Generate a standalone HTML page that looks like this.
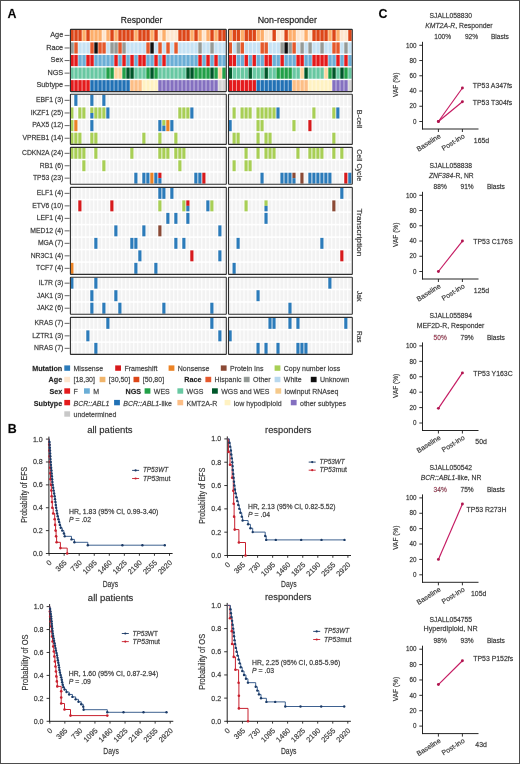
<!DOCTYPE html>
<html><head><meta charset="utf-8"><title>Figure</title>
<style>
html,body{margin:0;padding:0;background:#fff;}
body{width:520px;height:764px;overflow:hidden;}
svg{display:block;font-family:"Liberation Sans", sans-serif;will-change:transform;}
text{stroke:#3a3a3a;stroke-width:0.26px;stroke-opacity:0.65;}
</style></head>
<body>
<svg width="520" height="764" viewBox="0 0 520 764" font-family='"Liberation Sans", sans-serif'>
<rect x="0" y="0" width="520" height="764" fill="#fff"/>
<text x="7.6" y="17.6" font-size="12.4" font-weight="bold" fill="#000">A</text>
<text x="141.6" y="23.4" font-size="8.7" text-anchor="middle" textLength="41.7" lengthAdjust="spacingAndGlyphs">Responder</text>
<text x="287.3" y="23.4" font-size="8.7" text-anchor="middle" textLength="59.2" lengthAdjust="spacingAndGlyphs">Non-responder</text>
<rect x="70.3" y="29.8" width="3.45" height="11.2" fill="#dd4618" />
<rect x="74.3" y="29.8" width="3.45" height="11.2" fill="#dd4618" />
<rect x="78.3" y="29.8" width="3.45" height="11.2" fill="#dd4618" />
<rect x="82.3" y="29.8" width="3.45" height="11.2" fill="#fdae6b" />
<rect x="86.3" y="29.8" width="3.45" height="11.2" fill="#dd4618" />
<rect x="90.3" y="29.8" width="3.45" height="11.2" fill="#fdae6b" />
<rect x="94.3" y="29.8" width="3.45" height="11.2" fill="#fdae6b" />
<rect x="98.3" y="29.8" width="3.45" height="11.2" fill="#fdae6b" />
<rect x="102.3" y="29.8" width="3.45" height="11.2" fill="#fee6ce" />
<rect x="106.3" y="29.8" width="3.45" height="11.2" fill="#fdae6b" />
<rect x="110.3" y="29.8" width="3.45" height="11.2" fill="#dd4618" />
<rect x="114.3" y="29.8" width="3.45" height="11.2" fill="#fdae6b" />
<rect x="118.3" y="29.8" width="3.45" height="11.2" fill="#dd4618" />
<rect x="122.3" y="29.8" width="3.45" height="11.2" fill="#dd4618" />
<rect x="126.3" y="29.8" width="3.45" height="11.2" fill="#dd4618" />
<rect x="130.3" y="29.8" width="3.45" height="11.2" fill="#dd4618" />
<rect x="134.3" y="29.8" width="3.45" height="11.2" fill="#fdae6b" />
<rect x="138.3" y="29.8" width="3.45" height="11.2" fill="#dd4618" />
<rect x="142.3" y="29.8" width="3.45" height="11.2" fill="#dd4618" />
<rect x="146.3" y="29.8" width="3.45" height="11.2" fill="#dd4618" />
<rect x="150.3" y="29.8" width="3.45" height="11.2" fill="#fdae6b" />
<rect x="154.3" y="29.8" width="3.45" height="11.2" fill="#dd4618" />
<rect x="158.3" y="29.8" width="3.45" height="11.2" fill="#fee6ce" />
<rect x="162.3" y="29.8" width="3.45" height="11.2" fill="#fdae6b" />
<rect x="166.3" y="29.8" width="3.45" height="11.2" fill="#fee6ce" />
<rect x="170.3" y="29.8" width="3.45" height="11.2" fill="#fee6ce" />
<rect x="174.3" y="29.8" width="3.45" height="11.2" fill="#fee6ce" />
<rect x="178.3" y="29.8" width="3.45" height="11.2" fill="#dd4618" />
<rect x="182.3" y="29.8" width="3.45" height="11.2" fill="#dd4618" />
<rect x="186.3" y="29.8" width="3.45" height="11.2" fill="#dd4618" />
<rect x="190.3" y="29.8" width="3.45" height="11.2" fill="#fdae6b" />
<rect x="194.3" y="29.8" width="3.45" height="11.2" fill="#dd4618" />
<rect x="198.3" y="29.8" width="3.45" height="11.2" fill="#fdae6b" />
<rect x="202.3" y="29.8" width="3.45" height="11.2" fill="#fee6ce" />
<rect x="206.3" y="29.8" width="3.45" height="11.2" fill="#fdae6b" />
<rect x="210.3" y="29.8" width="3.45" height="11.2" fill="#dd4618" />
<rect x="214.3" y="29.8" width="3.45" height="11.2" fill="#fdae6b" />
<rect x="218.3" y="29.8" width="3.45" height="11.2" fill="#dd4618" />
<rect x="222.3" y="29.8" width="3.45" height="11.2" fill="#dd4618" />
<rect x="228.55" y="29.8" width="3.44" height="11.2" fill="#fdae6b" />
<rect x="232.54" y="29.8" width="3.44" height="11.2" fill="#dd4618" />
<rect x="236.53" y="29.8" width="3.44" height="11.2" fill="#dd4618" />
<rect x="240.52" y="29.8" width="3.44" height="11.2" fill="#fdae6b" />
<rect x="244.51" y="29.8" width="3.44" height="11.2" fill="#dd4618" />
<rect x="248.5" y="29.8" width="3.44" height="11.2" fill="#dd4618" />
<rect x="252.49" y="29.8" width="3.44" height="11.2" fill="#dd4618" />
<rect x="256.48" y="29.8" width="3.44" height="11.2" fill="#fdae6b" />
<rect x="260.47" y="29.8" width="3.44" height="11.2" fill="#fdae6b" />
<rect x="264.46" y="29.8" width="3.44" height="11.2" fill="#fee6ce" />
<rect x="268.45" y="29.8" width="3.44" height="11.2" fill="#fee6ce" />
<rect x="272.44" y="29.8" width="3.44" height="11.2" fill="#dd4618" />
<rect x="276.43" y="29.8" width="3.44" height="11.2" fill="#fee6ce" />
<rect x="280.42" y="29.8" width="3.44" height="11.2" fill="#fee6ce" />
<rect x="284.41" y="29.8" width="3.44" height="11.2" fill="#dd4618" />
<rect x="288.4" y="29.8" width="3.44" height="11.2" fill="#fdae6b" />
<rect x="292.39" y="29.8" width="3.44" height="11.2" fill="#fdae6b" />
<rect x="296.38" y="29.8" width="3.44" height="11.2" fill="#fee6ce" />
<rect x="300.37" y="29.8" width="3.44" height="11.2" fill="#fee6ce" />
<rect x="304.36" y="29.8" width="3.44" height="11.2" fill="#fdae6b" />
<rect x="308.35" y="29.8" width="3.44" height="11.2" fill="#fee6ce" />
<rect x="312.34" y="29.8" width="3.44" height="11.2" fill="#dd4618" />
<rect x="316.33" y="29.8" width="3.44" height="11.2" fill="#dd4618" />
<rect x="320.32" y="29.8" width="3.44" height="11.2" fill="#dd4618" />
<rect x="324.31" y="29.8" width="3.44" height="11.2" fill="#dd4618" />
<rect x="328.3" y="29.8" width="3.44" height="11.2" fill="#fdae6b" />
<rect x="332.29" y="29.8" width="3.44" height="11.2" fill="#dd4618" />
<rect x="336.28" y="29.8" width="3.44" height="11.2" fill="#fdae6b" />
<rect x="340.27" y="29.8" width="3.44" height="11.2" fill="#fee6ce" />
<rect x="344.26" y="29.8" width="3.44" height="11.2" fill="#fee6ce" />
<rect x="348.25" y="29.8" width="3.44" height="11.2" fill="#dd4618" />
<line x1="64.6" y1="35.4" x2="69.6" y2="35.4" stroke="#555" stroke-width="0.9" />
<text x="63.2" y="37.1" font-size="7.3" text-anchor="end" fill="#333">Age</text>
<rect x="70.3" y="42.38" width="3.45" height="11.2" fill="#949a97" />
<rect x="74.3" y="42.38" width="3.45" height="11.2" fill="#e4582c" />
<rect x="78.3" y="42.38" width="3.45" height="11.2" fill="#c6e2f4" />
<rect x="82.3" y="42.38" width="3.45" height="11.2" fill="#c6e2f4" />
<rect x="86.3" y="42.38" width="3.45" height="11.2" fill="#c6e2f4" />
<rect x="90.3" y="42.38" width="3.45" height="11.2" fill="#e4582c" />
<rect x="94.3" y="42.38" width="3.45" height="11.2" fill="#111111" />
<rect x="98.3" y="42.38" width="3.45" height="11.2" fill="#e4582c" />
<rect x="102.3" y="42.38" width="3.45" height="11.2" fill="#e4582c" />
<rect x="106.3" y="42.38" width="3.45" height="11.2" fill="#c6e2f4" />
<rect x="110.3" y="42.38" width="3.45" height="11.2" fill="#949a97" />
<rect x="114.3" y="42.38" width="3.45" height="11.2" fill="#949a97" />
<rect x="118.3" y="42.38" width="3.45" height="11.2" fill="#e4582c" />
<rect x="122.3" y="42.38" width="3.45" height="11.2" fill="#949a97" />
<rect x="126.3" y="42.38" width="3.45" height="11.2" fill="#c6e2f4" />
<rect x="130.3" y="42.38" width="3.45" height="11.2" fill="#c6e2f4" />
<rect x="134.3" y="42.38" width="3.45" height="11.2" fill="#c6e2f4" />
<rect x="138.3" y="42.38" width="3.45" height="11.2" fill="#c6e2f4" />
<rect x="142.3" y="42.38" width="3.45" height="11.2" fill="#c6e2f4" />
<rect x="146.3" y="42.38" width="3.45" height="11.2" fill="#e4582c" />
<rect x="150.3" y="42.38" width="3.45" height="11.2" fill="#111111" />
<rect x="154.3" y="42.38" width="3.45" height="11.2" fill="#c6e2f4" />
<rect x="158.3" y="42.38" width="3.45" height="11.2" fill="#e4582c" />
<rect x="162.3" y="42.38" width="3.45" height="11.2" fill="#c6e2f4" />
<rect x="166.3" y="42.38" width="3.45" height="11.2" fill="#e4582c" />
<rect x="170.3" y="42.38" width="3.45" height="11.2" fill="#c6e2f4" />
<rect x="174.3" y="42.38" width="3.45" height="11.2" fill="#e4582c" />
<rect x="178.3" y="42.38" width="3.45" height="11.2" fill="#c6e2f4" />
<rect x="182.3" y="42.38" width="3.45" height="11.2" fill="#c6e2f4" />
<rect x="186.3" y="42.38" width="3.45" height="11.2" fill="#c6e2f4" />
<rect x="190.3" y="42.38" width="3.45" height="11.2" fill="#c6e2f4" />
<rect x="194.3" y="42.38" width="3.45" height="11.2" fill="#c6e2f4" />
<rect x="198.3" y="42.38" width="3.45" height="11.2" fill="#949a97" />
<rect x="202.3" y="42.38" width="3.45" height="11.2" fill="#c6e2f4" />
<rect x="206.3" y="42.38" width="3.45" height="11.2" fill="#c6e2f4" />
<rect x="210.3" y="42.38" width="3.45" height="11.2" fill="#949a97" />
<rect x="214.3" y="42.38" width="3.45" height="11.2" fill="#c6e2f4" />
<rect x="218.3" y="42.38" width="3.45" height="11.2" fill="#c6e2f4" />
<rect x="222.3" y="42.38" width="3.45" height="11.2" fill="#c6e2f4" />
<rect x="228.55" y="42.38" width="3.44" height="11.2" fill="#e4582c" />
<rect x="232.54" y="42.38" width="3.44" height="11.2" fill="#c6e2f4" />
<rect x="236.53" y="42.38" width="3.44" height="11.2" fill="#949a97" />
<rect x="240.52" y="42.38" width="3.44" height="11.2" fill="#e4582c" />
<rect x="244.51" y="42.38" width="3.44" height="11.2" fill="#c6e2f4" />
<rect x="248.5" y="42.38" width="3.44" height="11.2" fill="#c6e2f4" />
<rect x="252.49" y="42.38" width="3.44" height="11.2" fill="#c6e2f4" />
<rect x="256.48" y="42.38" width="3.44" height="11.2" fill="#c6e2f4" />
<rect x="260.47" y="42.38" width="3.44" height="11.2" fill="#e4582c" />
<rect x="264.46" y="42.38" width="3.44" height="11.2" fill="#e4582c" />
<rect x="268.45" y="42.38" width="3.44" height="11.2" fill="#c6e2f4" />
<rect x="272.44" y="42.38" width="3.44" height="11.2" fill="#c6e2f4" />
<rect x="276.43" y="42.38" width="3.44" height="11.2" fill="#c6e2f4" />
<rect x="280.42" y="42.38" width="3.44" height="11.2" fill="#949a97" />
<rect x="284.41" y="42.38" width="3.44" height="11.2" fill="#111111" />
<rect x="288.4" y="42.38" width="3.44" height="11.2" fill="#949a97" />
<rect x="292.39" y="42.38" width="3.44" height="11.2" fill="#e4582c" />
<rect x="296.38" y="42.38" width="3.44" height="11.2" fill="#c6e2f4" />
<rect x="300.37" y="42.38" width="3.44" height="11.2" fill="#949a97" />
<rect x="304.36" y="42.38" width="3.44" height="11.2" fill="#c6e2f4" />
<rect x="308.35" y="42.38" width="3.44" height="11.2" fill="#949a97" />
<rect x="312.34" y="42.38" width="3.44" height="11.2" fill="#c6e2f4" />
<rect x="316.33" y="42.38" width="3.44" height="11.2" fill="#c6e2f4" />
<rect x="320.32" y="42.38" width="3.44" height="11.2" fill="#949a97" />
<rect x="324.31" y="42.38" width="3.44" height="11.2" fill="#c6e2f4" />
<rect x="328.3" y="42.38" width="3.44" height="11.2" fill="#c6e2f4" />
<rect x="332.29" y="42.38" width="3.44" height="11.2" fill="#e4582c" />
<rect x="336.28" y="42.38" width="3.44" height="11.2" fill="#e4582c" />
<rect x="340.27" y="42.38" width="3.44" height="11.2" fill="#c6e2f4" />
<rect x="344.26" y="42.38" width="3.44" height="11.2" fill="#949a97" />
<rect x="348.25" y="42.38" width="3.44" height="11.2" fill="#c6e2f4" />
<line x1="64.6" y1="47.98" x2="69.6" y2="47.98" stroke="#555" stroke-width="0.9" />
<text x="63.2" y="49.68" font-size="7.3" text-anchor="end" fill="#333">Race</text>
<rect x="70.3" y="54.96" width="3.45" height="11.2" fill="#e41a1c" />
<rect x="74.3" y="54.96" width="3.45" height="11.2" fill="#e41a1c" />
<rect x="78.3" y="54.96" width="3.45" height="11.2" fill="#6baed6" />
<rect x="82.3" y="54.96" width="3.45" height="11.2" fill="#6baed6" />
<rect x="86.3" y="54.96" width="3.45" height="11.2" fill="#e41a1c" />
<rect x="90.3" y="54.96" width="3.45" height="11.2" fill="#e41a1c" />
<rect x="94.3" y="54.96" width="3.45" height="11.2" fill="#6baed6" />
<rect x="98.3" y="54.96" width="3.45" height="11.2" fill="#6baed6" />
<rect x="102.3" y="54.96" width="3.45" height="11.2" fill="#6baed6" />
<rect x="106.3" y="54.96" width="3.45" height="11.2" fill="#6baed6" />
<rect x="110.3" y="54.96" width="3.45" height="11.2" fill="#6baed6" />
<rect x="114.3" y="54.96" width="3.45" height="11.2" fill="#e41a1c" />
<rect x="118.3" y="54.96" width="3.45" height="11.2" fill="#6baed6" />
<rect x="122.3" y="54.96" width="3.45" height="11.2" fill="#e41a1c" />
<rect x="126.3" y="54.96" width="3.45" height="11.2" fill="#6baed6" />
<rect x="130.3" y="54.96" width="3.45" height="11.2" fill="#e41a1c" />
<rect x="134.3" y="54.96" width="3.45" height="11.2" fill="#6baed6" />
<rect x="138.3" y="54.96" width="3.45" height="11.2" fill="#e41a1c" />
<rect x="142.3" y="54.96" width="3.45" height="11.2" fill="#e41a1c" />
<rect x="146.3" y="54.96" width="3.45" height="11.2" fill="#6baed6" />
<rect x="150.3" y="54.96" width="3.45" height="11.2" fill="#6baed6" />
<rect x="154.3" y="54.96" width="3.45" height="11.2" fill="#e41a1c" />
<rect x="158.3" y="54.96" width="3.45" height="11.2" fill="#6baed6" />
<rect x="162.3" y="54.96" width="3.45" height="11.2" fill="#e41a1c" />
<rect x="166.3" y="54.96" width="3.45" height="11.2" fill="#6baed6" />
<rect x="170.3" y="54.96" width="3.45" height="11.2" fill="#6baed6" />
<rect x="174.3" y="54.96" width="3.45" height="11.2" fill="#6baed6" />
<rect x="178.3" y="54.96" width="3.45" height="11.2" fill="#6baed6" />
<rect x="182.3" y="54.96" width="3.45" height="11.2" fill="#6baed6" />
<rect x="186.3" y="54.96" width="3.45" height="11.2" fill="#6baed6" />
<rect x="190.3" y="54.96" width="3.45" height="11.2" fill="#6baed6" />
<rect x="194.3" y="54.96" width="3.45" height="11.2" fill="#6baed6" />
<rect x="198.3" y="54.96" width="3.45" height="11.2" fill="#e41a1c" />
<rect x="202.3" y="54.96" width="3.45" height="11.2" fill="#6baed6" />
<rect x="206.3" y="54.96" width="3.45" height="11.2" fill="#e41a1c" />
<rect x="210.3" y="54.96" width="3.45" height="11.2" fill="#6baed6" />
<rect x="214.3" y="54.96" width="3.45" height="11.2" fill="#e41a1c" />
<rect x="218.3" y="54.96" width="3.45" height="11.2" fill="#6baed6" />
<rect x="222.3" y="54.96" width="3.45" height="11.2" fill="#6baed6" />
<rect x="228.55" y="54.96" width="3.44" height="11.2" fill="#e41a1c" />
<rect x="232.54" y="54.96" width="3.44" height="11.2" fill="#e41a1c" />
<rect x="236.53" y="54.96" width="3.44" height="11.2" fill="#6baed6" />
<rect x="240.52" y="54.96" width="3.44" height="11.2" fill="#6baed6" />
<rect x="244.51" y="54.96" width="3.44" height="11.2" fill="#e41a1c" />
<rect x="248.5" y="54.96" width="3.44" height="11.2" fill="#6baed6" />
<rect x="252.49" y="54.96" width="3.44" height="11.2" fill="#e41a1c" />
<rect x="256.48" y="54.96" width="3.44" height="11.2" fill="#6baed6" />
<rect x="260.47" y="54.96" width="3.44" height="11.2" fill="#6baed6" />
<rect x="264.46" y="54.96" width="3.44" height="11.2" fill="#e41a1c" />
<rect x="268.45" y="54.96" width="3.44" height="11.2" fill="#e41a1c" />
<rect x="272.44" y="54.96" width="3.44" height="11.2" fill="#6baed6" />
<rect x="276.43" y="54.96" width="3.44" height="11.2" fill="#6baed6" />
<rect x="280.42" y="54.96" width="3.44" height="11.2" fill="#e41a1c" />
<rect x="284.41" y="54.96" width="3.44" height="11.2" fill="#6baed6" />
<rect x="288.4" y="54.96" width="3.44" height="11.2" fill="#6baed6" />
<rect x="292.39" y="54.96" width="3.44" height="11.2" fill="#6baed6" />
<rect x="296.38" y="54.96" width="3.44" height="11.2" fill="#e41a1c" />
<rect x="300.37" y="54.96" width="3.44" height="11.2" fill="#e41a1c" />
<rect x="304.36" y="54.96" width="3.44" height="11.2" fill="#6baed6" />
<rect x="308.35" y="54.96" width="3.44" height="11.2" fill="#6baed6" />
<rect x="312.34" y="54.96" width="3.44" height="11.2" fill="#e41a1c" />
<rect x="316.33" y="54.96" width="3.44" height="11.2" fill="#e41a1c" />
<rect x="320.32" y="54.96" width="3.44" height="11.2" fill="#e41a1c" />
<rect x="324.31" y="54.96" width="3.44" height="11.2" fill="#e41a1c" />
<rect x="328.3" y="54.96" width="3.44" height="11.2" fill="#6baed6" />
<rect x="332.29" y="54.96" width="3.44" height="11.2" fill="#6baed6" />
<rect x="336.28" y="54.96" width="3.44" height="11.2" fill="#e41a1c" />
<rect x="340.27" y="54.96" width="3.44" height="11.2" fill="#6baed6" />
<rect x="344.26" y="54.96" width="3.44" height="11.2" fill="#e41a1c" />
<rect x="348.25" y="54.96" width="3.44" height="11.2" fill="#6baed6" />
<line x1="64.6" y1="60.56" x2="69.6" y2="60.56" stroke="#555" stroke-width="0.9" />
<text x="63.2" y="62.26" font-size="7.3" text-anchor="end" fill="#333">Sex</text>
<rect x="70.3" y="67.54" width="3.45" height="11.2" fill="#68c8a2" />
<rect x="74.3" y="67.54" width="3.45" height="11.2" fill="#68c8a2" />
<rect x="78.3" y="67.54" width="3.45" height="11.2" fill="#68c8a2" />
<rect x="82.3" y="67.54" width="3.45" height="11.2" fill="#68c8a2" />
<rect x="86.3" y="67.54" width="3.45" height="11.2" fill="#68c8a2" />
<rect x="90.3" y="67.54" width="3.45" height="11.2" fill="#68c8a2" />
<rect x="94.3" y="67.54" width="3.45" height="11.2" fill="#68c8a2" />
<rect x="98.3" y="67.54" width="3.45" height="11.2" fill="#68c8a2" />
<rect x="102.3" y="67.54" width="3.45" height="11.2" fill="#68c8a2" />
<rect x="106.3" y="67.54" width="3.45" height="11.2" fill="#22a048" />
<rect x="110.3" y="67.54" width="3.45" height="11.2" fill="#22a048" />
<rect x="114.3" y="67.54" width="3.45" height="11.2" fill="#fdd49e" />
<rect x="118.3" y="67.54" width="3.45" height="11.2" fill="#fdd49e" />
<rect x="122.3" y="67.54" width="3.45" height="11.2" fill="#22a048" />
<rect x="126.3" y="67.54" width="3.45" height="11.2" fill="#00572a" />
<rect x="130.3" y="67.54" width="3.45" height="11.2" fill="#00572a" />
<rect x="134.3" y="67.54" width="3.45" height="11.2" fill="#68c8a2" />
<rect x="138.3" y="67.54" width="3.45" height="11.2" fill="#68c8a2" />
<rect x="142.3" y="67.54" width="3.45" height="11.2" fill="#68c8a2" />
<rect x="146.3" y="67.54" width="3.45" height="11.2" fill="#22a048" />
<rect x="150.3" y="67.54" width="3.45" height="11.2" fill="#00572a" />
<rect x="154.3" y="67.54" width="3.45" height="11.2" fill="#22a048" />
<rect x="158.3" y="67.54" width="3.45" height="11.2" fill="#68c8a2" />
<rect x="162.3" y="67.54" width="3.45" height="11.2" fill="#68c8a2" />
<rect x="166.3" y="67.54" width="3.45" height="11.2" fill="#68c8a2" />
<rect x="170.3" y="67.54" width="3.45" height="11.2" fill="#68c8a2" />
<rect x="174.3" y="67.54" width="3.45" height="11.2" fill="#68c8a2" />
<rect x="178.3" y="67.54" width="3.45" height="11.2" fill="#68c8a2" />
<rect x="182.3" y="67.54" width="3.45" height="11.2" fill="#68c8a2" />
<rect x="186.3" y="67.54" width="3.45" height="11.2" fill="#00572a" />
<rect x="190.3" y="67.54" width="3.45" height="11.2" fill="#00572a" />
<rect x="194.3" y="67.54" width="3.45" height="11.2" fill="#22a048" />
<rect x="198.3" y="67.54" width="3.45" height="11.2" fill="#22a048" />
<rect x="202.3" y="67.54" width="3.45" height="11.2" fill="#22a048" />
<rect x="206.3" y="67.54" width="3.45" height="11.2" fill="#22a048" />
<rect x="210.3" y="67.54" width="3.45" height="11.2" fill="#00572a" />
<rect x="214.3" y="67.54" width="3.45" height="11.2" fill="#22a048" />
<rect x="218.3" y="67.54" width="3.45" height="11.2" fill="#fdd49e" />
<rect x="222.3" y="67.54" width="3.45" height="11.2" fill="#22a048" />
<rect x="228.55" y="67.54" width="3.44" height="11.2" fill="#00572a" />
<rect x="232.54" y="67.54" width="3.44" height="11.2" fill="#68c8a2" />
<rect x="236.53" y="67.54" width="3.44" height="11.2" fill="#68c8a2" />
<rect x="240.52" y="67.54" width="3.44" height="11.2" fill="#68c8a2" />
<rect x="244.51" y="67.54" width="3.44" height="11.2" fill="#68c8a2" />
<rect x="248.5" y="67.54" width="3.44" height="11.2" fill="#00572a" />
<rect x="252.49" y="67.54" width="3.44" height="11.2" fill="#68c8a2" />
<rect x="256.48" y="67.54" width="3.44" height="11.2" fill="#68c8a2" />
<rect x="260.47" y="67.54" width="3.44" height="11.2" fill="#68c8a2" />
<rect x="264.46" y="67.54" width="3.44" height="11.2" fill="#00572a" />
<rect x="268.45" y="67.54" width="3.44" height="11.2" fill="#68c8a2" />
<rect x="272.44" y="67.54" width="3.44" height="11.2" fill="#68c8a2" />
<rect x="276.43" y="67.54" width="3.44" height="11.2" fill="#22a048" />
<rect x="280.42" y="67.54" width="3.44" height="11.2" fill="#22a048" />
<rect x="284.41" y="67.54" width="3.44" height="11.2" fill="#22a048" />
<rect x="288.4" y="67.54" width="3.44" height="11.2" fill="#22a048" />
<rect x="292.39" y="67.54" width="3.44" height="11.2" fill="#68c8a2" />
<rect x="296.38" y="67.54" width="3.44" height="11.2" fill="#68c8a2" />
<rect x="300.37" y="67.54" width="3.44" height="11.2" fill="#fdd49e" />
<rect x="304.36" y="67.54" width="3.44" height="11.2" fill="#00572a" />
<rect x="308.35" y="67.54" width="3.44" height="11.2" fill="#68c8a2" />
<rect x="312.34" y="67.54" width="3.44" height="11.2" fill="#68c8a2" />
<rect x="316.33" y="67.54" width="3.44" height="11.2" fill="#68c8a2" />
<rect x="320.32" y="67.54" width="3.44" height="11.2" fill="#68c8a2" />
<rect x="324.31" y="67.54" width="3.44" height="11.2" fill="#fdd49e" />
<rect x="328.3" y="67.54" width="3.44" height="11.2" fill="#22a048" />
<rect x="332.29" y="67.54" width="3.44" height="11.2" fill="#00572a" />
<rect x="336.28" y="67.54" width="3.44" height="11.2" fill="#68c8a2" />
<rect x="340.27" y="67.54" width="3.44" height="11.2" fill="#00572a" />
<rect x="344.26" y="67.54" width="3.44" height="11.2" fill="#22a048" />
<rect x="348.25" y="67.54" width="3.44" height="11.2" fill="#68c8a2" />
<line x1="64.6" y1="73.14" x2="69.6" y2="73.14" stroke="#555" stroke-width="0.9" />
<text x="63.2" y="74.84" font-size="7.3" text-anchor="end" fill="#333">NGS</text>
<rect x="70.3" y="80.12" width="3.45" height="11.2" fill="#e41a1c" />
<rect x="74.3" y="80.12" width="3.45" height="11.2" fill="#e41a1c" />
<rect x="78.3" y="80.12" width="3.45" height="11.2" fill="#e41a1c" />
<rect x="82.3" y="80.12" width="3.45" height="11.2" fill="#e41a1c" />
<rect x="86.3" y="80.12" width="3.45" height="11.2" fill="#e41a1c" />
<rect x="90.3" y="80.12" width="3.45" height="11.2" fill="#2171b5" />
<rect x="94.3" y="80.12" width="3.45" height="11.2" fill="#2171b5" />
<rect x="98.3" y="80.12" width="3.45" height="11.2" fill="#2171b5" />
<rect x="102.3" y="80.12" width="3.45" height="11.2" fill="#2171b5" />
<rect x="106.3" y="80.12" width="3.45" height="11.2" fill="#2171b5" />
<rect x="110.3" y="80.12" width="3.45" height="11.2" fill="#2171b5" />
<rect x="114.3" y="80.12" width="3.45" height="11.2" fill="#2171b5" />
<rect x="118.3" y="80.12" width="3.45" height="11.2" fill="#2171b5" />
<rect x="122.3" y="80.12" width="3.45" height="11.2" fill="#2171b5" />
<rect x="126.3" y="80.12" width="3.45" height="11.2" fill="#2171b5" />
<rect x="130.3" y="80.12" width="3.45" height="11.2" fill="#fdbe85" />
<rect x="134.3" y="80.12" width="3.45" height="11.2" fill="#fdbe85" />
<rect x="138.3" y="80.12" width="3.45" height="11.2" fill="#fdbe85" />
<rect x="142.3" y="80.12" width="3.45" height="11.2" fill="#fff2c2" />
<rect x="146.3" y="80.12" width="3.45" height="11.2" fill="#fff2c2" />
<rect x="150.3" y="80.12" width="3.45" height="11.2" fill="#fff2c2" />
<rect x="154.3" y="80.12" width="3.45" height="11.2" fill="#fff2c2" />
<rect x="158.3" y="80.12" width="3.45" height="11.2" fill="#8470c0" />
<rect x="162.3" y="80.12" width="3.45" height="11.2" fill="#8470c0" />
<rect x="166.3" y="80.12" width="3.45" height="11.2" fill="#8470c0" />
<rect x="170.3" y="80.12" width="3.45" height="11.2" fill="#8470c0" />
<rect x="174.3" y="80.12" width="3.45" height="11.2" fill="#8470c0" />
<rect x="178.3" y="80.12" width="3.45" height="11.2" fill="#8470c0" />
<rect x="182.3" y="80.12" width="3.45" height="11.2" fill="#8470c0" />
<rect x="186.3" y="80.12" width="3.45" height="11.2" fill="#8470c0" />
<rect x="190.3" y="80.12" width="3.45" height="11.2" fill="#8470c0" />
<rect x="194.3" y="80.12" width="3.45" height="11.2" fill="#8470c0" />
<rect x="198.3" y="80.12" width="3.45" height="11.2" fill="#8470c0" />
<rect x="202.3" y="80.12" width="3.45" height="11.2" fill="#8470c0" />
<rect x="206.3" y="80.12" width="3.45" height="11.2" fill="#8470c0" />
<rect x="210.3" y="80.12" width="3.45" height="11.2" fill="#8470c0" />
<rect x="214.3" y="80.12" width="3.45" height="11.2" fill="#8470c0" />
<rect x="218.3" y="80.12" width="3.45" height="11.2" fill="#d4d4d4" />
<rect x="222.3" y="80.12" width="3.45" height="11.2" fill="#d4d4d4" />
<rect x="228.55" y="80.12" width="3.44" height="11.2" fill="#e41a1c" />
<rect x="232.54" y="80.12" width="3.44" height="11.2" fill="#e41a1c" />
<rect x="236.53" y="80.12" width="3.44" height="11.2" fill="#e41a1c" />
<rect x="240.52" y="80.12" width="3.44" height="11.2" fill="#e41a1c" />
<rect x="244.51" y="80.12" width="3.44" height="11.2" fill="#e41a1c" />
<rect x="248.5" y="80.12" width="3.44" height="11.2" fill="#e41a1c" />
<rect x="252.49" y="80.12" width="3.44" height="11.2" fill="#e41a1c" />
<rect x="256.48" y="80.12" width="3.44" height="11.2" fill="#2171b5" />
<rect x="260.47" y="80.12" width="3.44" height="11.2" fill="#2171b5" />
<rect x="264.46" y="80.12" width="3.44" height="11.2" fill="#2171b5" />
<rect x="268.45" y="80.12" width="3.44" height="11.2" fill="#2171b5" />
<rect x="272.44" y="80.12" width="3.44" height="11.2" fill="#2171b5" />
<rect x="276.43" y="80.12" width="3.44" height="11.2" fill="#2171b5" />
<rect x="280.42" y="80.12" width="3.44" height="11.2" fill="#2171b5" />
<rect x="284.41" y="80.12" width="3.44" height="11.2" fill="#2171b5" />
<rect x="288.4" y="80.12" width="3.44" height="11.2" fill="#2171b5" />
<rect x="292.39" y="80.12" width="3.44" height="11.2" fill="#fdbe85" />
<rect x="296.38" y="80.12" width="3.44" height="11.2" fill="#fdbe85" />
<rect x="300.37" y="80.12" width="3.44" height="11.2" fill="#fdbe85" />
<rect x="304.36" y="80.12" width="3.44" height="11.2" fill="#fdbe85" />
<rect x="308.35" y="80.12" width="3.44" height="11.2" fill="#fff2c2" />
<rect x="312.34" y="80.12" width="3.44" height="11.2" fill="#fff2c2" />
<rect x="316.33" y="80.12" width="3.44" height="11.2" fill="#fff2c2" />
<rect x="320.32" y="80.12" width="3.44" height="11.2" fill="#fff2c2" />
<rect x="324.31" y="80.12" width="3.44" height="11.2" fill="#fff2c2" />
<rect x="328.3" y="80.12" width="3.44" height="11.2" fill="#fff2c2" />
<rect x="332.29" y="80.12" width="3.44" height="11.2" fill="#8470c0" />
<rect x="336.28" y="80.12" width="3.44" height="11.2" fill="#8470c0" />
<rect x="340.27" y="80.12" width="3.44" height="11.2" fill="#8470c0" />
<rect x="344.26" y="80.12" width="3.44" height="11.2" fill="#8470c0" />
<rect x="348.25" y="80.12" width="3.44" height="11.2" fill="#d4d4d4" />
<line x1="64.6" y1="85.72" x2="69.6" y2="85.72" stroke="#555" stroke-width="0.9" />
<text x="63.2" y="87.42" font-size="7.3" text-anchor="end" fill="#333">Subtype</text>
<rect x="70.4" y="29.4" width="155.9" height="62.2" rx="0.5" fill="none" stroke="#2e2e2e" stroke-width="1.1"/>
<rect x="228.5" y="29.4" width="123.8" height="62.2" rx="0.5" fill="none" stroke="#2e2e2e" stroke-width="1.1"/>
<rect x="70.3" y="94.8" width="2.95" height="11.09" fill="#f2f2f2" />
<rect x="74.3" y="94.8" width="2.95" height="11.09" fill="#f2f2f2" />
<rect x="74.3" y="94.8" width="3.15" height="11.09" fill="#2b7bba" />
<rect x="78.3" y="94.8" width="2.95" height="11.09" fill="#f2f2f2" />
<rect x="82.3" y="94.8" width="2.95" height="11.09" fill="#f2f2f2" />
<rect x="86.3" y="94.8" width="2.95" height="11.09" fill="#f2f2f2" />
<rect x="90.3" y="94.8" width="2.95" height="11.09" fill="#f2f2f2" />
<rect x="90.3" y="94.8" width="3.15" height="11.09" fill="#2b7bba" />
<rect x="94.3" y="94.8" width="2.95" height="11.09" fill="#f2f2f2" />
<rect x="98.3" y="94.8" width="2.95" height="11.09" fill="#f2f2f2" />
<rect x="102.3" y="94.8" width="2.95" height="11.09" fill="#f2f2f2" />
<rect x="102.3" y="94.8" width="3.15" height="11.09" fill="#2b7bba" />
<rect x="106.3" y="94.8" width="2.95" height="11.09" fill="#f2f2f2" />
<rect x="110.3" y="94.8" width="2.95" height="11.09" fill="#f2f2f2" />
<rect x="114.3" y="94.8" width="2.95" height="11.09" fill="#f2f2f2" />
<rect x="118.3" y="94.8" width="2.95" height="11.09" fill="#f2f2f2" />
<rect x="122.3" y="94.8" width="2.95" height="11.09" fill="#f2f2f2" />
<rect x="126.3" y="94.8" width="2.95" height="11.09" fill="#f2f2f2" />
<rect x="130.3" y="94.8" width="2.95" height="11.09" fill="#f2f2f2" />
<rect x="134.3" y="94.8" width="2.95" height="11.09" fill="#f2f2f2" />
<rect x="138.3" y="94.8" width="2.95" height="11.09" fill="#f2f2f2" />
<rect x="142.3" y="94.8" width="2.95" height="11.09" fill="#f2f2f2" />
<rect x="146.3" y="94.8" width="2.95" height="11.09" fill="#f2f2f2" />
<rect x="150.3" y="94.8" width="2.95" height="11.09" fill="#f2f2f2" />
<rect x="154.3" y="94.8" width="2.95" height="11.09" fill="#f2f2f2" />
<rect x="158.3" y="94.8" width="2.95" height="11.09" fill="#f2f2f2" />
<rect x="162.3" y="94.8" width="2.95" height="11.09" fill="#f2f2f2" />
<rect x="166.3" y="94.8" width="2.95" height="11.09" fill="#f2f2f2" />
<rect x="170.3" y="94.8" width="2.95" height="11.09" fill="#f2f2f2" />
<rect x="174.3" y="94.8" width="2.95" height="11.09" fill="#f2f2f2" />
<rect x="178.3" y="94.8" width="2.95" height="11.09" fill="#f2f2f2" />
<rect x="182.3" y="94.8" width="2.95" height="11.09" fill="#f2f2f2" />
<rect x="186.3" y="94.8" width="2.95" height="11.09" fill="#f2f2f2" />
<rect x="190.3" y="94.8" width="2.95" height="11.09" fill="#f2f2f2" />
<rect x="194.3" y="94.8" width="2.95" height="11.09" fill="#f2f2f2" />
<rect x="198.3" y="94.8" width="2.95" height="11.09" fill="#f2f2f2" />
<rect x="202.3" y="94.8" width="2.95" height="11.09" fill="#f2f2f2" />
<rect x="206.3" y="94.8" width="2.95" height="11.09" fill="#f2f2f2" />
<rect x="210.3" y="94.8" width="2.95" height="11.09" fill="#f2f2f2" />
<rect x="214.3" y="94.8" width="2.95" height="11.09" fill="#f2f2f2" />
<rect x="218.3" y="94.8" width="2.95" height="11.09" fill="#f2f2f2" />
<rect x="222.3" y="94.8" width="2.95" height="11.09" fill="#f2f2f2" />
<rect x="228.55" y="94.8" width="2.94" height="11.09" fill="#f2f2f2" />
<rect x="232.54" y="94.8" width="2.94" height="11.09" fill="#f2f2f2" />
<rect x="236.53" y="94.8" width="2.94" height="11.09" fill="#f2f2f2" />
<rect x="240.52" y="94.8" width="2.94" height="11.09" fill="#f2f2f2" />
<rect x="244.51" y="94.8" width="2.94" height="11.09" fill="#f2f2f2" />
<rect x="248.5" y="94.8" width="2.94" height="11.09" fill="#f2f2f2" />
<rect x="252.49" y="94.8" width="2.94" height="11.09" fill="#f2f2f2" />
<rect x="256.48" y="94.8" width="2.94" height="11.09" fill="#f2f2f2" />
<rect x="260.47" y="94.8" width="2.94" height="11.09" fill="#f2f2f2" />
<rect x="264.46" y="94.8" width="2.94" height="11.09" fill="#f2f2f2" />
<rect x="268.45" y="94.8" width="2.94" height="11.09" fill="#f2f2f2" />
<rect x="272.44" y="94.8" width="2.94" height="11.09" fill="#f2f2f2" />
<rect x="276.43" y="94.8" width="2.94" height="11.09" fill="#f2f2f2" />
<rect x="280.42" y="94.8" width="2.94" height="11.09" fill="#f2f2f2" />
<rect x="284.41" y="94.8" width="2.94" height="11.09" fill="#f2f2f2" />
<rect x="288.4" y="94.8" width="2.94" height="11.09" fill="#f2f2f2" />
<rect x="292.39" y="94.8" width="2.94" height="11.09" fill="#f2f2f2" />
<rect x="296.38" y="94.8" width="2.94" height="11.09" fill="#f2f2f2" />
<rect x="300.37" y="94.8" width="2.94" height="11.09" fill="#f2f2f2" />
<rect x="304.36" y="94.8" width="2.94" height="11.09" fill="#f2f2f2" />
<rect x="308.35" y="94.8" width="2.94" height="11.09" fill="#f2f2f2" />
<rect x="312.34" y="94.8" width="2.94" height="11.09" fill="#f2f2f2" />
<rect x="316.33" y="94.8" width="2.94" height="11.09" fill="#f2f2f2" />
<rect x="320.32" y="94.8" width="2.94" height="11.09" fill="#f2f2f2" />
<rect x="324.31" y="94.8" width="2.94" height="11.09" fill="#f2f2f2" />
<rect x="328.3" y="94.8" width="2.94" height="11.09" fill="#f2f2f2" />
<rect x="332.29" y="94.8" width="2.94" height="11.09" fill="#f2f2f2" />
<rect x="336.28" y="94.8" width="2.94" height="11.09" fill="#f2f2f2" />
<rect x="340.27" y="94.8" width="2.94" height="11.09" fill="#f2f2f2" />
<rect x="344.26" y="94.8" width="2.94" height="11.09" fill="#f2f2f2" />
<rect x="348.25" y="94.8" width="2.94" height="11.09" fill="#f2f2f2" />
<line x1="64.6" y1="100.34" x2="69.6" y2="100.34" stroke="#555" stroke-width="0.9" />
<text x="63.2" y="102.14" font-size="6.8" text-anchor="end" fill="#333">EBF1 (3)</text>
<rect x="70.3" y="107.44" width="2.95" height="11.09" fill="#f2f2f2" />
<rect x="70.3" y="107.44" width="3.15" height="11.09" fill="#a8cf55" />
<rect x="74.3" y="107.44" width="2.95" height="11.09" fill="#f2f2f2" />
<rect x="78.3" y="107.44" width="2.95" height="11.09" fill="#f2f2f2" />
<rect x="78.3" y="107.44" width="3.15" height="11.09" fill="#a8cf55" />
<rect x="82.3" y="107.44" width="2.95" height="11.09" fill="#f2f2f2" />
<rect x="82.3" y="107.44" width="3.15" height="11.09" fill="#a8cf55" />
<rect x="86.3" y="107.44" width="2.95" height="11.09" fill="#f2f2f2" />
<rect x="90.3" y="107.44" width="2.95" height="11.09" fill="#f2f2f2" />
<rect x="90.3" y="107.44" width="3.15" height="5.54" fill="#a8cf55" />
<rect x="90.3" y="112.98" width="3.15" height="5.54" fill="#2b7bba" />
<rect x="94.3" y="107.44" width="2.95" height="11.09" fill="#f2f2f2" />
<rect x="94.3" y="107.44" width="3.15" height="11.09" fill="#a8cf55" />
<rect x="98.3" y="107.44" width="2.95" height="11.09" fill="#f2f2f2" />
<rect x="98.3" y="107.44" width="3.15" height="11.09" fill="#a8cf55" />
<rect x="102.3" y="107.44" width="2.95" height="11.09" fill="#f2f2f2" />
<rect x="102.3" y="107.44" width="3.15" height="11.09" fill="#a8cf55" />
<rect x="106.3" y="107.44" width="2.95" height="11.09" fill="#f2f2f2" />
<rect x="106.3" y="107.44" width="3.15" height="11.09" fill="#2b7bba" />
<rect x="110.3" y="107.44" width="2.95" height="11.09" fill="#f2f2f2" />
<rect x="114.3" y="107.44" width="2.95" height="11.09" fill="#f2f2f2" />
<rect x="118.3" y="107.44" width="2.95" height="11.09" fill="#f2f2f2" />
<rect x="122.3" y="107.44" width="2.95" height="11.09" fill="#f2f2f2" />
<rect x="126.3" y="107.44" width="2.95" height="11.09" fill="#f2f2f2" />
<rect x="130.3" y="107.44" width="2.95" height="11.09" fill="#f2f2f2" />
<rect x="134.3" y="107.44" width="2.95" height="11.09" fill="#f2f2f2" />
<rect x="138.3" y="107.44" width="2.95" height="11.09" fill="#f2f2f2" />
<rect x="142.3" y="107.44" width="2.95" height="11.09" fill="#f2f2f2" />
<rect x="146.3" y="107.44" width="2.95" height="11.09" fill="#f2f2f2" />
<rect x="150.3" y="107.44" width="2.95" height="11.09" fill="#f2f2f2" />
<rect x="154.3" y="107.44" width="2.95" height="11.09" fill="#f2f2f2" />
<rect x="158.3" y="107.44" width="2.95" height="11.09" fill="#f2f2f2" />
<rect x="162.3" y="107.44" width="2.95" height="11.09" fill="#f2f2f2" />
<rect x="166.3" y="107.44" width="2.95" height="11.09" fill="#f2f2f2" />
<rect x="170.3" y="107.44" width="2.95" height="11.09" fill="#f2f2f2" />
<rect x="174.3" y="107.44" width="2.95" height="11.09" fill="#f2f2f2" />
<rect x="178.3" y="107.44" width="2.95" height="11.09" fill="#f2f2f2" />
<rect x="178.3" y="107.44" width="3.15" height="11.09" fill="#a8cf55" />
<rect x="182.3" y="107.44" width="2.95" height="11.09" fill="#f2f2f2" />
<rect x="182.3" y="107.44" width="3.15" height="11.09" fill="#a8cf55" />
<rect x="186.3" y="107.44" width="2.95" height="11.09" fill="#f2f2f2" />
<rect x="186.3" y="107.44" width="3.15" height="11.09" fill="#a8cf55" />
<rect x="190.3" y="107.44" width="2.95" height="11.09" fill="#f2f2f2" />
<rect x="190.3" y="107.44" width="3.15" height="11.09" fill="#2b7bba" />
<rect x="194.3" y="107.44" width="2.95" height="11.09" fill="#f2f2f2" />
<rect x="198.3" y="107.44" width="2.95" height="11.09" fill="#f2f2f2" />
<rect x="202.3" y="107.44" width="2.95" height="11.09" fill="#f2f2f2" />
<rect x="206.3" y="107.44" width="2.95" height="11.09" fill="#f2f2f2" />
<rect x="210.3" y="107.44" width="2.95" height="11.09" fill="#f2f2f2" />
<rect x="214.3" y="107.44" width="2.95" height="11.09" fill="#f2f2f2" />
<rect x="218.3" y="107.44" width="2.95" height="11.09" fill="#f2f2f2" />
<rect x="222.3" y="107.44" width="2.95" height="11.09" fill="#f2f2f2" />
<rect x="228.55" y="107.44" width="2.94" height="11.09" fill="#f2f2f2" />
<rect x="232.54" y="107.44" width="2.94" height="11.09" fill="#f2f2f2" />
<rect x="232.54" y="107.44" width="3.14" height="11.09" fill="#a8cf55" />
<rect x="236.53" y="107.44" width="2.94" height="11.09" fill="#f2f2f2" />
<rect x="240.52" y="107.44" width="2.94" height="11.09" fill="#f2f2f2" />
<rect x="240.52" y="107.44" width="3.14" height="11.09" fill="#a8cf55" />
<rect x="244.51" y="107.44" width="2.94" height="11.09" fill="#f2f2f2" />
<rect x="244.51" y="107.44" width="3.14" height="11.09" fill="#a8cf55" />
<rect x="248.5" y="107.44" width="2.94" height="11.09" fill="#f2f2f2" />
<rect x="248.5" y="107.44" width="3.14" height="11.09" fill="#a8cf55" />
<rect x="252.49" y="107.44" width="2.94" height="11.09" fill="#f2f2f2" />
<rect x="256.48" y="107.44" width="2.94" height="11.09" fill="#f2f2f2" />
<rect x="256.48" y="107.44" width="3.14" height="11.09" fill="#a8cf55" />
<rect x="260.47" y="107.44" width="2.94" height="11.09" fill="#f2f2f2" />
<rect x="260.47" y="107.44" width="3.14" height="11.09" fill="#a8cf55" />
<rect x="264.46" y="107.44" width="2.94" height="11.09" fill="#f2f2f2" />
<rect x="264.46" y="107.44" width="3.14" height="11.09" fill="#a8cf55" />
<rect x="268.45" y="107.44" width="2.94" height="11.09" fill="#f2f2f2" />
<rect x="268.45" y="107.44" width="3.14" height="11.09" fill="#a8cf55" />
<rect x="272.44" y="107.44" width="2.94" height="11.09" fill="#f2f2f2" />
<rect x="272.44" y="107.44" width="3.14" height="11.09" fill="#a8cf55" />
<rect x="276.43" y="107.44" width="2.94" height="11.09" fill="#f2f2f2" />
<rect x="276.43" y="107.44" width="3.14" height="11.09" fill="#2b7bba" />
<rect x="280.42" y="107.44" width="2.94" height="11.09" fill="#f2f2f2" />
<rect x="284.41" y="107.44" width="2.94" height="11.09" fill="#f2f2f2" />
<rect x="288.4" y="107.44" width="2.94" height="11.09" fill="#f2f2f2" />
<rect x="292.39" y="107.44" width="2.94" height="11.09" fill="#f2f2f2" />
<rect x="296.38" y="107.44" width="2.94" height="11.09" fill="#f2f2f2" />
<rect x="300.37" y="107.44" width="2.94" height="11.09" fill="#f2f2f2" />
<rect x="304.36" y="107.44" width="2.94" height="11.09" fill="#f2f2f2" />
<rect x="308.35" y="107.44" width="2.94" height="11.09" fill="#f2f2f2" />
<rect x="312.34" y="107.44" width="2.94" height="11.09" fill="#f2f2f2" />
<rect x="312.34" y="107.44" width="3.14" height="11.09" fill="#a8cf55" />
<rect x="316.33" y="107.44" width="2.94" height="11.09" fill="#f2f2f2" />
<rect x="320.32" y="107.44" width="2.94" height="11.09" fill="#f2f2f2" />
<rect x="324.31" y="107.44" width="2.94" height="11.09" fill="#f2f2f2" />
<rect x="328.3" y="107.44" width="2.94" height="11.09" fill="#f2f2f2" />
<rect x="332.29" y="107.44" width="2.94" height="11.09" fill="#f2f2f2" />
<rect x="332.29" y="107.44" width="3.14" height="11.09" fill="#a8cf55" />
<rect x="336.28" y="107.44" width="2.94" height="11.09" fill="#f2f2f2" />
<rect x="336.28" y="107.44" width="3.14" height="11.09" fill="#2b7bba" />
<rect x="340.27" y="107.44" width="2.94" height="11.09" fill="#f2f2f2" />
<rect x="344.26" y="107.44" width="2.94" height="11.09" fill="#f2f2f2" />
<rect x="348.25" y="107.44" width="2.94" height="11.09" fill="#f2f2f2" />
<line x1="64.6" y1="112.98" x2="69.6" y2="112.98" stroke="#555" stroke-width="0.9" />
<text x="63.2" y="114.78" font-size="6.8" text-anchor="end" fill="#333">IKZF1 (25)</text>
<rect x="70.3" y="120.08" width="2.95" height="11.09" fill="#f2f2f2" />
<rect x="70.3" y="120.08" width="3.15" height="11.09" fill="#a8cf55" />
<rect x="74.3" y="120.08" width="2.95" height="11.09" fill="#f2f2f2" />
<rect x="74.3" y="120.08" width="3.15" height="11.09" fill="#ec8325" />
<rect x="78.3" y="120.08" width="2.95" height="11.09" fill="#f2f2f2" />
<rect x="82.3" y="120.08" width="2.95" height="11.09" fill="#f2f2f2" />
<rect x="86.3" y="120.08" width="2.95" height="11.09" fill="#f2f2f2" />
<rect x="90.3" y="120.08" width="2.95" height="11.09" fill="#f2f2f2" />
<rect x="90.3" y="120.08" width="3.15" height="11.09" fill="#2b7bba" />
<rect x="94.3" y="120.08" width="2.95" height="11.09" fill="#f2f2f2" />
<rect x="98.3" y="120.08" width="2.95" height="11.09" fill="#f2f2f2" />
<rect x="102.3" y="120.08" width="2.95" height="11.09" fill="#f2f2f2" />
<rect x="106.3" y="120.08" width="2.95" height="11.09" fill="#f2f2f2" />
<rect x="110.3" y="120.08" width="2.95" height="11.09" fill="#f2f2f2" />
<rect x="114.3" y="120.08" width="2.95" height="11.09" fill="#f2f2f2" />
<rect x="118.3" y="120.08" width="2.95" height="11.09" fill="#f2f2f2" />
<rect x="122.3" y="120.08" width="2.95" height="11.09" fill="#f2f2f2" />
<rect x="126.3" y="120.08" width="2.95" height="11.09" fill="#f2f2f2" />
<rect x="130.3" y="120.08" width="2.95" height="11.09" fill="#f2f2f2" />
<rect x="134.3" y="120.08" width="2.95" height="11.09" fill="#f2f2f2" />
<rect x="138.3" y="120.08" width="2.95" height="11.09" fill="#f2f2f2" />
<rect x="142.3" y="120.08" width="2.95" height="11.09" fill="#f2f2f2" />
<rect x="146.3" y="120.08" width="2.95" height="11.09" fill="#f2f2f2" />
<rect x="150.3" y="120.08" width="2.95" height="11.09" fill="#f2f2f2" />
<rect x="154.3" y="120.08" width="2.95" height="11.09" fill="#f2f2f2" />
<rect x="158.3" y="120.08" width="2.95" height="11.09" fill="#f2f2f2" />
<rect x="158.3" y="120.08" width="3.15" height="11.09" fill="#2b7bba" />
<rect x="162.3" y="120.08" width="2.95" height="11.09" fill="#f2f2f2" />
<rect x="162.3" y="120.08" width="3.15" height="5.54" fill="#a8cf55" />
<rect x="162.3" y="125.62" width="3.15" height="5.54" fill="#2b7bba" />
<rect x="166.3" y="120.08" width="2.95" height="11.09" fill="#f2f2f2" />
<rect x="166.3" y="120.08" width="3.15" height="11.09" fill="#ec8325" />
<rect x="170.3" y="120.08" width="2.95" height="11.09" fill="#f2f2f2" />
<rect x="170.3" y="120.08" width="3.15" height="11.09" fill="#2b7bba" />
<rect x="174.3" y="120.08" width="2.95" height="11.09" fill="#f2f2f2" />
<rect x="178.3" y="120.08" width="2.95" height="11.09" fill="#f2f2f2" />
<rect x="182.3" y="120.08" width="2.95" height="11.09" fill="#f2f2f2" />
<rect x="186.3" y="120.08" width="2.95" height="11.09" fill="#f2f2f2" />
<rect x="190.3" y="120.08" width="2.95" height="11.09" fill="#f2f2f2" />
<rect x="194.3" y="120.08" width="2.95" height="11.09" fill="#f2f2f2" />
<rect x="198.3" y="120.08" width="2.95" height="11.09" fill="#f2f2f2" />
<rect x="202.3" y="120.08" width="2.95" height="11.09" fill="#f2f2f2" />
<rect x="206.3" y="120.08" width="2.95" height="11.09" fill="#f2f2f2" />
<rect x="210.3" y="120.08" width="2.95" height="11.09" fill="#f2f2f2" />
<rect x="214.3" y="120.08" width="2.95" height="11.09" fill="#f2f2f2" />
<rect x="218.3" y="120.08" width="2.95" height="11.09" fill="#f2f2f2" />
<rect x="222.3" y="120.08" width="2.95" height="11.09" fill="#f2f2f2" />
<rect x="228.55" y="120.08" width="2.94" height="11.09" fill="#f2f2f2" />
<rect x="228.55" y="120.08" width="3.14" height="11.09" fill="#2b7bba" />
<rect x="232.54" y="120.08" width="2.94" height="11.09" fill="#f2f2f2" />
<rect x="236.53" y="120.08" width="2.94" height="11.09" fill="#f2f2f2" />
<rect x="240.52" y="120.08" width="2.94" height="11.09" fill="#f2f2f2" />
<rect x="244.51" y="120.08" width="2.94" height="11.09" fill="#f2f2f2" />
<rect x="248.5" y="120.08" width="2.94" height="11.09" fill="#f2f2f2" />
<rect x="252.49" y="120.08" width="2.94" height="11.09" fill="#f2f2f2" />
<rect x="256.48" y="120.08" width="2.94" height="11.09" fill="#f2f2f2" />
<rect x="256.48" y="120.08" width="3.14" height="11.09" fill="#a8cf55" />
<rect x="260.47" y="120.08" width="2.94" height="11.09" fill="#f2f2f2" />
<rect x="260.47" y="120.08" width="3.14" height="11.09" fill="#a8cf55" />
<rect x="264.46" y="120.08" width="2.94" height="11.09" fill="#f2f2f2" />
<rect x="268.45" y="120.08" width="2.94" height="11.09" fill="#f2f2f2" />
<rect x="272.44" y="120.08" width="2.94" height="11.09" fill="#f2f2f2" />
<rect x="276.43" y="120.08" width="2.94" height="11.09" fill="#f2f2f2" />
<rect x="280.42" y="120.08" width="2.94" height="11.09" fill="#f2f2f2" />
<rect x="284.41" y="120.08" width="2.94" height="11.09" fill="#f2f2f2" />
<rect x="288.4" y="120.08" width="2.94" height="11.09" fill="#f2f2f2" />
<rect x="292.39" y="120.08" width="2.94" height="11.09" fill="#f2f2f2" />
<rect x="292.39" y="120.08" width="3.14" height="11.09" fill="#a8cf55" />
<rect x="296.38" y="120.08" width="2.94" height="11.09" fill="#f2f2f2" />
<rect x="300.37" y="120.08" width="2.94" height="11.09" fill="#f2f2f2" />
<rect x="304.36" y="120.08" width="2.94" height="11.09" fill="#f2f2f2" />
<rect x="308.35" y="120.08" width="2.94" height="11.09" fill="#f2f2f2" />
<rect x="308.35" y="120.08" width="3.14" height="11.09" fill="#d7191c" />
<rect x="312.34" y="120.08" width="2.94" height="11.09" fill="#f2f2f2" />
<rect x="316.33" y="120.08" width="2.94" height="11.09" fill="#f2f2f2" />
<rect x="320.32" y="120.08" width="2.94" height="11.09" fill="#f2f2f2" />
<rect x="324.31" y="120.08" width="2.94" height="11.09" fill="#f2f2f2" />
<rect x="328.3" y="120.08" width="2.94" height="11.09" fill="#f2f2f2" />
<rect x="332.29" y="120.08" width="2.94" height="11.09" fill="#f2f2f2" />
<rect x="336.28" y="120.08" width="2.94" height="11.09" fill="#f2f2f2" />
<rect x="340.27" y="120.08" width="2.94" height="11.09" fill="#f2f2f2" />
<rect x="344.26" y="120.08" width="2.94" height="11.09" fill="#f2f2f2" />
<rect x="348.25" y="120.08" width="2.94" height="11.09" fill="#f2f2f2" />
<line x1="64.6" y1="125.62" x2="69.6" y2="125.62" stroke="#555" stroke-width="0.9" />
<text x="63.2" y="127.42" font-size="6.8" text-anchor="end" fill="#333">PAX5 (12)</text>
<rect x="70.3" y="132.71" width="2.95" height="11.09" fill="#f2f2f2" />
<rect x="70.3" y="132.71" width="3.15" height="11.09" fill="#a8cf55" />
<rect x="74.3" y="132.71" width="2.95" height="11.09" fill="#f2f2f2" />
<rect x="74.3" y="132.71" width="3.15" height="11.09" fill="#a8cf55" />
<rect x="78.3" y="132.71" width="2.95" height="11.09" fill="#f2f2f2" />
<rect x="78.3" y="132.71" width="3.15" height="11.09" fill="#a8cf55" />
<rect x="82.3" y="132.71" width="2.95" height="11.09" fill="#f2f2f2" />
<rect x="86.3" y="132.71" width="2.95" height="11.09" fill="#f2f2f2" />
<rect x="90.3" y="132.71" width="2.95" height="11.09" fill="#f2f2f2" />
<rect x="90.3" y="132.71" width="3.15" height="11.09" fill="#a8cf55" />
<rect x="94.3" y="132.71" width="2.95" height="11.09" fill="#f2f2f2" />
<rect x="94.3" y="132.71" width="3.15" height="11.09" fill="#a8cf55" />
<rect x="98.3" y="132.71" width="2.95" height="11.09" fill="#f2f2f2" />
<rect x="102.3" y="132.71" width="2.95" height="11.09" fill="#f2f2f2" />
<rect x="106.3" y="132.71" width="2.95" height="11.09" fill="#f2f2f2" />
<rect x="110.3" y="132.71" width="2.95" height="11.09" fill="#f2f2f2" />
<rect x="114.3" y="132.71" width="2.95" height="11.09" fill="#f2f2f2" />
<rect x="118.3" y="132.71" width="2.95" height="11.09" fill="#f2f2f2" />
<rect x="122.3" y="132.71" width="2.95" height="11.09" fill="#f2f2f2" />
<rect x="126.3" y="132.71" width="2.95" height="11.09" fill="#f2f2f2" />
<rect x="130.3" y="132.71" width="2.95" height="11.09" fill="#f2f2f2" />
<rect x="134.3" y="132.71" width="2.95" height="11.09" fill="#f2f2f2" />
<rect x="138.3" y="132.71" width="2.95" height="11.09" fill="#f2f2f2" />
<rect x="142.3" y="132.71" width="2.95" height="11.09" fill="#f2f2f2" />
<rect x="142.3" y="132.71" width="3.15" height="11.09" fill="#a8cf55" />
<rect x="146.3" y="132.71" width="2.95" height="11.09" fill="#f2f2f2" />
<rect x="150.3" y="132.71" width="2.95" height="11.09" fill="#f2f2f2" />
<rect x="154.3" y="132.71" width="2.95" height="11.09" fill="#f2f2f2" />
<rect x="158.3" y="132.71" width="2.95" height="11.09" fill="#f2f2f2" />
<rect x="158.3" y="132.71" width="3.15" height="11.09" fill="#a8cf55" />
<rect x="162.3" y="132.71" width="2.95" height="11.09" fill="#f2f2f2" />
<rect x="166.3" y="132.71" width="2.95" height="11.09" fill="#f2f2f2" />
<rect x="170.3" y="132.71" width="2.95" height="11.09" fill="#f2f2f2" />
<rect x="174.3" y="132.71" width="2.95" height="11.09" fill="#f2f2f2" />
<rect x="174.3" y="132.71" width="3.15" height="11.09" fill="#a8cf55" />
<rect x="178.3" y="132.71" width="2.95" height="11.09" fill="#f2f2f2" />
<rect x="182.3" y="132.71" width="2.95" height="11.09" fill="#f2f2f2" />
<rect x="186.3" y="132.71" width="2.95" height="11.09" fill="#f2f2f2" />
<rect x="190.3" y="132.71" width="2.95" height="11.09" fill="#f2f2f2" />
<rect x="194.3" y="132.71" width="2.95" height="11.09" fill="#f2f2f2" />
<rect x="198.3" y="132.71" width="2.95" height="11.09" fill="#f2f2f2" />
<rect x="202.3" y="132.71" width="2.95" height="11.09" fill="#f2f2f2" />
<rect x="206.3" y="132.71" width="2.95" height="11.09" fill="#f2f2f2" />
<rect x="210.3" y="132.71" width="2.95" height="11.09" fill="#f2f2f2" />
<rect x="214.3" y="132.71" width="2.95" height="11.09" fill="#f2f2f2" />
<rect x="218.3" y="132.71" width="2.95" height="11.09" fill="#f2f2f2" />
<rect x="222.3" y="132.71" width="2.95" height="11.09" fill="#f2f2f2" />
<rect x="228.55" y="132.71" width="2.94" height="11.09" fill="#f2f2f2" />
<rect x="232.54" y="132.71" width="2.94" height="11.09" fill="#f2f2f2" />
<rect x="232.54" y="132.71" width="3.14" height="11.09" fill="#a8cf55" />
<rect x="236.53" y="132.71" width="2.94" height="11.09" fill="#f2f2f2" />
<rect x="236.53" y="132.71" width="3.14" height="11.09" fill="#a8cf55" />
<rect x="240.52" y="132.71" width="2.94" height="11.09" fill="#f2f2f2" />
<rect x="244.51" y="132.71" width="2.94" height="11.09" fill="#f2f2f2" />
<rect x="248.5" y="132.71" width="2.94" height="11.09" fill="#f2f2f2" />
<rect x="252.49" y="132.71" width="2.94" height="11.09" fill="#f2f2f2" />
<rect x="256.48" y="132.71" width="2.94" height="11.09" fill="#f2f2f2" />
<rect x="256.48" y="132.71" width="3.14" height="11.09" fill="#a8cf55" />
<rect x="260.47" y="132.71" width="2.94" height="11.09" fill="#f2f2f2" />
<rect x="264.46" y="132.71" width="2.94" height="11.09" fill="#f2f2f2" />
<rect x="264.46" y="132.71" width="3.14" height="11.09" fill="#a8cf55" />
<rect x="268.45" y="132.71" width="2.94" height="11.09" fill="#f2f2f2" />
<rect x="268.45" y="132.71" width="3.14" height="11.09" fill="#a8cf55" />
<rect x="272.44" y="132.71" width="2.94" height="11.09" fill="#f2f2f2" />
<rect x="276.43" y="132.71" width="2.94" height="11.09" fill="#f2f2f2" />
<rect x="280.42" y="132.71" width="2.94" height="11.09" fill="#f2f2f2" />
<rect x="284.41" y="132.71" width="2.94" height="11.09" fill="#f2f2f2" />
<rect x="288.4" y="132.71" width="2.94" height="11.09" fill="#f2f2f2" />
<rect x="292.39" y="132.71" width="2.94" height="11.09" fill="#f2f2f2" />
<rect x="296.38" y="132.71" width="2.94" height="11.09" fill="#f2f2f2" />
<rect x="300.37" y="132.71" width="2.94" height="11.09" fill="#f2f2f2" />
<rect x="304.36" y="132.71" width="2.94" height="11.09" fill="#f2f2f2" />
<rect x="308.35" y="132.71" width="2.94" height="11.09" fill="#f2f2f2" />
<rect x="312.34" y="132.71" width="2.94" height="11.09" fill="#f2f2f2" />
<rect x="316.33" y="132.71" width="2.94" height="11.09" fill="#f2f2f2" />
<rect x="320.32" y="132.71" width="2.94" height="11.09" fill="#f2f2f2" />
<rect x="324.31" y="132.71" width="2.94" height="11.09" fill="#f2f2f2" />
<rect x="328.3" y="132.71" width="2.94" height="11.09" fill="#f2f2f2" />
<rect x="332.29" y="132.71" width="2.94" height="11.09" fill="#f2f2f2" />
<rect x="332.29" y="132.71" width="3.14" height="11.09" fill="#a8cf55" />
<rect x="336.28" y="132.71" width="2.94" height="11.09" fill="#f2f2f2" />
<rect x="340.27" y="132.71" width="2.94" height="11.09" fill="#f2f2f2" />
<rect x="344.26" y="132.71" width="2.94" height="11.09" fill="#f2f2f2" />
<rect x="348.25" y="132.71" width="2.94" height="11.09" fill="#f2f2f2" />
<line x1="64.6" y1="138.26" x2="69.6" y2="138.26" stroke="#555" stroke-width="0.9" />
<text x="63.2" y="140.06" font-size="6.8" text-anchor="end" fill="#333">VPREB1 (14)</text>
<rect x="70.4" y="94.3" width="155.9" height="50.1" rx="0.5" fill="none" stroke="#2e2e2e" stroke-width="1.1"/>
<rect x="228.5" y="94.3" width="123.8" height="50.1" rx="0.5" fill="none" stroke="#2e2e2e" stroke-width="1.1"/>
<text x="0" y="0" font-size="7.4" text-anchor="middle" fill="#333" textLength="18.4" lengthAdjust="spacingAndGlyphs" transform="translate(357.3 119) rotate(90)">B-cell</text>
<rect x="70.3" y="147.9" width="2.95" height="10.87" fill="#f2f2f2" />
<rect x="70.3" y="147.9" width="3.15" height="10.87" fill="#a8cf55" />
<rect x="74.3" y="147.9" width="2.95" height="10.87" fill="#f2f2f2" />
<rect x="74.3" y="147.9" width="3.15" height="10.87" fill="#a8cf55" />
<rect x="78.3" y="147.9" width="2.95" height="10.87" fill="#f2f2f2" />
<rect x="78.3" y="147.9" width="3.15" height="10.87" fill="#a8cf55" />
<rect x="82.3" y="147.9" width="2.95" height="10.87" fill="#f2f2f2" />
<rect x="82.3" y="147.9" width="3.15" height="10.87" fill="#a8cf55" />
<rect x="86.3" y="147.9" width="2.95" height="10.87" fill="#f2f2f2" />
<rect x="90.3" y="147.9" width="2.95" height="10.87" fill="#f2f2f2" />
<rect x="94.3" y="147.9" width="2.95" height="10.87" fill="#f2f2f2" />
<rect x="94.3" y="147.9" width="3.15" height="10.87" fill="#a8cf55" />
<rect x="98.3" y="147.9" width="2.95" height="10.87" fill="#f2f2f2" />
<rect x="102.3" y="147.9" width="2.95" height="10.87" fill="#f2f2f2" />
<rect x="106.3" y="147.9" width="2.95" height="10.87" fill="#f2f2f2" />
<rect x="110.3" y="147.9" width="2.95" height="10.87" fill="#f2f2f2" />
<rect x="114.3" y="147.9" width="2.95" height="10.87" fill="#f2f2f2" />
<rect x="118.3" y="147.9" width="2.95" height="10.87" fill="#f2f2f2" />
<rect x="122.3" y="147.9" width="2.95" height="10.87" fill="#f2f2f2" />
<rect x="126.3" y="147.9" width="2.95" height="10.87" fill="#f2f2f2" />
<rect x="130.3" y="147.9" width="2.95" height="10.87" fill="#f2f2f2" />
<rect x="130.3" y="147.9" width="3.15" height="10.87" fill="#a8cf55" />
<rect x="134.3" y="147.9" width="2.95" height="10.87" fill="#f2f2f2" />
<rect x="138.3" y="147.9" width="2.95" height="10.87" fill="#f2f2f2" />
<rect x="142.3" y="147.9" width="2.95" height="10.87" fill="#f2f2f2" />
<rect x="146.3" y="147.9" width="2.95" height="10.87" fill="#f2f2f2" />
<rect x="150.3" y="147.9" width="2.95" height="10.87" fill="#f2f2f2" />
<rect x="154.3" y="147.9" width="2.95" height="10.87" fill="#f2f2f2" />
<rect x="158.3" y="147.9" width="2.95" height="10.87" fill="#f2f2f2" />
<rect x="158.3" y="147.9" width="3.15" height="10.87" fill="#a8cf55" />
<rect x="162.3" y="147.9" width="2.95" height="10.87" fill="#f2f2f2" />
<rect x="162.3" y="147.9" width="3.15" height="10.87" fill="#a8cf55" />
<rect x="166.3" y="147.9" width="2.95" height="10.87" fill="#f2f2f2" />
<rect x="166.3" y="147.9" width="3.15" height="10.87" fill="#a8cf55" />
<rect x="170.3" y="147.9" width="2.95" height="10.87" fill="#f2f2f2" />
<rect x="174.3" y="147.9" width="2.95" height="10.87" fill="#f2f2f2" />
<rect x="174.3" y="147.9" width="3.15" height="10.87" fill="#a8cf55" />
<rect x="178.3" y="147.9" width="2.95" height="10.87" fill="#f2f2f2" />
<rect x="178.3" y="147.9" width="3.15" height="10.87" fill="#a8cf55" />
<rect x="182.3" y="147.9" width="2.95" height="10.87" fill="#f2f2f2" />
<rect x="182.3" y="147.9" width="3.15" height="10.87" fill="#a8cf55" />
<rect x="186.3" y="147.9" width="2.95" height="10.87" fill="#f2f2f2" />
<rect x="190.3" y="147.9" width="2.95" height="10.87" fill="#f2f2f2" />
<rect x="194.3" y="147.9" width="2.95" height="10.87" fill="#f2f2f2" />
<rect x="198.3" y="147.9" width="2.95" height="10.87" fill="#f2f2f2" />
<rect x="202.3" y="147.9" width="2.95" height="10.87" fill="#f2f2f2" />
<rect x="206.3" y="147.9" width="2.95" height="10.87" fill="#f2f2f2" />
<rect x="210.3" y="147.9" width="2.95" height="10.87" fill="#f2f2f2" />
<rect x="214.3" y="147.9" width="2.95" height="10.87" fill="#f2f2f2" />
<rect x="218.3" y="147.9" width="2.95" height="10.87" fill="#f2f2f2" />
<rect x="222.3" y="147.9" width="2.95" height="10.87" fill="#f2f2f2" />
<rect x="228.55" y="147.9" width="2.94" height="10.87" fill="#f2f2f2" />
<rect x="232.54" y="147.9" width="2.94" height="10.87" fill="#f2f2f2" />
<rect x="236.53" y="147.9" width="2.94" height="10.87" fill="#f2f2f2" />
<rect x="240.52" y="147.9" width="2.94" height="10.87" fill="#f2f2f2" />
<rect x="244.51" y="147.9" width="2.94" height="10.87" fill="#f2f2f2" />
<rect x="244.51" y="147.9" width="3.14" height="10.87" fill="#a8cf55" />
<rect x="248.5" y="147.9" width="2.94" height="10.87" fill="#f2f2f2" />
<rect x="252.49" y="147.9" width="2.94" height="10.87" fill="#f2f2f2" />
<rect x="256.48" y="147.9" width="2.94" height="10.87" fill="#f2f2f2" />
<rect x="256.48" y="147.9" width="3.14" height="10.87" fill="#a8cf55" />
<rect x="260.47" y="147.9" width="2.94" height="10.87" fill="#f2f2f2" />
<rect x="264.46" y="147.9" width="2.94" height="10.87" fill="#f2f2f2" />
<rect x="264.46" y="147.9" width="3.14" height="10.87" fill="#a8cf55" />
<rect x="268.45" y="147.9" width="2.94" height="10.87" fill="#f2f2f2" />
<rect x="268.45" y="147.9" width="3.14" height="10.87" fill="#a8cf55" />
<rect x="272.44" y="147.9" width="2.94" height="10.87" fill="#f2f2f2" />
<rect x="272.44" y="147.9" width="3.14" height="10.87" fill="#a8cf55" />
<rect x="276.43" y="147.9" width="2.94" height="10.87" fill="#f2f2f2" />
<rect x="280.42" y="147.9" width="2.94" height="10.87" fill="#f2f2f2" />
<rect x="284.41" y="147.9" width="2.94" height="10.87" fill="#f2f2f2" />
<rect x="288.4" y="147.9" width="2.94" height="10.87" fill="#f2f2f2" />
<rect x="292.39" y="147.9" width="2.94" height="10.87" fill="#f2f2f2" />
<rect x="296.38" y="147.9" width="2.94" height="10.87" fill="#f2f2f2" />
<rect x="296.38" y="147.9" width="3.14" height="10.87" fill="#a8cf55" />
<rect x="300.37" y="147.9" width="2.94" height="10.87" fill="#f2f2f2" />
<rect x="304.36" y="147.9" width="2.94" height="10.87" fill="#f2f2f2" />
<rect x="308.35" y="147.9" width="2.94" height="10.87" fill="#f2f2f2" />
<rect x="308.35" y="147.9" width="3.14" height="10.87" fill="#a8cf55" />
<rect x="312.34" y="147.9" width="2.94" height="10.87" fill="#f2f2f2" />
<rect x="312.34" y="147.9" width="3.14" height="10.87" fill="#a8cf55" />
<rect x="316.33" y="147.9" width="2.94" height="10.87" fill="#f2f2f2" />
<rect x="316.33" y="147.9" width="3.14" height="10.87" fill="#a8cf55" />
<rect x="320.32" y="147.9" width="2.94" height="10.87" fill="#f2f2f2" />
<rect x="320.32" y="147.9" width="3.14" height="10.87" fill="#a8cf55" />
<rect x="324.31" y="147.9" width="2.94" height="10.87" fill="#f2f2f2" />
<rect x="328.3" y="147.9" width="2.94" height="10.87" fill="#f2f2f2" />
<rect x="332.29" y="147.9" width="2.94" height="10.87" fill="#f2f2f2" />
<rect x="332.29" y="147.9" width="3.14" height="10.87" fill="#a8cf55" />
<rect x="336.28" y="147.9" width="2.94" height="10.87" fill="#f2f2f2" />
<rect x="340.27" y="147.9" width="2.94" height="10.87" fill="#f2f2f2" />
<rect x="340.27" y="147.9" width="3.14" height="10.87" fill="#a8cf55" />
<rect x="344.26" y="147.9" width="2.94" height="10.87" fill="#f2f2f2" />
<rect x="348.25" y="147.9" width="2.94" height="10.87" fill="#f2f2f2" />
<line x1="64.6" y1="153.33" x2="69.6" y2="153.33" stroke="#555" stroke-width="0.9" />
<text x="63.2" y="155.13" font-size="6.8" text-anchor="end" fill="#333">CDKN2A (24)</text>
<rect x="70.3" y="160.32" width="2.95" height="10.87" fill="#f2f2f2" />
<rect x="74.3" y="160.32" width="2.95" height="10.87" fill="#f2f2f2" />
<rect x="78.3" y="160.32" width="2.95" height="10.87" fill="#f2f2f2" />
<rect x="82.3" y="160.32" width="2.95" height="10.87" fill="#f2f2f2" />
<rect x="82.3" y="160.32" width="3.15" height="10.87" fill="#a8cf55" />
<rect x="86.3" y="160.32" width="2.95" height="10.87" fill="#f2f2f2" />
<rect x="90.3" y="160.32" width="2.95" height="10.87" fill="#f2f2f2" />
<rect x="94.3" y="160.32" width="2.95" height="10.87" fill="#f2f2f2" />
<rect x="98.3" y="160.32" width="2.95" height="10.87" fill="#f2f2f2" />
<rect x="102.3" y="160.32" width="2.95" height="10.87" fill="#f2f2f2" />
<rect x="102.3" y="160.32" width="3.15" height="10.87" fill="#a8cf55" />
<rect x="106.3" y="160.32" width="2.95" height="10.87" fill="#f2f2f2" />
<rect x="110.3" y="160.32" width="2.95" height="10.87" fill="#f2f2f2" />
<rect x="114.3" y="160.32" width="2.95" height="10.87" fill="#f2f2f2" />
<rect x="118.3" y="160.32" width="2.95" height="10.87" fill="#f2f2f2" />
<rect x="122.3" y="160.32" width="2.95" height="10.87" fill="#f2f2f2" />
<rect x="126.3" y="160.32" width="2.95" height="10.87" fill="#f2f2f2" />
<rect x="130.3" y="160.32" width="2.95" height="10.87" fill="#f2f2f2" />
<rect x="134.3" y="160.32" width="2.95" height="10.87" fill="#f2f2f2" />
<rect x="138.3" y="160.32" width="2.95" height="10.87" fill="#f2f2f2" />
<rect x="142.3" y="160.32" width="2.95" height="10.87" fill="#f2f2f2" />
<rect x="146.3" y="160.32" width="2.95" height="10.87" fill="#f2f2f2" />
<rect x="150.3" y="160.32" width="2.95" height="10.87" fill="#f2f2f2" />
<rect x="154.3" y="160.32" width="2.95" height="10.87" fill="#f2f2f2" />
<rect x="158.3" y="160.32" width="2.95" height="10.87" fill="#f2f2f2" />
<rect x="162.3" y="160.32" width="2.95" height="10.87" fill="#f2f2f2" />
<rect x="166.3" y="160.32" width="2.95" height="10.87" fill="#f2f2f2" />
<rect x="170.3" y="160.32" width="2.95" height="10.87" fill="#f2f2f2" />
<rect x="174.3" y="160.32" width="2.95" height="10.87" fill="#f2f2f2" />
<rect x="178.3" y="160.32" width="2.95" height="10.87" fill="#f2f2f2" />
<rect x="178.3" y="160.32" width="3.15" height="10.87" fill="#a8cf55" />
<rect x="182.3" y="160.32" width="2.95" height="10.87" fill="#f2f2f2" />
<rect x="186.3" y="160.32" width="2.95" height="10.87" fill="#f2f2f2" />
<rect x="190.3" y="160.32" width="2.95" height="10.87" fill="#f2f2f2" />
<rect x="194.3" y="160.32" width="2.95" height="10.87" fill="#f2f2f2" />
<rect x="198.3" y="160.32" width="2.95" height="10.87" fill="#f2f2f2" />
<rect x="202.3" y="160.32" width="2.95" height="10.87" fill="#f2f2f2" />
<rect x="206.3" y="160.32" width="2.95" height="10.87" fill="#f2f2f2" />
<rect x="210.3" y="160.32" width="2.95" height="10.87" fill="#f2f2f2" />
<rect x="214.3" y="160.32" width="2.95" height="10.87" fill="#f2f2f2" />
<rect x="218.3" y="160.32" width="2.95" height="10.87" fill="#f2f2f2" />
<rect x="222.3" y="160.32" width="2.95" height="10.87" fill="#f2f2f2" />
<rect x="228.55" y="160.32" width="2.94" height="10.87" fill="#f2f2f2" />
<rect x="232.54" y="160.32" width="2.94" height="10.87" fill="#f2f2f2" />
<rect x="232.54" y="160.32" width="3.14" height="10.87" fill="#a8cf55" />
<rect x="236.53" y="160.32" width="2.94" height="10.87" fill="#f2f2f2" />
<rect x="240.52" y="160.32" width="2.94" height="10.87" fill="#f2f2f2" />
<rect x="244.51" y="160.32" width="2.94" height="10.87" fill="#f2f2f2" />
<rect x="244.51" y="160.32" width="3.14" height="10.87" fill="#a8cf55" />
<rect x="248.5" y="160.32" width="2.94" height="10.87" fill="#f2f2f2" />
<rect x="248.5" y="160.32" width="3.14" height="10.87" fill="#a8cf55" />
<rect x="252.49" y="160.32" width="2.94" height="10.87" fill="#f2f2f2" />
<rect x="256.48" y="160.32" width="2.94" height="10.87" fill="#f2f2f2" />
<rect x="260.47" y="160.32" width="2.94" height="10.87" fill="#f2f2f2" />
<rect x="264.46" y="160.32" width="2.94" height="10.87" fill="#f2f2f2" />
<rect x="268.45" y="160.32" width="2.94" height="10.87" fill="#f2f2f2" />
<rect x="272.44" y="160.32" width="2.94" height="10.87" fill="#f2f2f2" />
<rect x="276.43" y="160.32" width="2.94" height="10.87" fill="#f2f2f2" />
<rect x="280.42" y="160.32" width="2.94" height="10.87" fill="#f2f2f2" />
<rect x="284.41" y="160.32" width="2.94" height="10.87" fill="#f2f2f2" />
<rect x="288.4" y="160.32" width="2.94" height="10.87" fill="#f2f2f2" />
<rect x="292.39" y="160.32" width="2.94" height="10.87" fill="#f2f2f2" />
<rect x="296.38" y="160.32" width="2.94" height="10.87" fill="#f2f2f2" />
<rect x="300.37" y="160.32" width="2.94" height="10.87" fill="#f2f2f2" />
<rect x="304.36" y="160.32" width="2.94" height="10.87" fill="#f2f2f2" />
<rect x="308.35" y="160.32" width="2.94" height="10.87" fill="#f2f2f2" />
<rect x="312.34" y="160.32" width="2.94" height="10.87" fill="#f2f2f2" />
<rect x="316.33" y="160.32" width="2.94" height="10.87" fill="#f2f2f2" />
<rect x="320.32" y="160.32" width="2.94" height="10.87" fill="#f2f2f2" />
<rect x="324.31" y="160.32" width="2.94" height="10.87" fill="#f2f2f2" />
<rect x="328.3" y="160.32" width="2.94" height="10.87" fill="#f2f2f2" />
<rect x="332.29" y="160.32" width="2.94" height="10.87" fill="#f2f2f2" />
<rect x="336.28" y="160.32" width="2.94" height="10.87" fill="#f2f2f2" />
<rect x="340.27" y="160.32" width="2.94" height="10.87" fill="#f2f2f2" />
<rect x="344.26" y="160.32" width="2.94" height="10.87" fill="#f2f2f2" />
<rect x="348.25" y="160.32" width="2.94" height="10.87" fill="#f2f2f2" />
<line x1="64.6" y1="165.75" x2="69.6" y2="165.75" stroke="#555" stroke-width="0.9" />
<text x="63.2" y="167.55" font-size="6.8" text-anchor="end" fill="#333">RB1 (6)</text>
<rect x="70.3" y="172.73" width="2.95" height="10.87" fill="#f2f2f2" />
<rect x="74.3" y="172.73" width="2.95" height="10.87" fill="#f2f2f2" />
<rect x="78.3" y="172.73" width="2.95" height="10.87" fill="#f2f2f2" />
<rect x="82.3" y="172.73" width="2.95" height="10.87" fill="#f2f2f2" />
<rect x="86.3" y="172.73" width="2.95" height="10.87" fill="#f2f2f2" />
<rect x="90.3" y="172.73" width="2.95" height="10.87" fill="#f2f2f2" />
<rect x="94.3" y="172.73" width="2.95" height="10.87" fill="#f2f2f2" />
<rect x="98.3" y="172.73" width="2.95" height="10.87" fill="#f2f2f2" />
<rect x="102.3" y="172.73" width="2.95" height="10.87" fill="#f2f2f2" />
<rect x="106.3" y="172.73" width="2.95" height="10.87" fill="#f2f2f2" />
<rect x="110.3" y="172.73" width="2.95" height="10.87" fill="#f2f2f2" />
<rect x="114.3" y="172.73" width="2.95" height="10.87" fill="#f2f2f2" />
<rect x="118.3" y="172.73" width="2.95" height="10.87" fill="#f2f2f2" />
<rect x="122.3" y="172.73" width="2.95" height="10.87" fill="#f2f2f2" />
<rect x="126.3" y="172.73" width="2.95" height="10.87" fill="#f2f2f2" />
<rect x="130.3" y="172.73" width="2.95" height="10.87" fill="#f2f2f2" />
<rect x="134.3" y="172.73" width="2.95" height="10.87" fill="#f2f2f2" />
<rect x="134.3" y="172.73" width="3.15" height="10.87" fill="#2b7bba" />
<rect x="138.3" y="172.73" width="2.95" height="10.87" fill="#f2f2f2" />
<rect x="142.3" y="172.73" width="2.95" height="10.87" fill="#f2f2f2" />
<rect x="142.3" y="172.73" width="3.15" height="10.87" fill="#2b7bba" />
<rect x="146.3" y="172.73" width="2.95" height="10.87" fill="#f2f2f2" />
<rect x="146.3" y="172.73" width="3.15" height="10.87" fill="#2b7bba" />
<rect x="150.3" y="172.73" width="2.95" height="10.87" fill="#f2f2f2" />
<rect x="150.3" y="172.73" width="3.15" height="10.87" fill="#ec8325" />
<rect x="154.3" y="172.73" width="2.95" height="10.87" fill="#f2f2f2" />
<rect x="154.3" y="172.73" width="3.15" height="10.87" fill="#2b7bba" />
<rect x="158.3" y="172.73" width="2.95" height="10.87" fill="#f2f2f2" />
<rect x="158.3" y="172.73" width="3.15" height="5.43" fill="#d7191c" />
<rect x="158.3" y="178.17" width="3.15" height="5.43" fill="#2b7bba" />
<rect x="162.3" y="172.73" width="2.95" height="10.87" fill="#f2f2f2" />
<rect x="166.3" y="172.73" width="2.95" height="10.87" fill="#f2f2f2" />
<rect x="170.3" y="172.73" width="2.95" height="10.87" fill="#f2f2f2" />
<rect x="174.3" y="172.73" width="2.95" height="10.87" fill="#f2f2f2" />
<rect x="178.3" y="172.73" width="2.95" height="10.87" fill="#f2f2f2" />
<rect x="182.3" y="172.73" width="2.95" height="10.87" fill="#f2f2f2" />
<rect x="186.3" y="172.73" width="2.95" height="10.87" fill="#f2f2f2" />
<rect x="190.3" y="172.73" width="2.95" height="10.87" fill="#f2f2f2" />
<rect x="194.3" y="172.73" width="2.95" height="10.87" fill="#f2f2f2" />
<rect x="194.3" y="172.73" width="3.15" height="10.87" fill="#2b7bba" />
<rect x="198.3" y="172.73" width="2.95" height="10.87" fill="#f2f2f2" />
<rect x="198.3" y="172.73" width="3.15" height="10.87" fill="#2b7bba" />
<rect x="202.3" y="172.73" width="2.95" height="10.87" fill="#f2f2f2" />
<rect x="202.3" y="172.73" width="3.15" height="10.87" fill="#d7191c" />
<rect x="206.3" y="172.73" width="2.95" height="10.87" fill="#f2f2f2" />
<rect x="210.3" y="172.73" width="2.95" height="10.87" fill="#f2f2f2" />
<rect x="214.3" y="172.73" width="2.95" height="10.87" fill="#f2f2f2" />
<rect x="218.3" y="172.73" width="2.95" height="10.87" fill="#f2f2f2" />
<rect x="222.3" y="172.73" width="2.95" height="10.87" fill="#f2f2f2" />
<rect x="228.55" y="172.73" width="2.94" height="10.87" fill="#f2f2f2" />
<rect x="232.54" y="172.73" width="2.94" height="10.87" fill="#f2f2f2" />
<rect x="236.53" y="172.73" width="2.94" height="10.87" fill="#f2f2f2" />
<rect x="240.52" y="172.73" width="2.94" height="10.87" fill="#f2f2f2" />
<rect x="244.51" y="172.73" width="2.94" height="10.87" fill="#f2f2f2" />
<rect x="248.5" y="172.73" width="2.94" height="10.87" fill="#f2f2f2" />
<rect x="252.49" y="172.73" width="2.94" height="10.87" fill="#f2f2f2" />
<rect x="256.48" y="172.73" width="2.94" height="10.87" fill="#f2f2f2" />
<rect x="260.47" y="172.73" width="2.94" height="10.87" fill="#f2f2f2" />
<rect x="260.47" y="172.73" width="3.14" height="10.87" fill="#2b7bba" />
<rect x="264.46" y="172.73" width="2.94" height="10.87" fill="#f2f2f2" />
<rect x="268.45" y="172.73" width="2.94" height="10.87" fill="#f2f2f2" />
<rect x="272.44" y="172.73" width="2.94" height="10.87" fill="#f2f2f2" />
<rect x="276.43" y="172.73" width="2.94" height="10.87" fill="#f2f2f2" />
<rect x="280.42" y="172.73" width="2.94" height="10.87" fill="#f2f2f2" />
<rect x="280.42" y="172.73" width="3.14" height="10.87" fill="#2b7bba" />
<rect x="284.41" y="172.73" width="2.94" height="10.87" fill="#f2f2f2" />
<rect x="284.41" y="172.73" width="3.14" height="10.87" fill="#2b7bba" />
<rect x="288.4" y="172.73" width="2.94" height="10.87" fill="#f2f2f2" />
<rect x="288.4" y="172.73" width="3.14" height="10.87" fill="#2b7bba" />
<rect x="292.39" y="172.73" width="2.94" height="10.87" fill="#f2f2f2" />
<rect x="292.39" y="172.73" width="3.14" height="5.43" fill="#8b4a36" />
<rect x="292.39" y="178.17" width="3.14" height="5.43" fill="#2b7bba" />
<rect x="296.38" y="172.73" width="2.94" height="10.87" fill="#f2f2f2" />
<rect x="300.37" y="172.73" width="2.94" height="10.87" fill="#f2f2f2" />
<rect x="300.37" y="172.73" width="3.14" height="10.87" fill="#8b4a36" />
<rect x="304.36" y="172.73" width="2.94" height="10.87" fill="#f2f2f2" />
<rect x="308.35" y="172.73" width="2.94" height="10.87" fill="#f2f2f2" />
<rect x="308.35" y="172.73" width="3.14" height="10.87" fill="#2b7bba" />
<rect x="312.34" y="172.73" width="2.94" height="10.87" fill="#f2f2f2" />
<rect x="312.34" y="172.73" width="3.14" height="10.87" fill="#2b7bba" />
<rect x="316.33" y="172.73" width="2.94" height="10.87" fill="#f2f2f2" />
<rect x="316.33" y="172.73" width="3.14" height="10.87" fill="#2b7bba" />
<rect x="320.32" y="172.73" width="2.94" height="10.87" fill="#f2f2f2" />
<rect x="320.32" y="172.73" width="3.14" height="10.87" fill="#2b7bba" />
<rect x="324.31" y="172.73" width="2.94" height="10.87" fill="#f2f2f2" />
<rect x="324.31" y="172.73" width="3.14" height="10.87" fill="#2b7bba" />
<rect x="328.3" y="172.73" width="2.94" height="10.87" fill="#f2f2f2" />
<rect x="328.3" y="172.73" width="3.14" height="10.87" fill="#2b7bba" />
<rect x="332.29" y="172.73" width="2.94" height="10.87" fill="#f2f2f2" />
<rect x="336.28" y="172.73" width="2.94" height="10.87" fill="#f2f2f2" />
<rect x="340.27" y="172.73" width="2.94" height="10.87" fill="#f2f2f2" />
<rect x="344.26" y="172.73" width="2.94" height="10.87" fill="#f2f2f2" />
<rect x="344.26" y="172.73" width="3.14" height="10.87" fill="#d7191c" />
<rect x="348.25" y="172.73" width="2.94" height="10.87" fill="#f2f2f2" />
<rect x="348.25" y="172.73" width="3.14" height="10.87" fill="#2b7bba" />
<line x1="64.6" y1="178.17" x2="69.6" y2="178.17" stroke="#555" stroke-width="0.9" />
<text x="63.2" y="179.97" font-size="6.8" text-anchor="end" fill="#333">TP53 (23)</text>
<rect x="70.4" y="147.4" width="155.9" height="36.8" rx="0.5" fill="none" stroke="#2e2e2e" stroke-width="1.1"/>
<rect x="228.5" y="147.4" width="123.8" height="36.8" rx="0.5" fill="none" stroke="#2e2e2e" stroke-width="1.1"/>
<text x="0" y="0" font-size="7.4" text-anchor="middle" fill="#333" textLength="32.0" lengthAdjust="spacingAndGlyphs" transform="translate(357.3 165.2) rotate(90)">Cell Cycle</text>
<rect x="70.3" y="187.9" width="2.95" height="10.94" fill="#f2f2f2" />
<rect x="74.3" y="187.9" width="2.95" height="10.94" fill="#f2f2f2" />
<rect x="78.3" y="187.9" width="2.95" height="10.94" fill="#f2f2f2" />
<rect x="82.3" y="187.9" width="2.95" height="10.94" fill="#f2f2f2" />
<rect x="86.3" y="187.9" width="2.95" height="10.94" fill="#f2f2f2" />
<rect x="90.3" y="187.9" width="2.95" height="10.94" fill="#f2f2f2" />
<rect x="94.3" y="187.9" width="2.95" height="10.94" fill="#f2f2f2" />
<rect x="98.3" y="187.9" width="2.95" height="10.94" fill="#f2f2f2" />
<rect x="102.3" y="187.9" width="2.95" height="10.94" fill="#f2f2f2" />
<rect x="106.3" y="187.9" width="2.95" height="10.94" fill="#f2f2f2" />
<rect x="110.3" y="187.9" width="2.95" height="10.94" fill="#f2f2f2" />
<rect x="114.3" y="187.9" width="2.95" height="10.94" fill="#f2f2f2" />
<rect x="118.3" y="187.9" width="2.95" height="10.94" fill="#f2f2f2" />
<rect x="122.3" y="187.9" width="2.95" height="10.94" fill="#f2f2f2" />
<rect x="126.3" y="187.9" width="2.95" height="10.94" fill="#f2f2f2" />
<rect x="130.3" y="187.9" width="2.95" height="10.94" fill="#f2f2f2" />
<rect x="134.3" y="187.9" width="2.95" height="10.94" fill="#f2f2f2" />
<rect x="138.3" y="187.9" width="2.95" height="10.94" fill="#f2f2f2" />
<rect x="142.3" y="187.9" width="2.95" height="10.94" fill="#f2f2f2" />
<rect x="146.3" y="187.9" width="2.95" height="10.94" fill="#f2f2f2" />
<rect x="150.3" y="187.9" width="2.95" height="10.94" fill="#f2f2f2" />
<rect x="154.3" y="187.9" width="2.95" height="10.94" fill="#f2f2f2" />
<rect x="158.3" y="187.9" width="2.95" height="10.94" fill="#f2f2f2" />
<rect x="158.3" y="187.9" width="3.15" height="10.94" fill="#2b7bba" />
<rect x="162.3" y="187.9" width="2.95" height="10.94" fill="#f2f2f2" />
<rect x="162.3" y="187.9" width="3.15" height="10.94" fill="#2b7bba" />
<rect x="166.3" y="187.9" width="2.95" height="10.94" fill="#f2f2f2" />
<rect x="170.3" y="187.9" width="2.95" height="10.94" fill="#f2f2f2" />
<rect x="170.3" y="187.9" width="3.15" height="10.94" fill="#2b7bba" />
<rect x="174.3" y="187.9" width="2.95" height="10.94" fill="#f2f2f2" />
<rect x="178.3" y="187.9" width="2.95" height="10.94" fill="#f2f2f2" />
<rect x="182.3" y="187.9" width="2.95" height="10.94" fill="#f2f2f2" />
<rect x="186.3" y="187.9" width="2.95" height="10.94" fill="#f2f2f2" />
<rect x="190.3" y="187.9" width="2.95" height="10.94" fill="#f2f2f2" />
<rect x="194.3" y="187.9" width="2.95" height="10.94" fill="#f2f2f2" />
<rect x="198.3" y="187.9" width="2.95" height="10.94" fill="#f2f2f2" />
<rect x="202.3" y="187.9" width="2.95" height="10.94" fill="#f2f2f2" />
<rect x="206.3" y="187.9" width="2.95" height="10.94" fill="#f2f2f2" />
<rect x="210.3" y="187.9" width="2.95" height="10.94" fill="#f2f2f2" />
<rect x="214.3" y="187.9" width="2.95" height="10.94" fill="#f2f2f2" />
<rect x="218.3" y="187.9" width="2.95" height="10.94" fill="#f2f2f2" />
<rect x="222.3" y="187.9" width="2.95" height="10.94" fill="#f2f2f2" />
<rect x="228.55" y="187.9" width="2.94" height="10.94" fill="#f2f2f2" />
<rect x="232.54" y="187.9" width="2.94" height="10.94" fill="#f2f2f2" />
<rect x="236.53" y="187.9" width="2.94" height="10.94" fill="#f2f2f2" />
<rect x="240.52" y="187.9" width="2.94" height="10.94" fill="#f2f2f2" />
<rect x="244.51" y="187.9" width="2.94" height="10.94" fill="#f2f2f2" />
<rect x="248.5" y="187.9" width="2.94" height="10.94" fill="#f2f2f2" />
<rect x="252.49" y="187.9" width="2.94" height="10.94" fill="#f2f2f2" />
<rect x="256.48" y="187.9" width="2.94" height="10.94" fill="#f2f2f2" />
<rect x="260.47" y="187.9" width="2.94" height="10.94" fill="#f2f2f2" />
<rect x="264.46" y="187.9" width="2.94" height="10.94" fill="#f2f2f2" />
<rect x="268.45" y="187.9" width="2.94" height="10.94" fill="#f2f2f2" />
<rect x="272.44" y="187.9" width="2.94" height="10.94" fill="#f2f2f2" />
<rect x="276.43" y="187.9" width="2.94" height="10.94" fill="#f2f2f2" />
<rect x="280.42" y="187.9" width="2.94" height="10.94" fill="#f2f2f2" />
<rect x="284.41" y="187.9" width="2.94" height="10.94" fill="#f2f2f2" />
<rect x="288.4" y="187.9" width="2.94" height="10.94" fill="#f2f2f2" />
<rect x="292.39" y="187.9" width="2.94" height="10.94" fill="#f2f2f2" />
<rect x="296.38" y="187.9" width="2.94" height="10.94" fill="#f2f2f2" />
<rect x="300.37" y="187.9" width="2.94" height="10.94" fill="#f2f2f2" />
<rect x="304.36" y="187.9" width="2.94" height="10.94" fill="#f2f2f2" />
<rect x="308.35" y="187.9" width="2.94" height="10.94" fill="#f2f2f2" />
<rect x="312.34" y="187.9" width="2.94" height="10.94" fill="#f2f2f2" />
<rect x="316.33" y="187.9" width="2.94" height="10.94" fill="#f2f2f2" />
<rect x="320.32" y="187.9" width="2.94" height="10.94" fill="#f2f2f2" />
<rect x="324.31" y="187.9" width="2.94" height="10.94" fill="#f2f2f2" />
<rect x="328.3" y="187.9" width="2.94" height="10.94" fill="#f2f2f2" />
<rect x="332.29" y="187.9" width="2.94" height="10.94" fill="#f2f2f2" />
<rect x="336.28" y="187.9" width="2.94" height="10.94" fill="#f2f2f2" />
<rect x="340.27" y="187.9" width="2.94" height="10.94" fill="#f2f2f2" />
<rect x="340.27" y="187.9" width="3.14" height="10.94" fill="#2b7bba" />
<rect x="344.26" y="187.9" width="2.94" height="10.94" fill="#f2f2f2" />
<rect x="348.25" y="187.9" width="2.94" height="10.94" fill="#f2f2f2" />
<line x1="64.6" y1="193.37" x2="69.6" y2="193.37" stroke="#555" stroke-width="0.9" />
<text x="63.2" y="195.17" font-size="6.8" text-anchor="end" fill="#333">ELF1 (4)</text>
<rect x="70.3" y="200.39" width="2.95" height="10.94" fill="#f2f2f2" />
<rect x="74.3" y="200.39" width="2.95" height="10.94" fill="#f2f2f2" />
<rect x="78.3" y="200.39" width="2.95" height="10.94" fill="#f2f2f2" />
<rect x="78.3" y="200.39" width="3.15" height="10.94" fill="#d7191c" />
<rect x="82.3" y="200.39" width="2.95" height="10.94" fill="#f2f2f2" />
<rect x="86.3" y="200.39" width="2.95" height="10.94" fill="#f2f2f2" />
<rect x="90.3" y="200.39" width="2.95" height="10.94" fill="#f2f2f2" />
<rect x="94.3" y="200.39" width="2.95" height="10.94" fill="#f2f2f2" />
<rect x="98.3" y="200.39" width="2.95" height="10.94" fill="#f2f2f2" />
<rect x="102.3" y="200.39" width="2.95" height="10.94" fill="#f2f2f2" />
<rect x="106.3" y="200.39" width="2.95" height="10.94" fill="#f2f2f2" />
<rect x="110.3" y="200.39" width="2.95" height="10.94" fill="#f2f2f2" />
<rect x="110.3" y="200.39" width="3.15" height="10.94" fill="#d7191c" />
<rect x="114.3" y="200.39" width="2.95" height="10.94" fill="#f2f2f2" />
<rect x="118.3" y="200.39" width="2.95" height="10.94" fill="#f2f2f2" />
<rect x="122.3" y="200.39" width="2.95" height="10.94" fill="#f2f2f2" />
<rect x="126.3" y="200.39" width="2.95" height="10.94" fill="#f2f2f2" />
<rect x="130.3" y="200.39" width="2.95" height="10.94" fill="#f2f2f2" />
<rect x="134.3" y="200.39" width="2.95" height="10.94" fill="#f2f2f2" />
<rect x="138.3" y="200.39" width="2.95" height="10.94" fill="#f2f2f2" />
<rect x="142.3" y="200.39" width="2.95" height="10.94" fill="#f2f2f2" />
<rect x="146.3" y="200.39" width="2.95" height="10.94" fill="#f2f2f2" />
<rect x="150.3" y="200.39" width="2.95" height="10.94" fill="#f2f2f2" />
<rect x="154.3" y="200.39" width="2.95" height="10.94" fill="#f2f2f2" />
<rect x="158.3" y="200.39" width="2.95" height="10.94" fill="#f2f2f2" />
<rect x="158.3" y="200.39" width="3.15" height="10.94" fill="#a8cf55" />
<rect x="162.3" y="200.39" width="2.95" height="10.94" fill="#f2f2f2" />
<rect x="166.3" y="200.39" width="2.95" height="10.94" fill="#f2f2f2" />
<rect x="170.3" y="200.39" width="2.95" height="10.94" fill="#f2f2f2" />
<rect x="174.3" y="200.39" width="2.95" height="10.94" fill="#f2f2f2" />
<rect x="178.3" y="200.39" width="2.95" height="10.94" fill="#f2f2f2" />
<rect x="182.3" y="200.39" width="2.95" height="10.94" fill="#f2f2f2" />
<rect x="182.3" y="200.39" width="3.15" height="10.94" fill="#a8cf55" />
<rect x="186.3" y="200.39" width="2.95" height="10.94" fill="#f2f2f2" />
<rect x="186.3" y="200.39" width="3.15" height="5.47" fill="#d7191c" />
<rect x="186.3" y="205.86" width="3.15" height="5.47" fill="#2b7bba" />
<rect x="190.3" y="200.39" width="2.95" height="10.94" fill="#f2f2f2" />
<rect x="194.3" y="200.39" width="2.95" height="10.94" fill="#f2f2f2" />
<rect x="198.3" y="200.39" width="2.95" height="10.94" fill="#f2f2f2" />
<rect x="202.3" y="200.39" width="2.95" height="10.94" fill="#f2f2f2" />
<rect x="206.3" y="200.39" width="2.95" height="10.94" fill="#f2f2f2" />
<rect x="206.3" y="200.39" width="3.15" height="10.94" fill="#2b7bba" />
<rect x="210.3" y="200.39" width="2.95" height="10.94" fill="#f2f2f2" />
<rect x="210.3" y="200.39" width="3.15" height="10.94" fill="#a8cf55" />
<rect x="214.3" y="200.39" width="2.95" height="10.94" fill="#f2f2f2" />
<rect x="218.3" y="200.39" width="2.95" height="10.94" fill="#f2f2f2" />
<rect x="222.3" y="200.39" width="2.95" height="10.94" fill="#f2f2f2" />
<rect x="228.55" y="200.39" width="2.94" height="10.94" fill="#f2f2f2" />
<rect x="232.54" y="200.39" width="2.94" height="10.94" fill="#f2f2f2" />
<rect x="236.53" y="200.39" width="2.94" height="10.94" fill="#f2f2f2" />
<rect x="240.52" y="200.39" width="2.94" height="10.94" fill="#f2f2f2" />
<rect x="244.51" y="200.39" width="2.94" height="10.94" fill="#f2f2f2" />
<rect x="244.51" y="200.39" width="3.14" height="10.94" fill="#a8cf55" />
<rect x="248.5" y="200.39" width="2.94" height="10.94" fill="#f2f2f2" />
<rect x="252.49" y="200.39" width="2.94" height="10.94" fill="#f2f2f2" />
<rect x="256.48" y="200.39" width="2.94" height="10.94" fill="#f2f2f2" />
<rect x="260.47" y="200.39" width="2.94" height="10.94" fill="#f2f2f2" />
<rect x="264.46" y="200.39" width="2.94" height="10.94" fill="#f2f2f2" />
<rect x="264.46" y="200.39" width="3.14" height="5.47" fill="#a8cf55" />
<rect x="264.46" y="205.86" width="3.14" height="5.47" fill="#2b7bba" />
<rect x="268.45" y="200.39" width="2.94" height="10.94" fill="#f2f2f2" />
<rect x="272.44" y="200.39" width="2.94" height="10.94" fill="#f2f2f2" />
<rect x="276.43" y="200.39" width="2.94" height="10.94" fill="#f2f2f2" />
<rect x="280.42" y="200.39" width="2.94" height="10.94" fill="#f2f2f2" />
<rect x="284.41" y="200.39" width="2.94" height="10.94" fill="#f2f2f2" />
<rect x="288.4" y="200.39" width="2.94" height="10.94" fill="#f2f2f2" />
<rect x="292.39" y="200.39" width="2.94" height="10.94" fill="#f2f2f2" />
<rect x="296.38" y="200.39" width="2.94" height="10.94" fill="#f2f2f2" />
<rect x="300.37" y="200.39" width="2.94" height="10.94" fill="#f2f2f2" />
<rect x="304.36" y="200.39" width="2.94" height="10.94" fill="#f2f2f2" />
<rect x="308.35" y="200.39" width="2.94" height="10.94" fill="#f2f2f2" />
<rect x="312.34" y="200.39" width="2.94" height="10.94" fill="#f2f2f2" />
<rect x="316.33" y="200.39" width="2.94" height="10.94" fill="#f2f2f2" />
<rect x="320.32" y="200.39" width="2.94" height="10.94" fill="#f2f2f2" />
<rect x="324.31" y="200.39" width="2.94" height="10.94" fill="#f2f2f2" />
<rect x="328.3" y="200.39" width="2.94" height="10.94" fill="#f2f2f2" />
<rect x="332.29" y="200.39" width="2.94" height="10.94" fill="#f2f2f2" />
<rect x="332.29" y="200.39" width="3.14" height="10.94" fill="#8b4a36" />
<rect x="336.28" y="200.39" width="2.94" height="10.94" fill="#f2f2f2" />
<rect x="340.27" y="200.39" width="2.94" height="10.94" fill="#f2f2f2" />
<rect x="344.26" y="200.39" width="2.94" height="10.94" fill="#f2f2f2" />
<rect x="348.25" y="200.39" width="2.94" height="10.94" fill="#f2f2f2" />
<line x1="64.6" y1="205.86" x2="69.6" y2="205.86" stroke="#555" stroke-width="0.9" />
<text x="63.2" y="207.66" font-size="6.8" text-anchor="end" fill="#333">ETV6 (10)</text>
<rect x="70.3" y="212.89" width="2.95" height="10.94" fill="#f2f2f2" />
<rect x="74.3" y="212.89" width="2.95" height="10.94" fill="#f2f2f2" />
<rect x="78.3" y="212.89" width="2.95" height="10.94" fill="#f2f2f2" />
<rect x="82.3" y="212.89" width="2.95" height="10.94" fill="#f2f2f2" />
<rect x="86.3" y="212.89" width="2.95" height="10.94" fill="#f2f2f2" />
<rect x="90.3" y="212.89" width="2.95" height="10.94" fill="#f2f2f2" />
<rect x="94.3" y="212.89" width="2.95" height="10.94" fill="#f2f2f2" />
<rect x="98.3" y="212.89" width="2.95" height="10.94" fill="#f2f2f2" />
<rect x="102.3" y="212.89" width="2.95" height="10.94" fill="#f2f2f2" />
<rect x="106.3" y="212.89" width="2.95" height="10.94" fill="#f2f2f2" />
<rect x="110.3" y="212.89" width="2.95" height="10.94" fill="#f2f2f2" />
<rect x="114.3" y="212.89" width="2.95" height="10.94" fill="#f2f2f2" />
<rect x="118.3" y="212.89" width="2.95" height="10.94" fill="#f2f2f2" />
<rect x="122.3" y="212.89" width="2.95" height="10.94" fill="#f2f2f2" />
<rect x="126.3" y="212.89" width="2.95" height="10.94" fill="#f2f2f2" />
<rect x="130.3" y="212.89" width="2.95" height="10.94" fill="#f2f2f2" />
<rect x="134.3" y="212.89" width="2.95" height="10.94" fill="#f2f2f2" />
<rect x="138.3" y="212.89" width="2.95" height="10.94" fill="#f2f2f2" />
<rect x="142.3" y="212.89" width="2.95" height="10.94" fill="#f2f2f2" />
<rect x="146.3" y="212.89" width="2.95" height="10.94" fill="#f2f2f2" />
<rect x="150.3" y="212.89" width="2.95" height="10.94" fill="#f2f2f2" />
<rect x="154.3" y="212.89" width="2.95" height="10.94" fill="#f2f2f2" />
<rect x="158.3" y="212.89" width="2.95" height="10.94" fill="#f2f2f2" />
<rect x="162.3" y="212.89" width="2.95" height="10.94" fill="#f2f2f2" />
<rect x="166.3" y="212.89" width="2.95" height="10.94" fill="#f2f2f2" />
<rect x="166.3" y="212.89" width="3.15" height="10.94" fill="#2b7bba" />
<rect x="170.3" y="212.89" width="2.95" height="10.94" fill="#f2f2f2" />
<rect x="174.3" y="212.89" width="2.95" height="10.94" fill="#f2f2f2" />
<rect x="174.3" y="212.89" width="3.15" height="10.94" fill="#2b7bba" />
<rect x="178.3" y="212.89" width="2.95" height="10.94" fill="#f2f2f2" />
<rect x="182.3" y="212.89" width="2.95" height="10.94" fill="#f2f2f2" />
<rect x="186.3" y="212.89" width="2.95" height="10.94" fill="#f2f2f2" />
<rect x="186.3" y="212.89" width="3.15" height="10.94" fill="#2b7bba" />
<rect x="190.3" y="212.89" width="2.95" height="10.94" fill="#f2f2f2" />
<rect x="194.3" y="212.89" width="2.95" height="10.94" fill="#f2f2f2" />
<rect x="198.3" y="212.89" width="2.95" height="10.94" fill="#f2f2f2" />
<rect x="202.3" y="212.89" width="2.95" height="10.94" fill="#f2f2f2" />
<rect x="206.3" y="212.89" width="2.95" height="10.94" fill="#f2f2f2" />
<rect x="210.3" y="212.89" width="2.95" height="10.94" fill="#f2f2f2" />
<rect x="214.3" y="212.89" width="2.95" height="10.94" fill="#f2f2f2" />
<rect x="218.3" y="212.89" width="2.95" height="10.94" fill="#f2f2f2" />
<rect x="222.3" y="212.89" width="2.95" height="10.94" fill="#f2f2f2" />
<rect x="228.55" y="212.89" width="2.94" height="10.94" fill="#f2f2f2" />
<rect x="232.54" y="212.89" width="2.94" height="10.94" fill="#f2f2f2" />
<rect x="236.53" y="212.89" width="2.94" height="10.94" fill="#f2f2f2" />
<rect x="240.52" y="212.89" width="2.94" height="10.94" fill="#f2f2f2" />
<rect x="244.51" y="212.89" width="2.94" height="10.94" fill="#f2f2f2" />
<rect x="248.5" y="212.89" width="2.94" height="10.94" fill="#f2f2f2" />
<rect x="252.49" y="212.89" width="2.94" height="10.94" fill="#f2f2f2" />
<rect x="256.48" y="212.89" width="2.94" height="10.94" fill="#f2f2f2" />
<rect x="260.47" y="212.89" width="2.94" height="10.94" fill="#f2f2f2" />
<rect x="264.46" y="212.89" width="2.94" height="10.94" fill="#f2f2f2" />
<rect x="264.46" y="212.89" width="3.14" height="10.94" fill="#2b7bba" />
<rect x="268.45" y="212.89" width="2.94" height="10.94" fill="#f2f2f2" />
<rect x="272.44" y="212.89" width="2.94" height="10.94" fill="#f2f2f2" />
<rect x="276.43" y="212.89" width="2.94" height="10.94" fill="#f2f2f2" />
<rect x="280.42" y="212.89" width="2.94" height="10.94" fill="#f2f2f2" />
<rect x="284.41" y="212.89" width="2.94" height="10.94" fill="#f2f2f2" />
<rect x="288.4" y="212.89" width="2.94" height="10.94" fill="#f2f2f2" />
<rect x="292.39" y="212.89" width="2.94" height="10.94" fill="#f2f2f2" />
<rect x="296.38" y="212.89" width="2.94" height="10.94" fill="#f2f2f2" />
<rect x="300.37" y="212.89" width="2.94" height="10.94" fill="#f2f2f2" />
<rect x="304.36" y="212.89" width="2.94" height="10.94" fill="#f2f2f2" />
<rect x="308.35" y="212.89" width="2.94" height="10.94" fill="#f2f2f2" />
<rect x="312.34" y="212.89" width="2.94" height="10.94" fill="#f2f2f2" />
<rect x="316.33" y="212.89" width="2.94" height="10.94" fill="#f2f2f2" />
<rect x="320.32" y="212.89" width="2.94" height="10.94" fill="#f2f2f2" />
<rect x="324.31" y="212.89" width="2.94" height="10.94" fill="#f2f2f2" />
<rect x="328.3" y="212.89" width="2.94" height="10.94" fill="#f2f2f2" />
<rect x="332.29" y="212.89" width="2.94" height="10.94" fill="#f2f2f2" />
<rect x="336.28" y="212.89" width="2.94" height="10.94" fill="#f2f2f2" />
<rect x="340.27" y="212.89" width="2.94" height="10.94" fill="#f2f2f2" />
<rect x="344.26" y="212.89" width="2.94" height="10.94" fill="#f2f2f2" />
<rect x="348.25" y="212.89" width="2.94" height="10.94" fill="#f2f2f2" />
<line x1="64.6" y1="218.36" x2="69.6" y2="218.36" stroke="#555" stroke-width="0.9" />
<text x="63.2" y="220.16" font-size="6.8" text-anchor="end" fill="#333">LEF1 (4)</text>
<rect x="70.3" y="225.38" width="2.95" height="10.94" fill="#f2f2f2" />
<rect x="74.3" y="225.38" width="2.95" height="10.94" fill="#f2f2f2" />
<rect x="78.3" y="225.38" width="2.95" height="10.94" fill="#f2f2f2" />
<rect x="82.3" y="225.38" width="2.95" height="10.94" fill="#f2f2f2" />
<rect x="86.3" y="225.38" width="2.95" height="10.94" fill="#f2f2f2" />
<rect x="90.3" y="225.38" width="2.95" height="10.94" fill="#f2f2f2" />
<rect x="94.3" y="225.38" width="2.95" height="10.94" fill="#f2f2f2" />
<rect x="98.3" y="225.38" width="2.95" height="10.94" fill="#f2f2f2" />
<rect x="102.3" y="225.38" width="2.95" height="10.94" fill="#f2f2f2" />
<rect x="106.3" y="225.38" width="2.95" height="10.94" fill="#f2f2f2" />
<rect x="110.3" y="225.38" width="2.95" height="10.94" fill="#f2f2f2" />
<rect x="114.3" y="225.38" width="2.95" height="10.94" fill="#f2f2f2" />
<rect x="114.3" y="225.38" width="3.15" height="10.94" fill="#2b7bba" />
<rect x="118.3" y="225.38" width="2.95" height="10.94" fill="#f2f2f2" />
<rect x="122.3" y="225.38" width="2.95" height="10.94" fill="#f2f2f2" />
<rect x="126.3" y="225.38" width="2.95" height="10.94" fill="#f2f2f2" />
<rect x="130.3" y="225.38" width="2.95" height="10.94" fill="#f2f2f2" />
<rect x="134.3" y="225.38" width="2.95" height="10.94" fill="#f2f2f2" />
<rect x="138.3" y="225.38" width="2.95" height="10.94" fill="#f2f2f2" />
<rect x="142.3" y="225.38" width="2.95" height="10.94" fill="#f2f2f2" />
<rect x="142.3" y="225.38" width="3.15" height="10.94" fill="#2b7bba" />
<rect x="146.3" y="225.38" width="2.95" height="10.94" fill="#f2f2f2" />
<rect x="150.3" y="225.38" width="2.95" height="10.94" fill="#f2f2f2" />
<rect x="154.3" y="225.38" width="2.95" height="10.94" fill="#f2f2f2" />
<rect x="158.3" y="225.38" width="2.95" height="10.94" fill="#f2f2f2" />
<rect x="158.3" y="225.38" width="3.15" height="10.94" fill="#8b4a36" />
<rect x="162.3" y="225.38" width="2.95" height="10.94" fill="#f2f2f2" />
<rect x="166.3" y="225.38" width="2.95" height="10.94" fill="#f2f2f2" />
<rect x="170.3" y="225.38" width="2.95" height="10.94" fill="#f2f2f2" />
<rect x="174.3" y="225.38" width="2.95" height="10.94" fill="#f2f2f2" />
<rect x="178.3" y="225.38" width="2.95" height="10.94" fill="#f2f2f2" />
<rect x="182.3" y="225.38" width="2.95" height="10.94" fill="#f2f2f2" />
<rect x="186.3" y="225.38" width="2.95" height="10.94" fill="#f2f2f2" />
<rect x="190.3" y="225.38" width="2.95" height="10.94" fill="#f2f2f2" />
<rect x="194.3" y="225.38" width="2.95" height="10.94" fill="#f2f2f2" />
<rect x="198.3" y="225.38" width="2.95" height="10.94" fill="#f2f2f2" />
<rect x="202.3" y="225.38" width="2.95" height="10.94" fill="#f2f2f2" />
<rect x="206.3" y="225.38" width="2.95" height="10.94" fill="#f2f2f2" />
<rect x="210.3" y="225.38" width="2.95" height="10.94" fill="#f2f2f2" />
<rect x="214.3" y="225.38" width="2.95" height="10.94" fill="#f2f2f2" />
<rect x="218.3" y="225.38" width="2.95" height="10.94" fill="#f2f2f2" />
<rect x="218.3" y="225.38" width="3.15" height="10.94" fill="#2b7bba" />
<rect x="222.3" y="225.38" width="2.95" height="10.94" fill="#f2f2f2" />
<rect x="228.55" y="225.38" width="2.94" height="10.94" fill="#f2f2f2" />
<rect x="232.54" y="225.38" width="2.94" height="10.94" fill="#f2f2f2" />
<rect x="236.53" y="225.38" width="2.94" height="10.94" fill="#f2f2f2" />
<rect x="240.52" y="225.38" width="2.94" height="10.94" fill="#f2f2f2" />
<rect x="244.51" y="225.38" width="2.94" height="10.94" fill="#f2f2f2" />
<rect x="248.5" y="225.38" width="2.94" height="10.94" fill="#f2f2f2" />
<rect x="252.49" y="225.38" width="2.94" height="10.94" fill="#f2f2f2" />
<rect x="256.48" y="225.38" width="2.94" height="10.94" fill="#f2f2f2" />
<rect x="260.47" y="225.38" width="2.94" height="10.94" fill="#f2f2f2" />
<rect x="264.46" y="225.38" width="2.94" height="10.94" fill="#f2f2f2" />
<rect x="268.45" y="225.38" width="2.94" height="10.94" fill="#f2f2f2" />
<rect x="272.44" y="225.38" width="2.94" height="10.94" fill="#f2f2f2" />
<rect x="276.43" y="225.38" width="2.94" height="10.94" fill="#f2f2f2" />
<rect x="280.42" y="225.38" width="2.94" height="10.94" fill="#f2f2f2" />
<rect x="284.41" y="225.38" width="2.94" height="10.94" fill="#f2f2f2" />
<rect x="288.4" y="225.38" width="2.94" height="10.94" fill="#f2f2f2" />
<rect x="292.39" y="225.38" width="2.94" height="10.94" fill="#f2f2f2" />
<rect x="296.38" y="225.38" width="2.94" height="10.94" fill="#f2f2f2" />
<rect x="300.37" y="225.38" width="2.94" height="10.94" fill="#f2f2f2" />
<rect x="304.36" y="225.38" width="2.94" height="10.94" fill="#f2f2f2" />
<rect x="308.35" y="225.38" width="2.94" height="10.94" fill="#f2f2f2" />
<rect x="312.34" y="225.38" width="2.94" height="10.94" fill="#f2f2f2" />
<rect x="316.33" y="225.38" width="2.94" height="10.94" fill="#f2f2f2" />
<rect x="320.32" y="225.38" width="2.94" height="10.94" fill="#f2f2f2" />
<rect x="324.31" y="225.38" width="2.94" height="10.94" fill="#f2f2f2" />
<rect x="328.3" y="225.38" width="2.94" height="10.94" fill="#f2f2f2" />
<rect x="332.29" y="225.38" width="2.94" height="10.94" fill="#f2f2f2" />
<rect x="336.28" y="225.38" width="2.94" height="10.94" fill="#f2f2f2" />
<rect x="340.27" y="225.38" width="2.94" height="10.94" fill="#f2f2f2" />
<rect x="344.26" y="225.38" width="2.94" height="10.94" fill="#f2f2f2" />
<rect x="348.25" y="225.38" width="2.94" height="10.94" fill="#f2f2f2" />
<line x1="64.6" y1="230.85" x2="69.6" y2="230.85" stroke="#555" stroke-width="0.9" />
<text x="63.2" y="232.65" font-size="6.8" text-anchor="end" fill="#333">MED12 (4)</text>
<rect x="70.3" y="237.87" width="2.95" height="10.94" fill="#f2f2f2" />
<rect x="74.3" y="237.87" width="2.95" height="10.94" fill="#f2f2f2" />
<rect x="78.3" y="237.87" width="2.95" height="10.94" fill="#f2f2f2" />
<rect x="82.3" y="237.87" width="2.95" height="10.94" fill="#f2f2f2" />
<rect x="86.3" y="237.87" width="2.95" height="10.94" fill="#f2f2f2" />
<rect x="90.3" y="237.87" width="2.95" height="10.94" fill="#f2f2f2" />
<rect x="94.3" y="237.87" width="2.95" height="10.94" fill="#f2f2f2" />
<rect x="94.3" y="237.87" width="3.15" height="10.94" fill="#2b7bba" />
<rect x="98.3" y="237.87" width="2.95" height="10.94" fill="#f2f2f2" />
<rect x="102.3" y="237.87" width="2.95" height="10.94" fill="#f2f2f2" />
<rect x="106.3" y="237.87" width="2.95" height="10.94" fill="#f2f2f2" />
<rect x="110.3" y="237.87" width="2.95" height="10.94" fill="#f2f2f2" />
<rect x="114.3" y="237.87" width="2.95" height="10.94" fill="#f2f2f2" />
<rect x="118.3" y="237.87" width="2.95" height="10.94" fill="#f2f2f2" />
<rect x="122.3" y="237.87" width="2.95" height="10.94" fill="#f2f2f2" />
<rect x="126.3" y="237.87" width="2.95" height="10.94" fill="#f2f2f2" />
<rect x="130.3" y="237.87" width="2.95" height="10.94" fill="#f2f2f2" />
<rect x="130.3" y="237.87" width="3.15" height="10.94" fill="#2b7bba" />
<rect x="134.3" y="237.87" width="2.95" height="10.94" fill="#f2f2f2" />
<rect x="134.3" y="237.87" width="3.15" height="10.94" fill="#2b7bba" />
<rect x="138.3" y="237.87" width="2.95" height="10.94" fill="#f2f2f2" />
<rect x="142.3" y="237.87" width="2.95" height="10.94" fill="#f2f2f2" />
<rect x="146.3" y="237.87" width="2.95" height="10.94" fill="#f2f2f2" />
<rect x="150.3" y="237.87" width="2.95" height="10.94" fill="#f2f2f2" />
<rect x="154.3" y="237.87" width="2.95" height="10.94" fill="#f2f2f2" />
<rect x="158.3" y="237.87" width="2.95" height="10.94" fill="#f2f2f2" />
<rect x="162.3" y="237.87" width="2.95" height="10.94" fill="#f2f2f2" />
<rect x="166.3" y="237.87" width="2.95" height="10.94" fill="#f2f2f2" />
<rect x="170.3" y="237.87" width="2.95" height="10.94" fill="#f2f2f2" />
<rect x="174.3" y="237.87" width="2.95" height="10.94" fill="#f2f2f2" />
<rect x="174.3" y="237.87" width="3.15" height="10.94" fill="#2b7bba" />
<rect x="178.3" y="237.87" width="2.95" height="10.94" fill="#f2f2f2" />
<rect x="182.3" y="237.87" width="2.95" height="10.94" fill="#f2f2f2" />
<rect x="182.3" y="237.87" width="3.15" height="10.94" fill="#2b7bba" />
<rect x="186.3" y="237.87" width="2.95" height="10.94" fill="#f2f2f2" />
<rect x="190.3" y="237.87" width="2.95" height="10.94" fill="#f2f2f2" />
<rect x="194.3" y="237.87" width="2.95" height="10.94" fill="#f2f2f2" />
<rect x="198.3" y="237.87" width="2.95" height="10.94" fill="#f2f2f2" />
<rect x="202.3" y="237.87" width="2.95" height="10.94" fill="#f2f2f2" />
<rect x="206.3" y="237.87" width="2.95" height="10.94" fill="#f2f2f2" />
<rect x="210.3" y="237.87" width="2.95" height="10.94" fill="#f2f2f2" />
<rect x="214.3" y="237.87" width="2.95" height="10.94" fill="#f2f2f2" />
<rect x="218.3" y="237.87" width="2.95" height="10.94" fill="#f2f2f2" />
<rect x="222.3" y="237.87" width="2.95" height="10.94" fill="#f2f2f2" />
<rect x="228.55" y="237.87" width="2.94" height="10.94" fill="#f2f2f2" />
<rect x="232.54" y="237.87" width="2.94" height="10.94" fill="#f2f2f2" />
<rect x="236.53" y="237.87" width="2.94" height="10.94" fill="#f2f2f2" />
<rect x="236.53" y="237.87" width="3.14" height="10.94" fill="#2b7bba" />
<rect x="240.52" y="237.87" width="2.94" height="10.94" fill="#f2f2f2" />
<rect x="244.51" y="237.87" width="2.94" height="10.94" fill="#f2f2f2" />
<rect x="248.5" y="237.87" width="2.94" height="10.94" fill="#f2f2f2" />
<rect x="252.49" y="237.87" width="2.94" height="10.94" fill="#f2f2f2" />
<rect x="256.48" y="237.87" width="2.94" height="10.94" fill="#f2f2f2" />
<rect x="260.47" y="237.87" width="2.94" height="10.94" fill="#f2f2f2" />
<rect x="264.46" y="237.87" width="2.94" height="10.94" fill="#f2f2f2" />
<rect x="268.45" y="237.87" width="2.94" height="10.94" fill="#f2f2f2" />
<rect x="272.44" y="237.87" width="2.94" height="10.94" fill="#f2f2f2" />
<rect x="276.43" y="237.87" width="2.94" height="10.94" fill="#f2f2f2" />
<rect x="280.42" y="237.87" width="2.94" height="10.94" fill="#f2f2f2" />
<rect x="284.41" y="237.87" width="2.94" height="10.94" fill="#f2f2f2" />
<rect x="288.4" y="237.87" width="2.94" height="10.94" fill="#f2f2f2" />
<rect x="292.39" y="237.87" width="2.94" height="10.94" fill="#f2f2f2" />
<rect x="296.38" y="237.87" width="2.94" height="10.94" fill="#f2f2f2" />
<rect x="300.37" y="237.87" width="2.94" height="10.94" fill="#f2f2f2" />
<rect x="304.36" y="237.87" width="2.94" height="10.94" fill="#f2f2f2" />
<rect x="308.35" y="237.87" width="2.94" height="10.94" fill="#f2f2f2" />
<rect x="312.34" y="237.87" width="2.94" height="10.94" fill="#f2f2f2" />
<rect x="316.33" y="237.87" width="2.94" height="10.94" fill="#f2f2f2" />
<rect x="320.32" y="237.87" width="2.94" height="10.94" fill="#f2f2f2" />
<rect x="320.32" y="237.87" width="3.14" height="10.94" fill="#2b7bba" />
<rect x="324.31" y="237.87" width="2.94" height="10.94" fill="#f2f2f2" />
<rect x="328.3" y="237.87" width="2.94" height="10.94" fill="#f2f2f2" />
<rect x="332.29" y="237.87" width="2.94" height="10.94" fill="#f2f2f2" />
<rect x="336.28" y="237.87" width="2.94" height="10.94" fill="#f2f2f2" />
<rect x="340.27" y="237.87" width="2.94" height="10.94" fill="#f2f2f2" />
<rect x="344.26" y="237.87" width="2.94" height="10.94" fill="#f2f2f2" />
<rect x="348.25" y="237.87" width="2.94" height="10.94" fill="#f2f2f2" />
<line x1="64.6" y1="243.34" x2="69.6" y2="243.34" stroke="#555" stroke-width="0.9" />
<text x="63.2" y="245.14" font-size="6.8" text-anchor="end" fill="#333">MGA (7)</text>
<rect x="70.3" y="250.36" width="2.95" height="10.94" fill="#f2f2f2" />
<rect x="74.3" y="250.36" width="2.95" height="10.94" fill="#f2f2f2" />
<rect x="78.3" y="250.36" width="2.95" height="10.94" fill="#f2f2f2" />
<rect x="82.3" y="250.36" width="2.95" height="10.94" fill="#f2f2f2" />
<rect x="86.3" y="250.36" width="2.95" height="10.94" fill="#f2f2f2" />
<rect x="90.3" y="250.36" width="2.95" height="10.94" fill="#f2f2f2" />
<rect x="94.3" y="250.36" width="2.95" height="10.94" fill="#f2f2f2" />
<rect x="98.3" y="250.36" width="2.95" height="10.94" fill="#f2f2f2" />
<rect x="102.3" y="250.36" width="2.95" height="10.94" fill="#f2f2f2" />
<rect x="106.3" y="250.36" width="2.95" height="10.94" fill="#f2f2f2" />
<rect x="110.3" y="250.36" width="2.95" height="10.94" fill="#f2f2f2" />
<rect x="114.3" y="250.36" width="2.95" height="10.94" fill="#f2f2f2" />
<rect x="118.3" y="250.36" width="2.95" height="10.94" fill="#f2f2f2" />
<rect x="122.3" y="250.36" width="2.95" height="10.94" fill="#f2f2f2" />
<rect x="126.3" y="250.36" width="2.95" height="10.94" fill="#f2f2f2" />
<rect x="130.3" y="250.36" width="2.95" height="10.94" fill="#f2f2f2" />
<rect x="134.3" y="250.36" width="2.95" height="10.94" fill="#f2f2f2" />
<rect x="138.3" y="250.36" width="2.95" height="10.94" fill="#f2f2f2" />
<rect x="138.3" y="250.36" width="3.15" height="10.94" fill="#2b7bba" />
<rect x="142.3" y="250.36" width="2.95" height="10.94" fill="#f2f2f2" />
<rect x="146.3" y="250.36" width="2.95" height="10.94" fill="#f2f2f2" />
<rect x="150.3" y="250.36" width="2.95" height="10.94" fill="#f2f2f2" />
<rect x="154.3" y="250.36" width="2.95" height="10.94" fill="#f2f2f2" />
<rect x="158.3" y="250.36" width="2.95" height="10.94" fill="#f2f2f2" />
<rect x="162.3" y="250.36" width="2.95" height="10.94" fill="#f2f2f2" />
<rect x="166.3" y="250.36" width="2.95" height="10.94" fill="#f2f2f2" />
<rect x="170.3" y="250.36" width="2.95" height="10.94" fill="#f2f2f2" />
<rect x="174.3" y="250.36" width="2.95" height="10.94" fill="#f2f2f2" />
<rect x="178.3" y="250.36" width="2.95" height="10.94" fill="#f2f2f2" />
<rect x="182.3" y="250.36" width="2.95" height="10.94" fill="#f2f2f2" />
<rect x="186.3" y="250.36" width="2.95" height="10.94" fill="#f2f2f2" />
<rect x="190.3" y="250.36" width="2.95" height="10.94" fill="#f2f2f2" />
<rect x="190.3" y="250.36" width="3.15" height="10.94" fill="#d7191c" />
<rect x="194.3" y="250.36" width="2.95" height="10.94" fill="#f2f2f2" />
<rect x="198.3" y="250.36" width="2.95" height="10.94" fill="#f2f2f2" />
<rect x="202.3" y="250.36" width="2.95" height="10.94" fill="#f2f2f2" />
<rect x="206.3" y="250.36" width="2.95" height="10.94" fill="#f2f2f2" />
<rect x="210.3" y="250.36" width="2.95" height="10.94" fill="#f2f2f2" />
<rect x="214.3" y="250.36" width="2.95" height="10.94" fill="#f2f2f2" />
<rect x="218.3" y="250.36" width="2.95" height="10.94" fill="#f2f2f2" />
<rect x="218.3" y="250.36" width="3.15" height="10.94" fill="#2b7bba" />
<rect x="222.3" y="250.36" width="2.95" height="10.94" fill="#f2f2f2" />
<rect x="228.55" y="250.36" width="2.94" height="10.94" fill="#f2f2f2" />
<rect x="232.54" y="250.36" width="2.94" height="10.94" fill="#f2f2f2" />
<rect x="236.53" y="250.36" width="2.94" height="10.94" fill="#f2f2f2" />
<rect x="240.52" y="250.36" width="2.94" height="10.94" fill="#f2f2f2" />
<rect x="244.51" y="250.36" width="2.94" height="10.94" fill="#f2f2f2" />
<rect x="248.5" y="250.36" width="2.94" height="10.94" fill="#f2f2f2" />
<rect x="252.49" y="250.36" width="2.94" height="10.94" fill="#f2f2f2" />
<rect x="256.48" y="250.36" width="2.94" height="10.94" fill="#f2f2f2" />
<rect x="260.47" y="250.36" width="2.94" height="10.94" fill="#f2f2f2" />
<rect x="264.46" y="250.36" width="2.94" height="10.94" fill="#f2f2f2" />
<rect x="268.45" y="250.36" width="2.94" height="10.94" fill="#f2f2f2" />
<rect x="272.44" y="250.36" width="2.94" height="10.94" fill="#f2f2f2" />
<rect x="276.43" y="250.36" width="2.94" height="10.94" fill="#f2f2f2" />
<rect x="280.42" y="250.36" width="2.94" height="10.94" fill="#f2f2f2" />
<rect x="284.41" y="250.36" width="2.94" height="10.94" fill="#f2f2f2" />
<rect x="288.4" y="250.36" width="2.94" height="10.94" fill="#f2f2f2" />
<rect x="292.39" y="250.36" width="2.94" height="10.94" fill="#f2f2f2" />
<rect x="296.38" y="250.36" width="2.94" height="10.94" fill="#f2f2f2" />
<rect x="300.37" y="250.36" width="2.94" height="10.94" fill="#f2f2f2" />
<rect x="304.36" y="250.36" width="2.94" height="10.94" fill="#f2f2f2" />
<rect x="308.35" y="250.36" width="2.94" height="10.94" fill="#f2f2f2" />
<rect x="312.34" y="250.36" width="2.94" height="10.94" fill="#f2f2f2" />
<rect x="316.33" y="250.36" width="2.94" height="10.94" fill="#f2f2f2" />
<rect x="320.32" y="250.36" width="2.94" height="10.94" fill="#f2f2f2" />
<rect x="324.31" y="250.36" width="2.94" height="10.94" fill="#f2f2f2" />
<rect x="328.3" y="250.36" width="2.94" height="10.94" fill="#f2f2f2" />
<rect x="332.29" y="250.36" width="2.94" height="10.94" fill="#f2f2f2" />
<rect x="336.28" y="250.36" width="2.94" height="10.94" fill="#f2f2f2" />
<rect x="340.27" y="250.36" width="2.94" height="10.94" fill="#f2f2f2" />
<rect x="340.27" y="250.36" width="3.14" height="10.94" fill="#d7191c" />
<rect x="344.26" y="250.36" width="2.94" height="10.94" fill="#f2f2f2" />
<rect x="348.25" y="250.36" width="2.94" height="10.94" fill="#f2f2f2" />
<line x1="64.6" y1="255.84" x2="69.6" y2="255.84" stroke="#555" stroke-width="0.9" />
<text x="63.2" y="257.64" font-size="6.8" text-anchor="end" fill="#333">NR3C1 (4)</text>
<rect x="70.3" y="262.86" width="2.95" height="10.94" fill="#f2f2f2" />
<rect x="70.3" y="262.86" width="3.15" height="10.94" fill="#ec8325" />
<rect x="74.3" y="262.86" width="2.95" height="10.94" fill="#f2f2f2" />
<rect x="78.3" y="262.86" width="2.95" height="10.94" fill="#f2f2f2" />
<rect x="82.3" y="262.86" width="2.95" height="10.94" fill="#f2f2f2" />
<rect x="86.3" y="262.86" width="2.95" height="10.94" fill="#f2f2f2" />
<rect x="90.3" y="262.86" width="2.95" height="10.94" fill="#f2f2f2" />
<rect x="94.3" y="262.86" width="2.95" height="10.94" fill="#f2f2f2" />
<rect x="98.3" y="262.86" width="2.95" height="10.94" fill="#f2f2f2" />
<rect x="102.3" y="262.86" width="2.95" height="10.94" fill="#f2f2f2" />
<rect x="106.3" y="262.86" width="2.95" height="10.94" fill="#f2f2f2" />
<rect x="110.3" y="262.86" width="2.95" height="10.94" fill="#f2f2f2" />
<rect x="114.3" y="262.86" width="2.95" height="10.94" fill="#f2f2f2" />
<rect x="118.3" y="262.86" width="2.95" height="10.94" fill="#f2f2f2" />
<rect x="122.3" y="262.86" width="2.95" height="10.94" fill="#f2f2f2" />
<rect x="126.3" y="262.86" width="2.95" height="10.94" fill="#f2f2f2" />
<rect x="130.3" y="262.86" width="2.95" height="10.94" fill="#f2f2f2" />
<rect x="134.3" y="262.86" width="2.95" height="10.94" fill="#f2f2f2" />
<rect x="134.3" y="262.86" width="3.15" height="10.94" fill="#2b7bba" />
<rect x="138.3" y="262.86" width="2.95" height="10.94" fill="#f2f2f2" />
<rect x="142.3" y="262.86" width="2.95" height="10.94" fill="#f2f2f2" />
<rect x="146.3" y="262.86" width="2.95" height="10.94" fill="#f2f2f2" />
<rect x="150.3" y="262.86" width="2.95" height="10.94" fill="#f2f2f2" />
<rect x="154.3" y="262.86" width="2.95" height="10.94" fill="#f2f2f2" />
<rect x="154.3" y="262.86" width="3.15" height="10.94" fill="#2b7bba" />
<rect x="158.3" y="262.86" width="2.95" height="10.94" fill="#f2f2f2" />
<rect x="162.3" y="262.86" width="2.95" height="10.94" fill="#f2f2f2" />
<rect x="166.3" y="262.86" width="2.95" height="10.94" fill="#f2f2f2" />
<rect x="170.3" y="262.86" width="2.95" height="10.94" fill="#f2f2f2" />
<rect x="174.3" y="262.86" width="2.95" height="10.94" fill="#f2f2f2" />
<rect x="178.3" y="262.86" width="2.95" height="10.94" fill="#f2f2f2" />
<rect x="182.3" y="262.86" width="2.95" height="10.94" fill="#f2f2f2" />
<rect x="186.3" y="262.86" width="2.95" height="10.94" fill="#f2f2f2" />
<rect x="190.3" y="262.86" width="2.95" height="10.94" fill="#f2f2f2" />
<rect x="194.3" y="262.86" width="2.95" height="10.94" fill="#f2f2f2" />
<rect x="198.3" y="262.86" width="2.95" height="10.94" fill="#f2f2f2" />
<rect x="202.3" y="262.86" width="2.95" height="10.94" fill="#f2f2f2" />
<rect x="206.3" y="262.86" width="2.95" height="10.94" fill="#f2f2f2" />
<rect x="210.3" y="262.86" width="2.95" height="10.94" fill="#f2f2f2" />
<rect x="214.3" y="262.86" width="2.95" height="10.94" fill="#f2f2f2" />
<rect x="218.3" y="262.86" width="2.95" height="10.94" fill="#f2f2f2" />
<rect x="222.3" y="262.86" width="2.95" height="10.94" fill="#f2f2f2" />
<rect x="228.55" y="262.86" width="2.94" height="10.94" fill="#f2f2f2" />
<rect x="232.54" y="262.86" width="2.94" height="10.94" fill="#f2f2f2" />
<rect x="232.54" y="262.86" width="3.14" height="10.94" fill="#2b7bba" />
<rect x="236.53" y="262.86" width="2.94" height="10.94" fill="#f2f2f2" />
<rect x="240.52" y="262.86" width="2.94" height="10.94" fill="#f2f2f2" />
<rect x="244.51" y="262.86" width="2.94" height="10.94" fill="#f2f2f2" />
<rect x="248.5" y="262.86" width="2.94" height="10.94" fill="#f2f2f2" />
<rect x="252.49" y="262.86" width="2.94" height="10.94" fill="#f2f2f2" />
<rect x="256.48" y="262.86" width="2.94" height="10.94" fill="#f2f2f2" />
<rect x="260.47" y="262.86" width="2.94" height="10.94" fill="#f2f2f2" />
<rect x="264.46" y="262.86" width="2.94" height="10.94" fill="#f2f2f2" />
<rect x="268.45" y="262.86" width="2.94" height="10.94" fill="#f2f2f2" />
<rect x="272.44" y="262.86" width="2.94" height="10.94" fill="#f2f2f2" />
<rect x="276.43" y="262.86" width="2.94" height="10.94" fill="#f2f2f2" />
<rect x="280.42" y="262.86" width="2.94" height="10.94" fill="#f2f2f2" />
<rect x="284.41" y="262.86" width="2.94" height="10.94" fill="#f2f2f2" />
<rect x="288.4" y="262.86" width="2.94" height="10.94" fill="#f2f2f2" />
<rect x="292.39" y="262.86" width="2.94" height="10.94" fill="#f2f2f2" />
<rect x="296.38" y="262.86" width="2.94" height="10.94" fill="#f2f2f2" />
<rect x="300.37" y="262.86" width="2.94" height="10.94" fill="#f2f2f2" />
<rect x="304.36" y="262.86" width="2.94" height="10.94" fill="#f2f2f2" />
<rect x="308.35" y="262.86" width="2.94" height="10.94" fill="#f2f2f2" />
<rect x="312.34" y="262.86" width="2.94" height="10.94" fill="#f2f2f2" />
<rect x="316.33" y="262.86" width="2.94" height="10.94" fill="#f2f2f2" />
<rect x="320.32" y="262.86" width="2.94" height="10.94" fill="#f2f2f2" />
<rect x="324.31" y="262.86" width="2.94" height="10.94" fill="#f2f2f2" />
<rect x="328.3" y="262.86" width="2.94" height="10.94" fill="#f2f2f2" />
<rect x="332.29" y="262.86" width="2.94" height="10.94" fill="#f2f2f2" />
<rect x="336.28" y="262.86" width="2.94" height="10.94" fill="#f2f2f2" />
<rect x="340.27" y="262.86" width="2.94" height="10.94" fill="#f2f2f2" />
<rect x="344.26" y="262.86" width="2.94" height="10.94" fill="#f2f2f2" />
<rect x="348.25" y="262.86" width="2.94" height="10.94" fill="#f2f2f2" />
<line x1="64.6" y1="268.33" x2="69.6" y2="268.33" stroke="#555" stroke-width="0.9" />
<text x="63.2" y="270.13" font-size="6.8" text-anchor="end" fill="#333">TCF7 (4)</text>
<rect x="70.4" y="187.4" width="155.9" height="87" rx="0.5" fill="none" stroke="#2e2e2e" stroke-width="1.1"/>
<rect x="228.5" y="187.4" width="123.8" height="87" rx="0.5" fill="none" stroke="#2e2e2e" stroke-width="1.1"/>
<text x="0" y="0" font-size="7.4" text-anchor="middle" fill="#333" textLength="48.0" lengthAdjust="spacingAndGlyphs" transform="translate(357.3 232.4) rotate(90)">Transcription</text>
<rect x="70.3" y="277.7" width="2.95" height="10.97" fill="#f2f2f2" />
<rect x="70.3" y="277.7" width="3.15" height="10.97" fill="#2b7bba" />
<rect x="74.3" y="277.7" width="2.95" height="10.97" fill="#f2f2f2" />
<rect x="78.3" y="277.7" width="2.95" height="10.97" fill="#f2f2f2" />
<rect x="82.3" y="277.7" width="2.95" height="10.97" fill="#f2f2f2" />
<rect x="86.3" y="277.7" width="2.95" height="10.97" fill="#f2f2f2" />
<rect x="90.3" y="277.7" width="2.95" height="10.97" fill="#f2f2f2" />
<rect x="94.3" y="277.7" width="2.95" height="10.97" fill="#f2f2f2" />
<rect x="94.3" y="277.7" width="3.15" height="10.97" fill="#2b7bba" />
<rect x="98.3" y="277.7" width="2.95" height="10.97" fill="#f2f2f2" />
<rect x="102.3" y="277.7" width="2.95" height="10.97" fill="#f2f2f2" />
<rect x="106.3" y="277.7" width="2.95" height="10.97" fill="#f2f2f2" />
<rect x="110.3" y="277.7" width="2.95" height="10.97" fill="#f2f2f2" />
<rect x="114.3" y="277.7" width="2.95" height="10.97" fill="#f2f2f2" />
<rect x="118.3" y="277.7" width="2.95" height="10.97" fill="#f2f2f2" />
<rect x="122.3" y="277.7" width="2.95" height="10.97" fill="#f2f2f2" />
<rect x="126.3" y="277.7" width="2.95" height="10.97" fill="#f2f2f2" />
<rect x="130.3" y="277.7" width="2.95" height="10.97" fill="#f2f2f2" />
<rect x="134.3" y="277.7" width="2.95" height="10.97" fill="#f2f2f2" />
<rect x="138.3" y="277.7" width="2.95" height="10.97" fill="#f2f2f2" />
<rect x="142.3" y="277.7" width="2.95" height="10.97" fill="#f2f2f2" />
<rect x="146.3" y="277.7" width="2.95" height="10.97" fill="#f2f2f2" />
<rect x="150.3" y="277.7" width="2.95" height="10.97" fill="#f2f2f2" />
<rect x="154.3" y="277.7" width="2.95" height="10.97" fill="#f2f2f2" />
<rect x="158.3" y="277.7" width="2.95" height="10.97" fill="#f2f2f2" />
<rect x="162.3" y="277.7" width="2.95" height="10.97" fill="#f2f2f2" />
<rect x="166.3" y="277.7" width="2.95" height="10.97" fill="#f2f2f2" />
<rect x="170.3" y="277.7" width="2.95" height="10.97" fill="#f2f2f2" />
<rect x="174.3" y="277.7" width="2.95" height="10.97" fill="#f2f2f2" />
<rect x="178.3" y="277.7" width="2.95" height="10.97" fill="#f2f2f2" />
<rect x="182.3" y="277.7" width="2.95" height="10.97" fill="#f2f2f2" />
<rect x="186.3" y="277.7" width="2.95" height="10.97" fill="#f2f2f2" />
<rect x="190.3" y="277.7" width="2.95" height="10.97" fill="#f2f2f2" />
<rect x="194.3" y="277.7" width="2.95" height="10.97" fill="#f2f2f2" />
<rect x="198.3" y="277.7" width="2.95" height="10.97" fill="#f2f2f2" />
<rect x="202.3" y="277.7" width="2.95" height="10.97" fill="#f2f2f2" />
<rect x="206.3" y="277.7" width="2.95" height="10.97" fill="#f2f2f2" />
<rect x="210.3" y="277.7" width="2.95" height="10.97" fill="#f2f2f2" />
<rect x="214.3" y="277.7" width="2.95" height="10.97" fill="#f2f2f2" />
<rect x="218.3" y="277.7" width="2.95" height="10.97" fill="#f2f2f2" />
<rect x="222.3" y="277.7" width="2.95" height="10.97" fill="#f2f2f2" />
<rect x="228.55" y="277.7" width="2.94" height="10.97" fill="#f2f2f2" />
<rect x="232.54" y="277.7" width="2.94" height="10.97" fill="#f2f2f2" />
<rect x="236.53" y="277.7" width="2.94" height="10.97" fill="#f2f2f2" />
<rect x="240.52" y="277.7" width="2.94" height="10.97" fill="#f2f2f2" />
<rect x="244.51" y="277.7" width="2.94" height="10.97" fill="#f2f2f2" />
<rect x="248.5" y="277.7" width="2.94" height="10.97" fill="#f2f2f2" />
<rect x="252.49" y="277.7" width="2.94" height="10.97" fill="#f2f2f2" />
<rect x="256.48" y="277.7" width="2.94" height="10.97" fill="#f2f2f2" />
<rect x="260.47" y="277.7" width="2.94" height="10.97" fill="#f2f2f2" />
<rect x="264.46" y="277.7" width="2.94" height="10.97" fill="#f2f2f2" />
<rect x="268.45" y="277.7" width="2.94" height="10.97" fill="#f2f2f2" />
<rect x="272.44" y="277.7" width="2.94" height="10.97" fill="#f2f2f2" />
<rect x="276.43" y="277.7" width="2.94" height="10.97" fill="#f2f2f2" />
<rect x="280.42" y="277.7" width="2.94" height="10.97" fill="#f2f2f2" />
<rect x="284.41" y="277.7" width="2.94" height="10.97" fill="#f2f2f2" />
<rect x="288.4" y="277.7" width="2.94" height="10.97" fill="#f2f2f2" />
<rect x="292.39" y="277.7" width="2.94" height="10.97" fill="#f2f2f2" />
<rect x="296.38" y="277.7" width="2.94" height="10.97" fill="#f2f2f2" />
<rect x="300.37" y="277.7" width="2.94" height="10.97" fill="#f2f2f2" />
<rect x="304.36" y="277.7" width="2.94" height="10.97" fill="#f2f2f2" />
<rect x="308.35" y="277.7" width="2.94" height="10.97" fill="#f2f2f2" />
<rect x="312.34" y="277.7" width="2.94" height="10.97" fill="#f2f2f2" />
<rect x="316.33" y="277.7" width="2.94" height="10.97" fill="#f2f2f2" />
<rect x="320.32" y="277.7" width="2.94" height="10.97" fill="#f2f2f2" />
<rect x="324.31" y="277.7" width="2.94" height="10.97" fill="#f2f2f2" />
<rect x="328.3" y="277.7" width="2.94" height="10.97" fill="#f2f2f2" />
<rect x="328.3" y="277.7" width="3.14" height="10.97" fill="#2b7bba" />
<rect x="332.29" y="277.7" width="2.94" height="10.97" fill="#f2f2f2" />
<rect x="336.28" y="277.7" width="2.94" height="10.97" fill="#f2f2f2" />
<rect x="340.27" y="277.7" width="2.94" height="10.97" fill="#f2f2f2" />
<rect x="344.26" y="277.7" width="2.94" height="10.97" fill="#f2f2f2" />
<rect x="348.25" y="277.7" width="2.94" height="10.97" fill="#f2f2f2" />
<line x1="64.6" y1="283.18" x2="69.6" y2="283.18" stroke="#555" stroke-width="0.9" />
<text x="63.2" y="284.98" font-size="6.8" text-anchor="end" fill="#333">IL7R (3)</text>
<rect x="70.3" y="290.22" width="2.95" height="10.97" fill="#f2f2f2" />
<rect x="74.3" y="290.22" width="2.95" height="10.97" fill="#f2f2f2" />
<rect x="78.3" y="290.22" width="2.95" height="10.97" fill="#f2f2f2" />
<rect x="82.3" y="290.22" width="2.95" height="10.97" fill="#f2f2f2" />
<rect x="86.3" y="290.22" width="2.95" height="10.97" fill="#f2f2f2" />
<rect x="90.3" y="290.22" width="2.95" height="10.97" fill="#f2f2f2" />
<rect x="90.3" y="290.22" width="3.15" height="10.97" fill="#2b7bba" />
<rect x="94.3" y="290.22" width="2.95" height="10.97" fill="#f2f2f2" />
<rect x="98.3" y="290.22" width="2.95" height="10.97" fill="#f2f2f2" />
<rect x="102.3" y="290.22" width="2.95" height="10.97" fill="#f2f2f2" />
<rect x="106.3" y="290.22" width="2.95" height="10.97" fill="#f2f2f2" />
<rect x="110.3" y="290.22" width="2.95" height="10.97" fill="#f2f2f2" />
<rect x="114.3" y="290.22" width="2.95" height="10.97" fill="#f2f2f2" />
<rect x="114.3" y="290.22" width="3.15" height="10.97" fill="#2b7bba" />
<rect x="118.3" y="290.22" width="2.95" height="10.97" fill="#f2f2f2" />
<rect x="122.3" y="290.22" width="2.95" height="10.97" fill="#f2f2f2" />
<rect x="126.3" y="290.22" width="2.95" height="10.97" fill="#f2f2f2" />
<rect x="130.3" y="290.22" width="2.95" height="10.97" fill="#f2f2f2" />
<rect x="134.3" y="290.22" width="2.95" height="10.97" fill="#f2f2f2" />
<rect x="138.3" y="290.22" width="2.95" height="10.97" fill="#f2f2f2" />
<rect x="142.3" y="290.22" width="2.95" height="10.97" fill="#f2f2f2" />
<rect x="146.3" y="290.22" width="2.95" height="10.97" fill="#f2f2f2" />
<rect x="150.3" y="290.22" width="2.95" height="10.97" fill="#f2f2f2" />
<rect x="154.3" y="290.22" width="2.95" height="10.97" fill="#f2f2f2" />
<rect x="158.3" y="290.22" width="2.95" height="10.97" fill="#f2f2f2" />
<rect x="162.3" y="290.22" width="2.95" height="10.97" fill="#f2f2f2" />
<rect x="166.3" y="290.22" width="2.95" height="10.97" fill="#f2f2f2" />
<rect x="170.3" y="290.22" width="2.95" height="10.97" fill="#f2f2f2" />
<rect x="174.3" y="290.22" width="2.95" height="10.97" fill="#f2f2f2" />
<rect x="178.3" y="290.22" width="2.95" height="10.97" fill="#f2f2f2" />
<rect x="182.3" y="290.22" width="2.95" height="10.97" fill="#f2f2f2" />
<rect x="186.3" y="290.22" width="2.95" height="10.97" fill="#f2f2f2" />
<rect x="190.3" y="290.22" width="2.95" height="10.97" fill="#f2f2f2" />
<rect x="194.3" y="290.22" width="2.95" height="10.97" fill="#f2f2f2" />
<rect x="198.3" y="290.22" width="2.95" height="10.97" fill="#f2f2f2" />
<rect x="202.3" y="290.22" width="2.95" height="10.97" fill="#f2f2f2" />
<rect x="206.3" y="290.22" width="2.95" height="10.97" fill="#f2f2f2" />
<rect x="210.3" y="290.22" width="2.95" height="10.97" fill="#f2f2f2" />
<rect x="214.3" y="290.22" width="2.95" height="10.97" fill="#f2f2f2" />
<rect x="218.3" y="290.22" width="2.95" height="10.97" fill="#f2f2f2" />
<rect x="222.3" y="290.22" width="2.95" height="10.97" fill="#f2f2f2" />
<rect x="228.55" y="290.22" width="2.94" height="10.97" fill="#f2f2f2" />
<rect x="232.54" y="290.22" width="2.94" height="10.97" fill="#f2f2f2" />
<rect x="236.53" y="290.22" width="2.94" height="10.97" fill="#f2f2f2" />
<rect x="240.52" y="290.22" width="2.94" height="10.97" fill="#f2f2f2" />
<rect x="244.51" y="290.22" width="2.94" height="10.97" fill="#f2f2f2" />
<rect x="248.5" y="290.22" width="2.94" height="10.97" fill="#f2f2f2" />
<rect x="252.49" y="290.22" width="2.94" height="10.97" fill="#f2f2f2" />
<rect x="256.48" y="290.22" width="2.94" height="10.97" fill="#f2f2f2" />
<rect x="256.48" y="290.22" width="3.14" height="10.97" fill="#2b7bba" />
<rect x="260.47" y="290.22" width="2.94" height="10.97" fill="#f2f2f2" />
<rect x="264.46" y="290.22" width="2.94" height="10.97" fill="#f2f2f2" />
<rect x="268.45" y="290.22" width="2.94" height="10.97" fill="#f2f2f2" />
<rect x="272.44" y="290.22" width="2.94" height="10.97" fill="#f2f2f2" />
<rect x="276.43" y="290.22" width="2.94" height="10.97" fill="#f2f2f2" />
<rect x="280.42" y="290.22" width="2.94" height="10.97" fill="#f2f2f2" />
<rect x="284.41" y="290.22" width="2.94" height="10.97" fill="#f2f2f2" />
<rect x="288.4" y="290.22" width="2.94" height="10.97" fill="#f2f2f2" />
<rect x="292.39" y="290.22" width="2.94" height="10.97" fill="#f2f2f2" />
<rect x="296.38" y="290.22" width="2.94" height="10.97" fill="#f2f2f2" />
<rect x="300.37" y="290.22" width="2.94" height="10.97" fill="#f2f2f2" />
<rect x="304.36" y="290.22" width="2.94" height="10.97" fill="#f2f2f2" />
<rect x="308.35" y="290.22" width="2.94" height="10.97" fill="#f2f2f2" />
<rect x="312.34" y="290.22" width="2.94" height="10.97" fill="#f2f2f2" />
<rect x="316.33" y="290.22" width="2.94" height="10.97" fill="#f2f2f2" />
<rect x="320.32" y="290.22" width="2.94" height="10.97" fill="#f2f2f2" />
<rect x="324.31" y="290.22" width="2.94" height="10.97" fill="#f2f2f2" />
<rect x="328.3" y="290.22" width="2.94" height="10.97" fill="#f2f2f2" />
<rect x="332.29" y="290.22" width="2.94" height="10.97" fill="#f2f2f2" />
<rect x="336.28" y="290.22" width="2.94" height="10.97" fill="#f2f2f2" />
<rect x="340.27" y="290.22" width="2.94" height="10.97" fill="#f2f2f2" />
<rect x="344.26" y="290.22" width="2.94" height="10.97" fill="#f2f2f2" />
<rect x="348.25" y="290.22" width="2.94" height="10.97" fill="#f2f2f2" />
<line x1="64.6" y1="295.7" x2="69.6" y2="295.7" stroke="#555" stroke-width="0.9" />
<text x="63.2" y="297.5" font-size="6.8" text-anchor="end" fill="#333">JAK1 (3)</text>
<rect x="70.3" y="302.73" width="2.95" height="10.97" fill="#f2f2f2" />
<rect x="74.3" y="302.73" width="2.95" height="10.97" fill="#f2f2f2" />
<rect x="78.3" y="302.73" width="2.95" height="10.97" fill="#f2f2f2" />
<rect x="82.3" y="302.73" width="2.95" height="10.97" fill="#f2f2f2" />
<rect x="86.3" y="302.73" width="2.95" height="10.97" fill="#f2f2f2" />
<rect x="90.3" y="302.73" width="2.95" height="10.97" fill="#f2f2f2" />
<rect x="90.3" y="302.73" width="3.15" height="10.97" fill="#2b7bba" />
<rect x="94.3" y="302.73" width="2.95" height="10.97" fill="#f2f2f2" />
<rect x="98.3" y="302.73" width="2.95" height="10.97" fill="#f2f2f2" />
<rect x="102.3" y="302.73" width="2.95" height="10.97" fill="#f2f2f2" />
<rect x="102.3" y="302.73" width="3.15" height="10.97" fill="#2b7bba" />
<rect x="106.3" y="302.73" width="2.95" height="10.97" fill="#f2f2f2" />
<rect x="110.3" y="302.73" width="2.95" height="10.97" fill="#f2f2f2" />
<rect x="114.3" y="302.73" width="2.95" height="10.97" fill="#f2f2f2" />
<rect x="118.3" y="302.73" width="2.95" height="10.97" fill="#f2f2f2" />
<rect x="118.3" y="302.73" width="3.15" height="10.97" fill="#2b7bba" />
<rect x="122.3" y="302.73" width="2.95" height="10.97" fill="#f2f2f2" />
<rect x="126.3" y="302.73" width="2.95" height="10.97" fill="#f2f2f2" />
<rect x="130.3" y="302.73" width="2.95" height="10.97" fill="#f2f2f2" />
<rect x="134.3" y="302.73" width="2.95" height="10.97" fill="#f2f2f2" />
<rect x="138.3" y="302.73" width="2.95" height="10.97" fill="#f2f2f2" />
<rect x="142.3" y="302.73" width="2.95" height="10.97" fill="#f2f2f2" />
<rect x="146.3" y="302.73" width="2.95" height="10.97" fill="#f2f2f2" />
<rect x="150.3" y="302.73" width="2.95" height="10.97" fill="#f2f2f2" />
<rect x="154.3" y="302.73" width="2.95" height="10.97" fill="#f2f2f2" />
<rect x="158.3" y="302.73" width="2.95" height="10.97" fill="#f2f2f2" />
<rect x="162.3" y="302.73" width="2.95" height="10.97" fill="#f2f2f2" />
<rect x="162.3" y="302.73" width="3.15" height="10.97" fill="#2b7bba" />
<rect x="166.3" y="302.73" width="2.95" height="10.97" fill="#f2f2f2" />
<rect x="170.3" y="302.73" width="2.95" height="10.97" fill="#f2f2f2" />
<rect x="174.3" y="302.73" width="2.95" height="10.97" fill="#f2f2f2" />
<rect x="178.3" y="302.73" width="2.95" height="10.97" fill="#f2f2f2" />
<rect x="182.3" y="302.73" width="2.95" height="10.97" fill="#f2f2f2" />
<rect x="186.3" y="302.73" width="2.95" height="10.97" fill="#f2f2f2" />
<rect x="190.3" y="302.73" width="2.95" height="10.97" fill="#f2f2f2" />
<rect x="194.3" y="302.73" width="2.95" height="10.97" fill="#f2f2f2" />
<rect x="198.3" y="302.73" width="2.95" height="10.97" fill="#f2f2f2" />
<rect x="202.3" y="302.73" width="2.95" height="10.97" fill="#f2f2f2" />
<rect x="206.3" y="302.73" width="2.95" height="10.97" fill="#f2f2f2" />
<rect x="210.3" y="302.73" width="2.95" height="10.97" fill="#f2f2f2" />
<rect x="210.3" y="302.73" width="3.15" height="10.97" fill="#2b7bba" />
<rect x="214.3" y="302.73" width="2.95" height="10.97" fill="#f2f2f2" />
<rect x="218.3" y="302.73" width="2.95" height="10.97" fill="#f2f2f2" />
<rect x="222.3" y="302.73" width="2.95" height="10.97" fill="#f2f2f2" />
<rect x="228.55" y="302.73" width="2.94" height="10.97" fill="#f2f2f2" />
<rect x="232.54" y="302.73" width="2.94" height="10.97" fill="#f2f2f2" />
<rect x="236.53" y="302.73" width="2.94" height="10.97" fill="#f2f2f2" />
<rect x="240.52" y="302.73" width="2.94" height="10.97" fill="#f2f2f2" />
<rect x="244.51" y="302.73" width="2.94" height="10.97" fill="#f2f2f2" />
<rect x="248.5" y="302.73" width="2.94" height="10.97" fill="#f2f2f2" />
<rect x="252.49" y="302.73" width="2.94" height="10.97" fill="#f2f2f2" />
<rect x="256.48" y="302.73" width="2.94" height="10.97" fill="#f2f2f2" />
<rect x="260.47" y="302.73" width="2.94" height="10.97" fill="#f2f2f2" />
<rect x="264.46" y="302.73" width="2.94" height="10.97" fill="#f2f2f2" />
<rect x="268.45" y="302.73" width="2.94" height="10.97" fill="#f2f2f2" />
<rect x="272.44" y="302.73" width="2.94" height="10.97" fill="#f2f2f2" />
<rect x="276.43" y="302.73" width="2.94" height="10.97" fill="#f2f2f2" />
<rect x="280.42" y="302.73" width="2.94" height="10.97" fill="#f2f2f2" />
<rect x="284.41" y="302.73" width="2.94" height="10.97" fill="#f2f2f2" />
<rect x="288.4" y="302.73" width="2.94" height="10.97" fill="#f2f2f2" />
<rect x="288.4" y="302.73" width="3.14" height="10.97" fill="#2b7bba" />
<rect x="292.39" y="302.73" width="2.94" height="10.97" fill="#f2f2f2" />
<rect x="296.38" y="302.73" width="2.94" height="10.97" fill="#f2f2f2" />
<rect x="300.37" y="302.73" width="2.94" height="10.97" fill="#f2f2f2" />
<rect x="304.36" y="302.73" width="2.94" height="10.97" fill="#f2f2f2" />
<rect x="308.35" y="302.73" width="2.94" height="10.97" fill="#f2f2f2" />
<rect x="312.34" y="302.73" width="2.94" height="10.97" fill="#f2f2f2" />
<rect x="316.33" y="302.73" width="2.94" height="10.97" fill="#f2f2f2" />
<rect x="320.32" y="302.73" width="2.94" height="10.97" fill="#f2f2f2" />
<rect x="324.31" y="302.73" width="2.94" height="10.97" fill="#f2f2f2" />
<rect x="328.3" y="302.73" width="2.94" height="10.97" fill="#f2f2f2" />
<rect x="332.29" y="302.73" width="2.94" height="10.97" fill="#f2f2f2" />
<rect x="336.28" y="302.73" width="2.94" height="10.97" fill="#f2f2f2" />
<rect x="340.27" y="302.73" width="2.94" height="10.97" fill="#f2f2f2" />
<rect x="344.26" y="302.73" width="2.94" height="10.97" fill="#f2f2f2" />
<rect x="348.25" y="302.73" width="2.94" height="10.97" fill="#f2f2f2" />
<line x1="64.6" y1="308.22" x2="69.6" y2="308.22" stroke="#555" stroke-width="0.9" />
<text x="63.2" y="310.02" font-size="6.8" text-anchor="end" fill="#333">JAK2 (6)</text>
<rect x="70.4" y="277.2" width="155.9" height="37.1" rx="0.5" fill="none" stroke="#2e2e2e" stroke-width="1.1"/>
<rect x="228.5" y="277.2" width="123.8" height="37.1" rx="0.5" fill="none" stroke="#2e2e2e" stroke-width="1.1"/>
<text x="0" y="0" font-size="7.4" text-anchor="middle" fill="#333" textLength="10.7" lengthAdjust="spacingAndGlyphs" transform="translate(357.3 296.1) rotate(90)">Jak</text>
<rect x="70.3" y="317.9" width="2.95" height="10.93" fill="#f2f2f2" />
<rect x="74.3" y="317.9" width="2.95" height="10.93" fill="#f2f2f2" />
<rect x="78.3" y="317.9" width="2.95" height="10.93" fill="#f2f2f2" />
<rect x="82.3" y="317.9" width="2.95" height="10.93" fill="#f2f2f2" />
<rect x="86.3" y="317.9" width="2.95" height="10.93" fill="#f2f2f2" />
<rect x="90.3" y="317.9" width="2.95" height="10.93" fill="#f2f2f2" />
<rect x="94.3" y="317.9" width="2.95" height="10.93" fill="#f2f2f2" />
<rect x="98.3" y="317.9" width="2.95" height="10.93" fill="#f2f2f2" />
<rect x="102.3" y="317.9" width="2.95" height="10.93" fill="#f2f2f2" />
<rect x="106.3" y="317.9" width="2.95" height="10.93" fill="#f2f2f2" />
<rect x="106.3" y="317.9" width="3.15" height="10.93" fill="#2b7bba" />
<rect x="110.3" y="317.9" width="2.95" height="10.93" fill="#f2f2f2" />
<rect x="114.3" y="317.9" width="2.95" height="10.93" fill="#f2f2f2" />
<rect x="118.3" y="317.9" width="2.95" height="10.93" fill="#f2f2f2" />
<rect x="122.3" y="317.9" width="2.95" height="10.93" fill="#f2f2f2" />
<rect x="126.3" y="317.9" width="2.95" height="10.93" fill="#f2f2f2" />
<rect x="130.3" y="317.9" width="2.95" height="10.93" fill="#f2f2f2" />
<rect x="134.3" y="317.9" width="2.95" height="10.93" fill="#f2f2f2" />
<rect x="138.3" y="317.9" width="2.95" height="10.93" fill="#f2f2f2" />
<rect x="142.3" y="317.9" width="2.95" height="10.93" fill="#f2f2f2" />
<rect x="146.3" y="317.9" width="2.95" height="10.93" fill="#f2f2f2" />
<rect x="150.3" y="317.9" width="2.95" height="10.93" fill="#f2f2f2" />
<rect x="154.3" y="317.9" width="2.95" height="10.93" fill="#f2f2f2" />
<rect x="158.3" y="317.9" width="2.95" height="10.93" fill="#f2f2f2" />
<rect x="162.3" y="317.9" width="2.95" height="10.93" fill="#f2f2f2" />
<rect x="166.3" y="317.9" width="2.95" height="10.93" fill="#f2f2f2" />
<rect x="170.3" y="317.9" width="2.95" height="10.93" fill="#f2f2f2" />
<rect x="174.3" y="317.9" width="2.95" height="10.93" fill="#f2f2f2" />
<rect x="178.3" y="317.9" width="2.95" height="10.93" fill="#f2f2f2" />
<rect x="182.3" y="317.9" width="2.95" height="10.93" fill="#f2f2f2" />
<rect x="186.3" y="317.9" width="2.95" height="10.93" fill="#f2f2f2" />
<rect x="190.3" y="317.9" width="2.95" height="10.93" fill="#f2f2f2" />
<rect x="194.3" y="317.9" width="2.95" height="10.93" fill="#f2f2f2" />
<rect x="198.3" y="317.9" width="2.95" height="10.93" fill="#f2f2f2" />
<rect x="202.3" y="317.9" width="2.95" height="10.93" fill="#f2f2f2" />
<rect x="206.3" y="317.9" width="2.95" height="10.93" fill="#f2f2f2" />
<rect x="210.3" y="317.9" width="2.95" height="10.93" fill="#f2f2f2" />
<rect x="210.3" y="317.9" width="3.15" height="10.93" fill="#2b7bba" />
<rect x="214.3" y="317.9" width="2.95" height="10.93" fill="#f2f2f2" />
<rect x="218.3" y="317.9" width="2.95" height="10.93" fill="#f2f2f2" />
<rect x="222.3" y="317.9" width="2.95" height="10.93" fill="#f2f2f2" />
<rect x="228.55" y="317.9" width="2.94" height="10.93" fill="#f2f2f2" />
<rect x="232.54" y="317.9" width="2.94" height="10.93" fill="#f2f2f2" />
<rect x="236.53" y="317.9" width="2.94" height="10.93" fill="#f2f2f2" />
<rect x="240.52" y="317.9" width="2.94" height="10.93" fill="#f2f2f2" />
<rect x="244.51" y="317.9" width="2.94" height="10.93" fill="#f2f2f2" />
<rect x="248.5" y="317.9" width="2.94" height="10.93" fill="#f2f2f2" />
<rect x="252.49" y="317.9" width="2.94" height="10.93" fill="#f2f2f2" />
<rect x="256.48" y="317.9" width="2.94" height="10.93" fill="#f2f2f2" />
<rect x="260.47" y="317.9" width="2.94" height="10.93" fill="#f2f2f2" />
<rect x="264.46" y="317.9" width="2.94" height="10.93" fill="#f2f2f2" />
<rect x="268.45" y="317.9" width="2.94" height="10.93" fill="#f2f2f2" />
<rect x="268.45" y="317.9" width="3.14" height="10.93" fill="#2b7bba" />
<rect x="272.44" y="317.9" width="2.94" height="10.93" fill="#f2f2f2" />
<rect x="272.44" y="317.9" width="3.14" height="10.93" fill="#2b7bba" />
<rect x="276.43" y="317.9" width="2.94" height="10.93" fill="#f2f2f2" />
<rect x="280.42" y="317.9" width="2.94" height="10.93" fill="#f2f2f2" />
<rect x="284.41" y="317.9" width="2.94" height="10.93" fill="#f2f2f2" />
<rect x="288.4" y="317.9" width="2.94" height="10.93" fill="#f2f2f2" />
<rect x="288.4" y="317.9" width="3.14" height="10.93" fill="#2b7bba" />
<rect x="292.39" y="317.9" width="2.94" height="10.93" fill="#f2f2f2" />
<rect x="296.38" y="317.9" width="2.94" height="10.93" fill="#f2f2f2" />
<rect x="296.38" y="317.9" width="3.14" height="10.93" fill="#2b7bba" />
<rect x="300.37" y="317.9" width="2.94" height="10.93" fill="#f2f2f2" />
<rect x="304.36" y="317.9" width="2.94" height="10.93" fill="#f2f2f2" />
<rect x="308.35" y="317.9" width="2.94" height="10.93" fill="#f2f2f2" />
<rect x="312.34" y="317.9" width="2.94" height="10.93" fill="#f2f2f2" />
<rect x="316.33" y="317.9" width="2.94" height="10.93" fill="#f2f2f2" />
<rect x="320.32" y="317.9" width="2.94" height="10.93" fill="#f2f2f2" />
<rect x="324.31" y="317.9" width="2.94" height="10.93" fill="#f2f2f2" />
<rect x="328.3" y="317.9" width="2.94" height="10.93" fill="#f2f2f2" />
<rect x="332.29" y="317.9" width="2.94" height="10.93" fill="#f2f2f2" />
<rect x="336.28" y="317.9" width="2.94" height="10.93" fill="#f2f2f2" />
<rect x="340.27" y="317.9" width="2.94" height="10.93" fill="#f2f2f2" />
<rect x="344.26" y="317.9" width="2.94" height="10.93" fill="#f2f2f2" />
<rect x="344.26" y="317.9" width="3.14" height="10.93" fill="#2b7bba" />
<rect x="348.25" y="317.9" width="2.94" height="10.93" fill="#f2f2f2" />
<line x1="64.6" y1="323.37" x2="69.6" y2="323.37" stroke="#555" stroke-width="0.9" />
<text x="63.2" y="325.17" font-size="6.8" text-anchor="end" fill="#333">KRAS (7)</text>
<rect x="70.3" y="330.38" width="2.95" height="10.93" fill="#f2f2f2" />
<rect x="74.3" y="330.38" width="2.95" height="10.93" fill="#f2f2f2" />
<rect x="78.3" y="330.38" width="2.95" height="10.93" fill="#f2f2f2" />
<rect x="82.3" y="330.38" width="2.95" height="10.93" fill="#f2f2f2" />
<rect x="86.3" y="330.38" width="2.95" height="10.93" fill="#f2f2f2" />
<rect x="86.3" y="330.38" width="3.15" height="10.93" fill="#2b7bba" />
<rect x="90.3" y="330.38" width="2.95" height="10.93" fill="#f2f2f2" />
<rect x="94.3" y="330.38" width="2.95" height="10.93" fill="#f2f2f2" />
<rect x="98.3" y="330.38" width="2.95" height="10.93" fill="#f2f2f2" />
<rect x="102.3" y="330.38" width="2.95" height="10.93" fill="#f2f2f2" />
<rect x="106.3" y="330.38" width="2.95" height="10.93" fill="#f2f2f2" />
<rect x="110.3" y="330.38" width="2.95" height="10.93" fill="#f2f2f2" />
<rect x="114.3" y="330.38" width="2.95" height="10.93" fill="#f2f2f2" />
<rect x="118.3" y="330.38" width="2.95" height="10.93" fill="#f2f2f2" />
<rect x="122.3" y="330.38" width="2.95" height="10.93" fill="#f2f2f2" />
<rect x="126.3" y="330.38" width="2.95" height="10.93" fill="#f2f2f2" />
<rect x="130.3" y="330.38" width="2.95" height="10.93" fill="#f2f2f2" />
<rect x="134.3" y="330.38" width="2.95" height="10.93" fill="#f2f2f2" />
<rect x="138.3" y="330.38" width="2.95" height="10.93" fill="#f2f2f2" />
<rect x="142.3" y="330.38" width="2.95" height="10.93" fill="#f2f2f2" />
<rect x="146.3" y="330.38" width="2.95" height="10.93" fill="#f2f2f2" />
<rect x="150.3" y="330.38" width="2.95" height="10.93" fill="#f2f2f2" />
<rect x="154.3" y="330.38" width="2.95" height="10.93" fill="#f2f2f2" />
<rect x="158.3" y="330.38" width="2.95" height="10.93" fill="#f2f2f2" />
<rect x="162.3" y="330.38" width="2.95" height="10.93" fill="#f2f2f2" />
<rect x="166.3" y="330.38" width="2.95" height="10.93" fill="#f2f2f2" />
<rect x="170.3" y="330.38" width="2.95" height="10.93" fill="#f2f2f2" />
<rect x="174.3" y="330.38" width="2.95" height="10.93" fill="#f2f2f2" />
<rect x="178.3" y="330.38" width="2.95" height="10.93" fill="#f2f2f2" />
<rect x="182.3" y="330.38" width="2.95" height="10.93" fill="#f2f2f2" />
<rect x="186.3" y="330.38" width="2.95" height="10.93" fill="#f2f2f2" />
<rect x="190.3" y="330.38" width="2.95" height="10.93" fill="#f2f2f2" />
<rect x="194.3" y="330.38" width="2.95" height="10.93" fill="#f2f2f2" />
<rect x="198.3" y="330.38" width="2.95" height="10.93" fill="#f2f2f2" />
<rect x="202.3" y="330.38" width="2.95" height="10.93" fill="#f2f2f2" />
<rect x="206.3" y="330.38" width="2.95" height="10.93" fill="#f2f2f2" />
<rect x="210.3" y="330.38" width="2.95" height="10.93" fill="#f2f2f2" />
<rect x="214.3" y="330.38" width="2.95" height="10.93" fill="#f2f2f2" />
<rect x="218.3" y="330.38" width="2.95" height="10.93" fill="#f2f2f2" />
<rect x="218.3" y="330.38" width="3.15" height="10.93" fill="#2b7bba" />
<rect x="222.3" y="330.38" width="2.95" height="10.93" fill="#f2f2f2" />
<rect x="228.55" y="330.38" width="2.94" height="10.93" fill="#f2f2f2" />
<rect x="228.55" y="330.38" width="3.14" height="10.93" fill="#2b7bba" />
<rect x="232.54" y="330.38" width="2.94" height="10.93" fill="#f2f2f2" />
<rect x="236.53" y="330.38" width="2.94" height="10.93" fill="#f2f2f2" />
<rect x="240.52" y="330.38" width="2.94" height="10.93" fill="#f2f2f2" />
<rect x="244.51" y="330.38" width="2.94" height="10.93" fill="#f2f2f2" />
<rect x="248.5" y="330.38" width="2.94" height="10.93" fill="#f2f2f2" />
<rect x="252.49" y="330.38" width="2.94" height="10.93" fill="#f2f2f2" />
<rect x="256.48" y="330.38" width="2.94" height="10.93" fill="#f2f2f2" />
<rect x="260.47" y="330.38" width="2.94" height="10.93" fill="#f2f2f2" />
<rect x="264.46" y="330.38" width="2.94" height="10.93" fill="#f2f2f2" />
<rect x="268.45" y="330.38" width="2.94" height="10.93" fill="#f2f2f2" />
<rect x="272.44" y="330.38" width="2.94" height="10.93" fill="#f2f2f2" />
<rect x="276.43" y="330.38" width="2.94" height="10.93" fill="#f2f2f2" />
<rect x="280.42" y="330.38" width="2.94" height="10.93" fill="#f2f2f2" />
<rect x="284.41" y="330.38" width="2.94" height="10.93" fill="#f2f2f2" />
<rect x="288.4" y="330.38" width="2.94" height="10.93" fill="#f2f2f2" />
<rect x="292.39" y="330.38" width="2.94" height="10.93" fill="#f2f2f2" />
<rect x="296.38" y="330.38" width="2.94" height="10.93" fill="#f2f2f2" />
<rect x="300.37" y="330.38" width="2.94" height="10.93" fill="#f2f2f2" />
<rect x="304.36" y="330.38" width="2.94" height="10.93" fill="#f2f2f2" />
<rect x="308.35" y="330.38" width="2.94" height="10.93" fill="#f2f2f2" />
<rect x="312.34" y="330.38" width="2.94" height="10.93" fill="#f2f2f2" />
<rect x="316.33" y="330.38" width="2.94" height="10.93" fill="#f2f2f2" />
<rect x="320.32" y="330.38" width="2.94" height="10.93" fill="#f2f2f2" />
<rect x="324.31" y="330.38" width="2.94" height="10.93" fill="#f2f2f2" />
<rect x="328.3" y="330.38" width="2.94" height="10.93" fill="#f2f2f2" />
<rect x="332.29" y="330.38" width="2.94" height="10.93" fill="#f2f2f2" />
<rect x="336.28" y="330.38" width="2.94" height="10.93" fill="#f2f2f2" />
<rect x="340.27" y="330.38" width="2.94" height="10.93" fill="#f2f2f2" />
<rect x="344.26" y="330.38" width="2.94" height="10.93" fill="#f2f2f2" />
<rect x="348.25" y="330.38" width="2.94" height="10.93" fill="#f2f2f2" />
<line x1="64.6" y1="335.85" x2="69.6" y2="335.85" stroke="#555" stroke-width="0.9" />
<text x="63.2" y="337.65" font-size="6.8" text-anchor="end" fill="#333">LZTR1 (3)</text>
<rect x="70.3" y="342.87" width="2.95" height="10.93" fill="#f2f2f2" />
<rect x="74.3" y="342.87" width="2.95" height="10.93" fill="#f2f2f2" />
<rect x="78.3" y="342.87" width="2.95" height="10.93" fill="#f2f2f2" />
<rect x="82.3" y="342.87" width="2.95" height="10.93" fill="#f2f2f2" />
<rect x="86.3" y="342.87" width="2.95" height="10.93" fill="#f2f2f2" />
<rect x="90.3" y="342.87" width="2.95" height="10.93" fill="#f2f2f2" />
<rect x="94.3" y="342.87" width="2.95" height="10.93" fill="#f2f2f2" />
<rect x="94.3" y="342.87" width="3.15" height="10.93" fill="#2b7bba" />
<rect x="98.3" y="342.87" width="2.95" height="10.93" fill="#f2f2f2" />
<rect x="102.3" y="342.87" width="2.95" height="10.93" fill="#f2f2f2" />
<rect x="106.3" y="342.87" width="2.95" height="10.93" fill="#f2f2f2" />
<rect x="110.3" y="342.87" width="2.95" height="10.93" fill="#f2f2f2" />
<rect x="114.3" y="342.87" width="2.95" height="10.93" fill="#f2f2f2" />
<rect x="118.3" y="342.87" width="2.95" height="10.93" fill="#f2f2f2" />
<rect x="122.3" y="342.87" width="2.95" height="10.93" fill="#f2f2f2" />
<rect x="126.3" y="342.87" width="2.95" height="10.93" fill="#f2f2f2" />
<rect x="130.3" y="342.87" width="2.95" height="10.93" fill="#f2f2f2" />
<rect x="134.3" y="342.87" width="2.95" height="10.93" fill="#f2f2f2" />
<rect x="138.3" y="342.87" width="2.95" height="10.93" fill="#f2f2f2" />
<rect x="142.3" y="342.87" width="2.95" height="10.93" fill="#f2f2f2" />
<rect x="146.3" y="342.87" width="2.95" height="10.93" fill="#f2f2f2" />
<rect x="150.3" y="342.87" width="2.95" height="10.93" fill="#f2f2f2" />
<rect x="154.3" y="342.87" width="2.95" height="10.93" fill="#f2f2f2" />
<rect x="158.3" y="342.87" width="2.95" height="10.93" fill="#f2f2f2" />
<rect x="162.3" y="342.87" width="2.95" height="10.93" fill="#f2f2f2" />
<rect x="166.3" y="342.87" width="2.95" height="10.93" fill="#f2f2f2" />
<rect x="170.3" y="342.87" width="2.95" height="10.93" fill="#f2f2f2" />
<rect x="174.3" y="342.87" width="2.95" height="10.93" fill="#f2f2f2" />
<rect x="178.3" y="342.87" width="2.95" height="10.93" fill="#f2f2f2" />
<rect x="182.3" y="342.87" width="2.95" height="10.93" fill="#f2f2f2" />
<rect x="186.3" y="342.87" width="2.95" height="10.93" fill="#f2f2f2" />
<rect x="190.3" y="342.87" width="2.95" height="10.93" fill="#f2f2f2" />
<rect x="194.3" y="342.87" width="2.95" height="10.93" fill="#f2f2f2" />
<rect x="198.3" y="342.87" width="2.95" height="10.93" fill="#f2f2f2" />
<rect x="202.3" y="342.87" width="2.95" height="10.93" fill="#f2f2f2" />
<rect x="206.3" y="342.87" width="2.95" height="10.93" fill="#f2f2f2" />
<rect x="210.3" y="342.87" width="2.95" height="10.93" fill="#f2f2f2" />
<rect x="214.3" y="342.87" width="2.95" height="10.93" fill="#f2f2f2" />
<rect x="218.3" y="342.87" width="2.95" height="10.93" fill="#f2f2f2" />
<rect x="222.3" y="342.87" width="2.95" height="10.93" fill="#f2f2f2" />
<rect x="228.55" y="342.87" width="2.94" height="10.93" fill="#f2f2f2" />
<rect x="232.54" y="342.87" width="2.94" height="10.93" fill="#f2f2f2" />
<rect x="236.53" y="342.87" width="2.94" height="10.93" fill="#f2f2f2" />
<rect x="240.52" y="342.87" width="2.94" height="10.93" fill="#f2f2f2" />
<rect x="244.51" y="342.87" width="2.94" height="10.93" fill="#f2f2f2" />
<rect x="248.5" y="342.87" width="2.94" height="10.93" fill="#f2f2f2" />
<rect x="252.49" y="342.87" width="2.94" height="10.93" fill="#f2f2f2" />
<rect x="256.48" y="342.87" width="2.94" height="10.93" fill="#f2f2f2" />
<rect x="256.48" y="342.87" width="3.14" height="10.93" fill="#2b7bba" />
<rect x="260.47" y="342.87" width="2.94" height="10.93" fill="#f2f2f2" />
<rect x="264.46" y="342.87" width="2.94" height="10.93" fill="#f2f2f2" />
<rect x="264.46" y="342.87" width="3.14" height="10.93" fill="#2b7bba" />
<rect x="268.45" y="342.87" width="2.94" height="10.93" fill="#f2f2f2" />
<rect x="272.44" y="342.87" width="2.94" height="10.93" fill="#f2f2f2" />
<rect x="276.43" y="342.87" width="2.94" height="10.93" fill="#f2f2f2" />
<rect x="276.43" y="342.87" width="3.14" height="10.93" fill="#2b7bba" />
<rect x="280.42" y="342.87" width="2.94" height="10.93" fill="#f2f2f2" />
<rect x="284.41" y="342.87" width="2.94" height="10.93" fill="#f2f2f2" />
<rect x="288.4" y="342.87" width="2.94" height="10.93" fill="#f2f2f2" />
<rect x="292.39" y="342.87" width="2.94" height="10.93" fill="#f2f2f2" />
<rect x="296.38" y="342.87" width="2.94" height="10.93" fill="#f2f2f2" />
<rect x="296.38" y="342.87" width="3.14" height="10.93" fill="#2b7bba" />
<rect x="300.37" y="342.87" width="2.94" height="10.93" fill="#f2f2f2" />
<rect x="300.37" y="342.87" width="3.14" height="10.93" fill="#2b7bba" />
<rect x="304.36" y="342.87" width="2.94" height="10.93" fill="#f2f2f2" />
<rect x="304.36" y="342.87" width="3.14" height="10.93" fill="#2b7bba" />
<rect x="308.35" y="342.87" width="2.94" height="10.93" fill="#f2f2f2" />
<rect x="312.34" y="342.87" width="2.94" height="10.93" fill="#f2f2f2" />
<rect x="316.33" y="342.87" width="2.94" height="10.93" fill="#f2f2f2" />
<rect x="320.32" y="342.87" width="2.94" height="10.93" fill="#f2f2f2" />
<rect x="324.31" y="342.87" width="2.94" height="10.93" fill="#f2f2f2" />
<rect x="328.3" y="342.87" width="2.94" height="10.93" fill="#f2f2f2" />
<rect x="332.29" y="342.87" width="2.94" height="10.93" fill="#f2f2f2" />
<rect x="336.28" y="342.87" width="2.94" height="10.93" fill="#f2f2f2" />
<rect x="340.27" y="342.87" width="2.94" height="10.93" fill="#f2f2f2" />
<rect x="344.26" y="342.87" width="2.94" height="10.93" fill="#f2f2f2" />
<rect x="348.25" y="342.87" width="2.94" height="10.93" fill="#f2f2f2" />
<line x1="64.6" y1="348.33" x2="69.6" y2="348.33" stroke="#555" stroke-width="0.9" />
<text x="63.2" y="350.13" font-size="6.8" text-anchor="end" fill="#333">NRAS (7)</text>
<rect x="70.4" y="317.4" width="155.9" height="37" rx="0.5" fill="none" stroke="#2e2e2e" stroke-width="1.1"/>
<rect x="228.5" y="317.4" width="123.8" height="37" rx="0.5" fill="none" stroke="#2e2e2e" stroke-width="1.1"/>
<text x="0" y="0" font-size="7.4" text-anchor="middle" fill="#333" textLength="11.7" lengthAdjust="spacingAndGlyphs" transform="translate(357.3 336.8) rotate(90)">Ras</text>
<text x="62.2" y="371" font-size="7.2" text-anchor="end" font-weight="bold" fill="#1a1a1a">Mutation</text>
<text x="62.2" y="382.4" font-size="7.2" text-anchor="end" font-weight="bold" fill="#1a1a1a">Age</text>
<text x="62.2" y="393.9" font-size="7.2" text-anchor="end" font-weight="bold" fill="#1a1a1a">Sex</text>
<text x="62.2" y="405.5" font-size="7.2" text-anchor="end" font-weight="bold" fill="#1a1a1a">Subtype</text>
<text x="201.5" y="382.4" font-size="7.2" text-anchor="end" font-weight="bold" fill="#1a1a1a">Race</text>
<text x="141.1" y="393.9" font-size="7.2" text-anchor="end" font-weight="bold" fill="#1a1a1a">NGS</text>
<rect x="64.3" y="365.4" width="5.8" height="5.4" fill="#2b7bba" />
<text x="73.5" y="371" font-size="7" fill="#404040">Missense</text>
<rect x="115.2" y="365.4" width="5.8" height="5.4" fill="#d7191c" />
<text x="124.4" y="371" font-size="7" fill="#404040">Frameshift</text>
<rect x="168.6" y="365.4" width="5.8" height="5.4" fill="#ec8325" />
<text x="177.8" y="371" font-size="7" fill="#404040">Nonsense</text>
<rect x="220.8" y="365.4" width="5.8" height="5.4" fill="#8b4a36" />
<text x="230" y="371" font-size="7" fill="#404040">Protein Ins</text>
<rect x="274.6" y="365.4" width="5.8" height="5.4" fill="#a8cf55" />
<text x="283.8" y="371" font-size="7" fill="#404040">Copy number loss</text>
<rect x="64.3" y="376.8" width="5.8" height="5.4" fill="#fee6ce" />
<text x="73.5" y="382.4" font-size="7" fill="#404040">[18,30]</text>
<rect x="99.6" y="376.8" width="5.8" height="5.4" fill="#f0b46a" />
<text x="108.8" y="382.4" font-size="7" fill="#404040">[30,50]</text>
<rect x="133.5" y="376.8" width="5.8" height="5.4" fill="#dd4618" />
<text x="142.7" y="382.4" font-size="7" fill="#404040">[50,80]</text>
<rect x="205.4" y="376.8" width="5.8" height="5.4" fill="#e4582c" />
<text x="214.6" y="382.4" font-size="7" fill="#404040">Hispanic</text>
<rect x="243.8" y="376.8" width="5.8" height="5.4" fill="#949a97" />
<text x="253" y="382.4" font-size="7" fill="#404040">Other</text>
<rect x="274.6" y="376.8" width="5.8" height="5.4" fill="#b8d8ee" />
<text x="283.8" y="382.4" font-size="7" fill="#404040">White</text>
<rect x="310.8" y="376.8" width="5.8" height="5.4" fill="#111111" />
<text x="320" y="382.4" font-size="7" fill="#404040">Unknown</text>
<rect x="64.3" y="388.3" width="5.8" height="5.4" fill="#e41a1c" />
<text x="73.5" y="393.9" font-size="7" fill="#404040">F</text>
<rect x="84" y="388.3" width="5.8" height="5.4" fill="#6baed6" />
<text x="93.2" y="393.9" font-size="7" fill="#404040">M</text>
<rect x="144.6" y="388.3" width="5.8" height="5.4" fill="#22a048" />
<text x="153.8" y="393.9" font-size="7" fill="#404040">WES</text>
<rect x="177.4" y="388.3" width="5.8" height="5.4" fill="#68c8a2" />
<text x="186.6" y="393.9" font-size="7" fill="#404040">WGS</text>
<rect x="212" y="388.3" width="5.8" height="5.4" fill="#00572a" />
<text x="221.2" y="393.9" font-size="7" fill="#404040">WGS and WES</text>
<rect x="275.4" y="388.3" width="5.8" height="5.4" fill="#f5c98a" />
<text x="284.6" y="393.9" font-size="7" fill="#404040">lowinput RNAseq</text>
<rect x="64.3" y="399.9" width="5.8" height="5.4" fill="#e41a1c" />
<text x="73.5" y="405.5" font-size="7" fill="#404040"><tspan font-style="italic">BCR::ABL1</tspan></text>
<rect x="114.1" y="399.9" width="5.8" height="5.4" fill="#2171b5" />
<text x="123.3" y="405.5" font-size="7" fill="#404040"><tspan font-style="italic">BCR::ABL1</tspan>-like</text>
<rect x="177.4" y="399.9" width="5.8" height="5.4" fill="#fdbe85" />
<text x="186.6" y="405.5" font-size="7" fill="#404040">KMT2A-R</text>
<rect x="224.6" y="399.9" width="5.8" height="5.4" fill="#fff2c2" />
<text x="233.8" y="405.5" font-size="7" fill="#404040">low hypodiploid</text>
<rect x="290.8" y="399.9" width="5.8" height="5.4" fill="#8470c0" />
<text x="300" y="405.5" font-size="7" fill="#404040">other subtypes</text>
<rect x="64.3" y="411.3" width="5.8" height="5.4" fill="#c8c8c8" />
<text x="73.5" y="416.9" font-size="7" fill="#404040">undetermined</text>
<text x="7.8" y="432.9" font-size="12.4" font-weight="bold" fill="#000">B</text>
<text x="109.9" y="433.3" font-size="8.9" text-anchor="middle" fill="#2a2a2a" textLength="45.5" lengthAdjust="spacingAndGlyphs">all patients</text>
<line x1="48.9" y1="436.6" x2="48.9" y2="553.9" stroke="#222" stroke-width="1" />
<line x1="48.5" y1="553.5" x2="172.6" y2="553.5" stroke="#222" stroke-width="1" />
<line x1="45.9" y1="439.1" x2="48.9" y2="439.1" stroke="#222" stroke-width="0.9" />
<text x="42.8" y="441.6" font-size="7.1" text-anchor="end" fill="#333">1.0</text>
<line x1="45.9" y1="461.98" x2="48.9" y2="461.98" stroke="#222" stroke-width="0.9" />
<text x="42.8" y="464.48" font-size="7.1" text-anchor="end" fill="#333">0.8</text>
<line x1="45.9" y1="484.86" x2="48.9" y2="484.86" stroke="#222" stroke-width="0.9" />
<text x="42.8" y="487.36" font-size="7.1" text-anchor="end" fill="#333">0.6</text>
<line x1="45.9" y1="507.74" x2="48.9" y2="507.74" stroke="#222" stroke-width="0.9" />
<text x="42.8" y="510.24" font-size="7.1" text-anchor="end" fill="#333">0.4</text>
<line x1="45.9" y1="530.62" x2="48.9" y2="530.62" stroke="#222" stroke-width="0.9" />
<text x="42.8" y="533.12" font-size="7.1" text-anchor="end" fill="#333">0.2</text>
<line x1="45.9" y1="553.5" x2="48.9" y2="553.5" stroke="#222" stroke-width="0.9" />
<text x="42.8" y="556" font-size="7.1" text-anchor="end" fill="#333">0.0</text>
<line x1="49.1" y1="553.5" x2="49.1" y2="555.8" stroke="#222" stroke-width="0.9" />
<text x="0" y="0" font-size="7.4" text-anchor="end" fill="#333" transform="translate(52.2 563.2) rotate(-45)">0</text>
<line x1="64.15" y1="553.5" x2="64.15" y2="555.8" stroke="#222" stroke-width="0.9" />
<text x="0" y="0" font-size="7.4" text-anchor="end" fill="#333" transform="translate(67.25 563.2) rotate(-45)">365</text>
<line x1="79.2" y1="553.5" x2="79.2" y2="555.8" stroke="#222" stroke-width="0.9" />
<text x="0" y="0" font-size="7.4" text-anchor="end" fill="#333" transform="translate(82.3 563.2) rotate(-45)">730</text>
<line x1="94.25" y1="553.5" x2="94.25" y2="555.8" stroke="#222" stroke-width="0.9" />
<text x="0" y="0" font-size="7.4" text-anchor="end" fill="#333" transform="translate(97.35 563.2) rotate(-45)">1095</text>
<line x1="109.3" y1="553.5" x2="109.3" y2="555.8" stroke="#222" stroke-width="0.9" />
<text x="0" y="0" font-size="7.4" text-anchor="end" fill="#333" transform="translate(112.4 563.2) rotate(-45)">1460</text>
<line x1="124.35" y1="553.5" x2="124.35" y2="555.8" stroke="#222" stroke-width="0.9" />
<text x="0" y="0" font-size="7.4" text-anchor="end" fill="#333" transform="translate(127.45 563.2) rotate(-45)">1825</text>
<line x1="139.4" y1="553.5" x2="139.4" y2="555.8" stroke="#222" stroke-width="0.9" />
<text x="0" y="0" font-size="7.4" text-anchor="end" fill="#333" transform="translate(142.5 563.2) rotate(-45)">2190</text>
<line x1="154.45" y1="553.5" x2="154.45" y2="555.8" stroke="#222" stroke-width="0.9" />
<text x="0" y="0" font-size="7.4" text-anchor="end" fill="#333" transform="translate(157.55 563.2) rotate(-45)">2555</text>
<line x1="169.5" y1="553.5" x2="169.5" y2="555.8" stroke="#222" stroke-width="0.9" />
<text x="0" y="0" font-size="7.4" text-anchor="end" fill="#333" transform="translate(172.6 563.2) rotate(-45)">2920</text>
<text x="0" y="0" font-size="8.4" text-anchor="middle" fill="#333" textLength="56" lengthAdjust="spacingAndGlyphs" transform="translate(26.9 494.8) rotate(-90)">Probability of EFS</text>
<path d="M48.9 439.1L49.19 439.1L49.19 444.82L49.42 444.82L49.42 450.54L49.66 450.54L49.66 456.26L49.95 456.26L49.95 461.98L50.16 461.98L50.16 467.7L50.3 467.7L50.3 473.42L50.5 473.42L50.5 479.14L50.93 479.14L50.93 484.86L51.33 484.86L51.33 490.58L51.68 490.58L51.68 496.3L52.01 496.3L52.01 502.02L52.31 502.02L52.31 507.74L53.19 507.74L53.19 513.46L54.69 513.46L54.69 519.18L55.09 519.18L55.09 524.9L55.58 524.9L55.58 530.62L56.09 530.62L56.09 536.34L56.6 536.34L56.6 542.3L60.4 542.3L60.4 548.1L67.2 548.1L67.2 553.5L67.2 553.5" fill="none" stroke="#c8202e" stroke-width="1.0"/>
<path d="M48.9 439.1L49.47 439.1L49.47 441.96L49.66 441.96L49.66 444.82L49.84 444.82L49.84 447.68L49.99 447.68L49.99 450.54L50.15 450.54L50.15 453.4L50.31 453.4L50.31 456.26L50.48 456.26L50.48 459.12L50.7 459.12L50.7 461.98L50.92 461.98L50.92 464.84L51.18 464.84L51.18 467.7L51.44 467.7L51.44 470.56L51.67 470.56L51.67 473.42L51.88 473.42L51.88 476.28L52.12 476.28L52.12 479.14L52.38 479.14L52.38 482L52.68 482L52.68 484.86L53.15 484.86L53.15 487.72L53.63 487.72L53.63 490.58L54.11 490.58L54.11 493.44L54.6 493.44L54.6 496.3L55.02 496.3L55.02 499.16L55.4 499.16L55.4 502.02L55.75 502.02L55.75 504.88L56.11 504.88L56.11 507.74L56.6 507.74L56.6 510.6L57.09 510.6L57.09 513.46L57.69 513.46L57.69 516.32L58.36 516.32L58.36 519.18L59.12 519.18L59.12 522.04L59.87 522.04L59.87 524.9L60.71 524.9L60.71 527.76L62.2 527.76L62.2 530.62L63.88 530.62L63.88 533.48L64.72 533.48L64.72 536.34L71.5 536.34L71.5 539.4L74.4 539.4L74.4 542.3L87.8 542.3L87.8 545.2L164.8 545.2" fill="none" stroke="#34598a" stroke-width="0.95"/>
<circle cx="49.19" cy="444.82" r="1.3" fill="#c8202e"/>
<circle cx="49.42" cy="450.54" r="1.3" fill="#c8202e"/>
<circle cx="49.66" cy="456.26" r="1.3" fill="#c8202e"/>
<circle cx="49.95" cy="461.98" r="1.3" fill="#c8202e"/>
<circle cx="50.16" cy="467.7" r="1.3" fill="#c8202e"/>
<circle cx="50.3" cy="473.42" r="1.3" fill="#c8202e"/>
<circle cx="50.5" cy="479.14" r="1.3" fill="#c8202e"/>
<circle cx="50.93" cy="484.86" r="1.3" fill="#c8202e"/>
<circle cx="51.33" cy="490.58" r="1.3" fill="#c8202e"/>
<circle cx="51.68" cy="496.3" r="1.3" fill="#c8202e"/>
<circle cx="52.01" cy="502.02" r="1.3" fill="#c8202e"/>
<circle cx="52.31" cy="507.74" r="1.3" fill="#c8202e"/>
<circle cx="53.19" cy="513.46" r="1.3" fill="#c8202e"/>
<circle cx="54.69" cy="519.18" r="1.3" fill="#c8202e"/>
<circle cx="55.09" cy="524.9" r="1.3" fill="#c8202e"/>
<circle cx="55.58" cy="530.62" r="1.3" fill="#c8202e"/>
<circle cx="56.09" cy="536.34" r="1.3" fill="#c8202e"/>
<circle cx="56.6" cy="542.3" r="1.3" fill="#c8202e"/>
<circle cx="60.4" cy="548.1" r="1.3" fill="#c8202e"/>
<circle cx="67.2" cy="553.5" r="1.3" fill="#c8202e"/>
<circle cx="49.47" cy="441.96" r="1.2" fill="#1b3a66"/>
<circle cx="49.66" cy="444.82" r="1.2" fill="#1b3a66"/>
<circle cx="49.84" cy="447.68" r="1.2" fill="#1b3a66"/>
<circle cx="49.99" cy="450.54" r="1.2" fill="#1b3a66"/>
<circle cx="50.15" cy="453.4" r="1.2" fill="#1b3a66"/>
<circle cx="50.31" cy="456.26" r="1.2" fill="#1b3a66"/>
<circle cx="50.48" cy="459.12" r="1.2" fill="#1b3a66"/>
<circle cx="50.7" cy="461.98" r="1.2" fill="#1b3a66"/>
<circle cx="50.92" cy="464.84" r="1.2" fill="#1b3a66"/>
<circle cx="51.18" cy="467.7" r="1.2" fill="#1b3a66"/>
<circle cx="51.44" cy="470.56" r="1.2" fill="#1b3a66"/>
<circle cx="51.67" cy="473.42" r="1.2" fill="#1b3a66"/>
<circle cx="51.88" cy="476.28" r="1.2" fill="#1b3a66"/>
<circle cx="52.12" cy="479.14" r="1.2" fill="#1b3a66"/>
<circle cx="52.38" cy="482" r="1.2" fill="#1b3a66"/>
<circle cx="52.68" cy="484.86" r="1.2" fill="#1b3a66"/>
<circle cx="53.15" cy="487.72" r="1.2" fill="#1b3a66"/>
<circle cx="53.63" cy="490.58" r="1.2" fill="#1b3a66"/>
<circle cx="54.11" cy="493.44" r="1.2" fill="#1b3a66"/>
<circle cx="54.6" cy="496.3" r="1.2" fill="#1b3a66"/>
<circle cx="55.02" cy="499.16" r="1.2" fill="#1b3a66"/>
<circle cx="55.4" cy="502.02" r="1.2" fill="#1b3a66"/>
<circle cx="55.75" cy="504.88" r="1.2" fill="#1b3a66"/>
<circle cx="56.11" cy="507.74" r="1.2" fill="#1b3a66"/>
<circle cx="56.6" cy="510.6" r="1.2" fill="#1b3a66"/>
<circle cx="57.09" cy="513.46" r="1.2" fill="#1b3a66"/>
<circle cx="57.69" cy="516.32" r="1.2" fill="#1b3a66"/>
<circle cx="58.36" cy="519.18" r="1.2" fill="#1b3a66"/>
<circle cx="59.12" cy="522.04" r="1.2" fill="#1b3a66"/>
<circle cx="59.87" cy="524.9" r="1.2" fill="#1b3a66"/>
<circle cx="60.71" cy="527.76" r="1.2" fill="#1b3a66"/>
<circle cx="62.2" cy="530.62" r="1.2" fill="#1b3a66"/>
<circle cx="63.88" cy="533.48" r="1.2" fill="#1b3a66"/>
<circle cx="64.72" cy="536.34" r="1.2" fill="#1b3a66"/>
<circle cx="71.5" cy="539.4" r="1.2" fill="#1b3a66"/>
<circle cx="74.4" cy="542.3" r="1.2" fill="#1b3a66"/>
<circle cx="87.8" cy="545.2" r="1.2" fill="#1b3a66"/>
<circle cx="122.4" cy="545.2" r="1.2" fill="#1b3a66"/>
<circle cx="142.4" cy="545.2" r="1.2" fill="#1b3a66"/>
<circle cx="164.8" cy="545.2" r="1.2" fill="#1b3a66"/>
<line x1="132.1" y1="470.4" x2="139.1" y2="470.4" stroke="#1b3a66" stroke-width="0.9" />
<circle cx="135.6" cy="470.4" r="1.1" fill="#1b3a66"/>
<line x1="132.1" y1="478.5" x2="139.1" y2="478.5" stroke="#c8202e" stroke-width="0.9" />
<circle cx="135.6" cy="478.5" r="1.1" fill="#c8202e"/>
<text x="142.9" y="472.4" font-size="6.9" font-style="italic" fill="#333" textLength="25.2" lengthAdjust="spacingAndGlyphs">TP53WT</text>
<text x="142.9" y="480.5" font-size="6.9" fill="#333" textLength="27.4" lengthAdjust="spacingAndGlyphs"><tspan font-style="italic">TP53</tspan>mut</text>
<text x="69" y="513.9" font-size="6.7" fill="#333" textLength="89.4" lengthAdjust="spacingAndGlyphs">HR, 1.83 (95% CI, 0.99-3.40)</text>
<text x="69" y="522.3" font-size="6.7" fill="#333" textLength="22" lengthAdjust="spacingAndGlyphs"><tspan font-style="italic">P</tspan> = .02</text>
<text x="110.4" y="586.6" font-size="9.2" text-anchor="middle" fill="#333" textLength="15.5" lengthAdjust="spacingAndGlyphs">Days</text>
<text x="288.3" y="433.1" font-size="8.9" text-anchor="middle" fill="#2a2a2a" textLength="46.4" lengthAdjust="spacingAndGlyphs">responders</text>
<line x1="227.3" y1="436.4" x2="227.3" y2="555.9" stroke="#222" stroke-width="1" />
<line x1="226.9" y1="555.5" x2="351" y2="555.5" stroke="#222" stroke-width="1" />
<line x1="224.3" y1="438.9" x2="227.3" y2="438.9" stroke="#222" stroke-width="0.9" />
<text x="221.2" y="441.4" font-size="7.1" text-anchor="end" fill="#333">1.0</text>
<line x1="224.3" y1="462.22" x2="227.3" y2="462.22" stroke="#222" stroke-width="0.9" />
<text x="221.2" y="464.72" font-size="7.1" text-anchor="end" fill="#333">0.8</text>
<line x1="224.3" y1="485.54" x2="227.3" y2="485.54" stroke="#222" stroke-width="0.9" />
<text x="221.2" y="488.04" font-size="7.1" text-anchor="end" fill="#333">0.6</text>
<line x1="224.3" y1="508.86" x2="227.3" y2="508.86" stroke="#222" stroke-width="0.9" />
<text x="221.2" y="511.36" font-size="7.1" text-anchor="end" fill="#333">0.4</text>
<line x1="224.3" y1="532.18" x2="227.3" y2="532.18" stroke="#222" stroke-width="0.9" />
<text x="221.2" y="534.68" font-size="7.1" text-anchor="end" fill="#333">0.2</text>
<line x1="224.3" y1="555.5" x2="227.3" y2="555.5" stroke="#222" stroke-width="0.9" />
<text x="221.2" y="558" font-size="7.1" text-anchor="end" fill="#333">0.0</text>
<line x1="227.5" y1="555.5" x2="227.5" y2="557.8" stroke="#222" stroke-width="0.9" />
<text x="0" y="0" font-size="7.4" text-anchor="end" fill="#333" transform="translate(230.6 565.2) rotate(-45)">0</text>
<line x1="242.55" y1="555.5" x2="242.55" y2="557.8" stroke="#222" stroke-width="0.9" />
<text x="0" y="0" font-size="7.4" text-anchor="end" fill="#333" transform="translate(245.65 565.2) rotate(-45)">365</text>
<line x1="257.6" y1="555.5" x2="257.6" y2="557.8" stroke="#222" stroke-width="0.9" />
<text x="0" y="0" font-size="7.4" text-anchor="end" fill="#333" transform="translate(260.7 565.2) rotate(-45)">730</text>
<line x1="272.65" y1="555.5" x2="272.65" y2="557.8" stroke="#222" stroke-width="0.9" />
<text x="0" y="0" font-size="7.4" text-anchor="end" fill="#333" transform="translate(275.75 565.2) rotate(-45)">1095</text>
<line x1="287.7" y1="555.5" x2="287.7" y2="557.8" stroke="#222" stroke-width="0.9" />
<text x="0" y="0" font-size="7.4" text-anchor="end" fill="#333" transform="translate(290.8 565.2) rotate(-45)">1460</text>
<line x1="302.75" y1="555.5" x2="302.75" y2="557.8" stroke="#222" stroke-width="0.9" />
<text x="0" y="0" font-size="7.4" text-anchor="end" fill="#333" transform="translate(305.85 565.2) rotate(-45)">1825</text>
<line x1="317.8" y1="555.5" x2="317.8" y2="557.8" stroke="#222" stroke-width="0.9" />
<text x="0" y="0" font-size="7.4" text-anchor="end" fill="#333" transform="translate(320.9 565.2) rotate(-45)">2190</text>
<line x1="332.85" y1="555.5" x2="332.85" y2="557.8" stroke="#222" stroke-width="0.9" />
<text x="0" y="0" font-size="7.4" text-anchor="end" fill="#333" transform="translate(335.95 565.2) rotate(-45)">2555</text>
<line x1="347.9" y1="555.5" x2="347.9" y2="557.8" stroke="#222" stroke-width="0.9" />
<text x="0" y="0" font-size="7.4" text-anchor="end" fill="#333" transform="translate(351 565.2) rotate(-45)">2920</text>
<text x="0" y="0" font-size="8.4" text-anchor="middle" fill="#333" textLength="56" lengthAdjust="spacingAndGlyphs" transform="translate(205.3 495.7) rotate(-90)">Probability of EFS</text>
<path d="M227.3 438.9L228.43 438.9L228.43 451.86L230 451.86L230 464.81L232.16 464.81L232.16 477.77L233.3 477.77L233.3 490.72L233.7 490.72L233.7 503.68L234.11 503.68L234.11 516.63L234.7 516.63L234.7 529.59L238.9 529.59L238.9 542.5L245.5 542.5L245.5 555.5L245.5 555.5" fill="none" stroke="#c8202e" stroke-width="1.0"/>
<path d="M227.3 438.9L229.41 438.9L229.41 442.79L230.12 442.79L230.12 446.67L230.85 446.67L230.85 450.56L231.2 450.56L231.2 454.45L231.79 454.45L231.79 458.33L232.27 458.33L232.27 462.22L232.61 462.22L232.61 466.11L232.79 466.11L232.79 469.99L233.21 469.99L233.21 473.88L233.58 473.88L233.58 477.77L233.97 477.77L233.97 481.65L234.31 481.65L234.31 485.54L234.9 485.54L234.9 489.43L235.5 489.43L235.5 493.31L236.3 493.31L236.3 497.2L237.22 497.2L237.22 501.09L238.27 501.09L238.27 504.97L239.25 504.97L239.25 508.86L240.36 508.86L240.36 512.75L241.76 512.75L241.76 516.63L242.6 516.63L242.6 520.52L248.1 520.52L248.1 524.3L250.4 524.3L250.4 528.2L252.7 528.2L252.7 532.1L265.2 532.1L265.2 536L266.2 536L266.2 539.9L344.5 539.9" fill="none" stroke="#34598a" stroke-width="0.95"/>
<circle cx="228.43" cy="451.86" r="1.3" fill="#c8202e"/>
<circle cx="230" cy="464.81" r="1.3" fill="#c8202e"/>
<circle cx="232.16" cy="477.77" r="1.3" fill="#c8202e"/>
<circle cx="233.3" cy="490.72" r="1.3" fill="#c8202e"/>
<circle cx="233.7" cy="503.68" r="1.3" fill="#c8202e"/>
<circle cx="234.11" cy="516.63" r="1.3" fill="#c8202e"/>
<circle cx="234.7" cy="529.59" r="1.3" fill="#c8202e"/>
<circle cx="238.9" cy="542.5" r="1.3" fill="#c8202e"/>
<circle cx="245.5" cy="555.5" r="1.3" fill="#c8202e"/>
<circle cx="229.41" cy="442.79" r="1.2" fill="#1b3a66"/>
<circle cx="230.12" cy="446.67" r="1.2" fill="#1b3a66"/>
<circle cx="230.85" cy="450.56" r="1.2" fill="#1b3a66"/>
<circle cx="231.2" cy="454.45" r="1.2" fill="#1b3a66"/>
<circle cx="231.79" cy="458.33" r="1.2" fill="#1b3a66"/>
<circle cx="232.27" cy="462.22" r="1.2" fill="#1b3a66"/>
<circle cx="232.61" cy="466.11" r="1.2" fill="#1b3a66"/>
<circle cx="232.79" cy="469.99" r="1.2" fill="#1b3a66"/>
<circle cx="233.21" cy="473.88" r="1.2" fill="#1b3a66"/>
<circle cx="233.58" cy="477.77" r="1.2" fill="#1b3a66"/>
<circle cx="233.97" cy="481.65" r="1.2" fill="#1b3a66"/>
<circle cx="234.31" cy="485.54" r="1.2" fill="#1b3a66"/>
<circle cx="234.9" cy="489.43" r="1.2" fill="#1b3a66"/>
<circle cx="235.5" cy="493.31" r="1.2" fill="#1b3a66"/>
<circle cx="236.3" cy="497.2" r="1.2" fill="#1b3a66"/>
<circle cx="237.22" cy="501.09" r="1.2" fill="#1b3a66"/>
<circle cx="238.27" cy="504.97" r="1.2" fill="#1b3a66"/>
<circle cx="239.25" cy="508.86" r="1.2" fill="#1b3a66"/>
<circle cx="240.36" cy="512.75" r="1.2" fill="#1b3a66"/>
<circle cx="241.76" cy="516.63" r="1.2" fill="#1b3a66"/>
<circle cx="242.6" cy="520.52" r="1.2" fill="#1b3a66"/>
<circle cx="248.1" cy="524.3" r="1.2" fill="#1b3a66"/>
<circle cx="250.4" cy="528.2" r="1.2" fill="#1b3a66"/>
<circle cx="252.7" cy="532.1" r="1.2" fill="#1b3a66"/>
<circle cx="265.2" cy="536" r="1.2" fill="#1b3a66"/>
<circle cx="266.2" cy="539.9" r="1.2" fill="#1b3a66"/>
<circle cx="275.8" cy="539.9" r="1.2" fill="#1b3a66"/>
<circle cx="301.2" cy="539.9" r="1.2" fill="#1b3a66"/>
<circle cx="321.5" cy="539.9" r="1.2" fill="#1b3a66"/>
<circle cx="344.5" cy="539.9" r="1.2" fill="#1b3a66"/>
<line x1="308.7" y1="462.1" x2="315.7" y2="462.1" stroke="#1b3a66" stroke-width="0.9" />
<circle cx="312.2" cy="462.1" r="1.1" fill="#1b3a66"/>
<line x1="308.7" y1="470.2" x2="315.7" y2="470.2" stroke="#c8202e" stroke-width="0.9" />
<circle cx="312.2" cy="470.2" r="1.1" fill="#c8202e"/>
<text x="319.5" y="464.1" font-size="6.9" font-style="italic" fill="#333" textLength="25.2" lengthAdjust="spacingAndGlyphs">TP53WT</text>
<text x="319.5" y="472.2" font-size="6.9" fill="#333" textLength="27.4" lengthAdjust="spacingAndGlyphs"><tspan font-style="italic">TP53</tspan>mut</text>
<text x="248.1" y="509" font-size="6.7" fill="#333" textLength="87.5" lengthAdjust="spacingAndGlyphs">HR, 2.13 (95% CI, 0.82-5.52)</text>
<text x="248.1" y="517.4" font-size="6.7" fill="#333" textLength="22" lengthAdjust="spacingAndGlyphs"><tspan font-style="italic">P</tspan> = .04</text>
<text x="288.8" y="586.6" font-size="9.2" text-anchor="middle" fill="#333" textLength="15.5" lengthAdjust="spacingAndGlyphs">Days</text>
<text x="110.6" y="600.8" font-size="8.9" text-anchor="middle" fill="#2a2a2a" textLength="45.5" lengthAdjust="spacingAndGlyphs">all patients</text>
<line x1="49.6" y1="604.1" x2="49.6" y2="721.7" stroke="#222" stroke-width="1" />
<line x1="49.2" y1="721.3" x2="173.3" y2="721.3" stroke="#222" stroke-width="1" />
<line x1="46.6" y1="606.6" x2="49.6" y2="606.6" stroke="#222" stroke-width="0.9" />
<text x="43.5" y="609.1" font-size="7.1" text-anchor="end" fill="#333">1.0</text>
<line x1="46.6" y1="629.54" x2="49.6" y2="629.54" stroke="#222" stroke-width="0.9" />
<text x="43.5" y="632.04" font-size="7.1" text-anchor="end" fill="#333">0.8</text>
<line x1="46.6" y1="652.48" x2="49.6" y2="652.48" stroke="#222" stroke-width="0.9" />
<text x="43.5" y="654.98" font-size="7.1" text-anchor="end" fill="#333">0.6</text>
<line x1="46.6" y1="675.42" x2="49.6" y2="675.42" stroke="#222" stroke-width="0.9" />
<text x="43.5" y="677.92" font-size="7.1" text-anchor="end" fill="#333">0.4</text>
<line x1="46.6" y1="698.36" x2="49.6" y2="698.36" stroke="#222" stroke-width="0.9" />
<text x="43.5" y="700.86" font-size="7.1" text-anchor="end" fill="#333">0.2</text>
<line x1="46.6" y1="721.3" x2="49.6" y2="721.3" stroke="#222" stroke-width="0.9" />
<text x="43.5" y="723.8" font-size="7.1" text-anchor="end" fill="#333">0.0</text>
<line x1="49.8" y1="721.3" x2="49.8" y2="723.6" stroke="#222" stroke-width="0.9" />
<text x="0" y="0" font-size="7.4" text-anchor="end" fill="#333" transform="translate(52.9 731) rotate(-45)">0</text>
<line x1="64.85" y1="721.3" x2="64.85" y2="723.6" stroke="#222" stroke-width="0.9" />
<text x="0" y="0" font-size="7.4" text-anchor="end" fill="#333" transform="translate(67.95 731) rotate(-45)">365</text>
<line x1="79.9" y1="721.3" x2="79.9" y2="723.6" stroke="#222" stroke-width="0.9" />
<text x="0" y="0" font-size="7.4" text-anchor="end" fill="#333" transform="translate(83 731) rotate(-45)">730</text>
<line x1="94.95" y1="721.3" x2="94.95" y2="723.6" stroke="#222" stroke-width="0.9" />
<text x="0" y="0" font-size="7.4" text-anchor="end" fill="#333" transform="translate(98.05 731) rotate(-45)">1095</text>
<line x1="110" y1="721.3" x2="110" y2="723.6" stroke="#222" stroke-width="0.9" />
<text x="0" y="0" font-size="7.4" text-anchor="end" fill="#333" transform="translate(113.1 731) rotate(-45)">1460</text>
<line x1="125.05" y1="721.3" x2="125.05" y2="723.6" stroke="#222" stroke-width="0.9" />
<text x="0" y="0" font-size="7.4" text-anchor="end" fill="#333" transform="translate(128.15 731) rotate(-45)">1825</text>
<line x1="140.1" y1="721.3" x2="140.1" y2="723.6" stroke="#222" stroke-width="0.9" />
<text x="0" y="0" font-size="7.4" text-anchor="end" fill="#333" transform="translate(143.2 731) rotate(-45)">2190</text>
<line x1="155.15" y1="721.3" x2="155.15" y2="723.6" stroke="#222" stroke-width="0.9" />
<text x="0" y="0" font-size="7.4" text-anchor="end" fill="#333" transform="translate(158.25 731) rotate(-45)">2555</text>
<line x1="170.2" y1="721.3" x2="170.2" y2="723.6" stroke="#222" stroke-width="0.9" />
<text x="0" y="0" font-size="7.4" text-anchor="end" fill="#333" transform="translate(173.3 731) rotate(-45)">2920</text>
<text x="0" y="0" font-size="8.4" text-anchor="middle" fill="#333" textLength="56" lengthAdjust="spacingAndGlyphs" transform="translate(27.6 662.45) rotate(-90)">Probability of OS</text>
<path d="M49.6 606.6L49.87 606.6L49.87 611.59L50.19 611.59L50.19 616.57L50.57 616.57L50.57 621.56L51.05 621.56L51.05 626.55L51.54 626.55L51.54 631.53L52.01 631.53L52.01 636.52L52.55 636.52L52.55 641.51L53.2 641.51L53.2 646.5L53.77 646.5L53.77 651.48L54.3 651.48L54.3 656.47L54.9 656.47L54.9 661.46L55.46 661.46L55.46 666.44L55.91 666.44L55.91 671.43L56.33 671.43L56.33 676.42L56.86 676.42L56.86 681.4L57.3 681.4L57.3 686.39L61.2 686.39L61.2 691.2L61.2 691.2L61.2 697.5L61.2 697.5L61.2 703.5L64.5 703.5L64.5 709.5L70.5 709.5L70.5 715.6L107.3 715.6" fill="none" stroke="#c8202e" stroke-width="1.0"/>
<path d="M49.6 606.6L50.1 606.6L50.1 609.04L50.43 609.04L50.43 611.48L50.75 611.48L50.75 613.92L51.08 613.92L51.08 616.36L51.32 616.36L51.32 618.8L51.55 618.8L51.55 621.24L51.78 621.24L51.78 623.68L52.01 623.68L52.01 626.12L52.26 626.12L52.26 628.56L52.5 628.56L52.5 631L52.74 631L52.74 633.44L53.15 633.44L53.15 635.89L53.59 635.89L53.59 638.33L54.05 638.33L54.05 640.77L54.54 640.77L54.54 643.21L55.03 643.21L55.03 645.65L55.47 645.65L55.47 648.09L55.91 648.09L55.91 650.53L56.47 650.53L56.47 652.97L57.04 652.97L57.04 655.41L57.48 655.41L57.48 657.85L57.82 657.85L57.82 660.29L58.27 660.29L58.27 662.73L58.75 662.73L58.75 665.17L59.14 665.17L59.14 667.61L59.41 667.61L59.41 670.05L59.92 670.05L59.92 672.49L60.53 672.49L60.53 674.93L61.14 674.93L61.14 677.37L61.73 677.37L61.73 679.81L62.12 679.81L62.12 682.25L62.66 682.25L62.66 684.69L63.35 684.69L63.35 687.13L64.56 687.13L64.56 689.57L66.51 689.57L66.51 692.01L69.15 692.01L69.15 694.46L72.42 694.46L72.42 696.9L75.64 696.9L75.64 699.34L78.48 699.34L78.48 701.78L81.2 701.78L81.2 704.22L83.23 704.22L83.23 706.66L83.6 706.66L83.6 709.7L107.3 709.7L107.3 712.3L166.5 712.3" fill="none" stroke="#34598a" stroke-width="0.95"/>
<circle cx="49.87" cy="611.59" r="1.3" fill="#c8202e"/>
<circle cx="50.19" cy="616.57" r="1.3" fill="#c8202e"/>
<circle cx="50.57" cy="621.56" r="1.3" fill="#c8202e"/>
<circle cx="51.05" cy="626.55" r="1.3" fill="#c8202e"/>
<circle cx="51.54" cy="631.53" r="1.3" fill="#c8202e"/>
<circle cx="52.01" cy="636.52" r="1.3" fill="#c8202e"/>
<circle cx="52.55" cy="641.51" r="1.3" fill="#c8202e"/>
<circle cx="53.2" cy="646.5" r="1.3" fill="#c8202e"/>
<circle cx="53.77" cy="651.48" r="1.3" fill="#c8202e"/>
<circle cx="54.3" cy="656.47" r="1.3" fill="#c8202e"/>
<circle cx="54.9" cy="661.46" r="1.3" fill="#c8202e"/>
<circle cx="55.46" cy="666.44" r="1.3" fill="#c8202e"/>
<circle cx="55.91" cy="671.43" r="1.3" fill="#c8202e"/>
<circle cx="56.33" cy="676.42" r="1.3" fill="#c8202e"/>
<circle cx="56.86" cy="681.4" r="1.3" fill="#c8202e"/>
<circle cx="57.3" cy="686.39" r="1.3" fill="#c8202e"/>
<circle cx="61.2" cy="691.2" r="1.3" fill="#c8202e"/>
<circle cx="61.2" cy="697.5" r="1.3" fill="#c8202e"/>
<circle cx="61.2" cy="703.5" r="1.3" fill="#c8202e"/>
<circle cx="64.5" cy="709.5" r="1.3" fill="#c8202e"/>
<circle cx="70.5" cy="715.6" r="1.3" fill="#c8202e"/>
<circle cx="107.3" cy="715.6" r="1.3" fill="#c8202e"/>
<circle cx="50.1" cy="609.04" r="1.2" fill="#1b3a66"/>
<circle cx="50.43" cy="611.48" r="1.2" fill="#1b3a66"/>
<circle cx="50.75" cy="613.92" r="1.2" fill="#1b3a66"/>
<circle cx="51.08" cy="616.36" r="1.2" fill="#1b3a66"/>
<circle cx="51.32" cy="618.8" r="1.2" fill="#1b3a66"/>
<circle cx="51.55" cy="621.24" r="1.2" fill="#1b3a66"/>
<circle cx="51.78" cy="623.68" r="1.2" fill="#1b3a66"/>
<circle cx="52.01" cy="626.12" r="1.2" fill="#1b3a66"/>
<circle cx="52.26" cy="628.56" r="1.2" fill="#1b3a66"/>
<circle cx="52.5" cy="631" r="1.2" fill="#1b3a66"/>
<circle cx="52.74" cy="633.44" r="1.2" fill="#1b3a66"/>
<circle cx="53.15" cy="635.89" r="1.2" fill="#1b3a66"/>
<circle cx="53.59" cy="638.33" r="1.2" fill="#1b3a66"/>
<circle cx="54.05" cy="640.77" r="1.2" fill="#1b3a66"/>
<circle cx="54.54" cy="643.21" r="1.2" fill="#1b3a66"/>
<circle cx="55.03" cy="645.65" r="1.2" fill="#1b3a66"/>
<circle cx="55.47" cy="648.09" r="1.2" fill="#1b3a66"/>
<circle cx="55.91" cy="650.53" r="1.2" fill="#1b3a66"/>
<circle cx="56.47" cy="652.97" r="1.2" fill="#1b3a66"/>
<circle cx="57.04" cy="655.41" r="1.2" fill="#1b3a66"/>
<circle cx="57.48" cy="657.85" r="1.2" fill="#1b3a66"/>
<circle cx="57.82" cy="660.29" r="1.2" fill="#1b3a66"/>
<circle cx="58.27" cy="662.73" r="1.2" fill="#1b3a66"/>
<circle cx="58.75" cy="665.17" r="1.2" fill="#1b3a66"/>
<circle cx="59.14" cy="667.61" r="1.2" fill="#1b3a66"/>
<circle cx="59.41" cy="670.05" r="1.2" fill="#1b3a66"/>
<circle cx="59.92" cy="672.49" r="1.2" fill="#1b3a66"/>
<circle cx="60.53" cy="674.93" r="1.2" fill="#1b3a66"/>
<circle cx="61.14" cy="677.37" r="1.2" fill="#1b3a66"/>
<circle cx="61.73" cy="679.81" r="1.2" fill="#1b3a66"/>
<circle cx="62.12" cy="682.25" r="1.2" fill="#1b3a66"/>
<circle cx="62.66" cy="684.69" r="1.2" fill="#1b3a66"/>
<circle cx="63.35" cy="687.13" r="1.2" fill="#1b3a66"/>
<circle cx="64.56" cy="689.57" r="1.2" fill="#1b3a66"/>
<circle cx="66.51" cy="692.01" r="1.2" fill="#1b3a66"/>
<circle cx="69.15" cy="694.46" r="1.2" fill="#1b3a66"/>
<circle cx="72.42" cy="696.9" r="1.2" fill="#1b3a66"/>
<circle cx="75.64" cy="699.34" r="1.2" fill="#1b3a66"/>
<circle cx="78.48" cy="701.78" r="1.2" fill="#1b3a66"/>
<circle cx="81.2" cy="704.22" r="1.2" fill="#1b3a66"/>
<circle cx="83.23" cy="706.66" r="1.2" fill="#1b3a66"/>
<circle cx="83.6" cy="709.7" r="1.2" fill="#1b3a66"/>
<circle cx="107.3" cy="712.3" r="1.2" fill="#1b3a66"/>
<circle cx="123.5" cy="712.3" r="1.2" fill="#1b3a66"/>
<circle cx="143.5" cy="712.3" r="1.2" fill="#1b3a66"/>
<circle cx="166.5" cy="712.3" r="1.2" fill="#1b3a66"/>
<line x1="121.8" y1="633.5" x2="128.8" y2="633.5" stroke="#1b3a66" stroke-width="0.9" />
<circle cx="125.3" cy="633.5" r="1.1" fill="#1b3a66"/>
<line x1="121.8" y1="641.6" x2="128.8" y2="641.6" stroke="#c8202e" stroke-width="0.9" />
<circle cx="125.3" cy="641.6" r="1.1" fill="#c8202e"/>
<text x="132.6" y="635.5" font-size="6.9" fill="#333" textLength="25.2" lengthAdjust="spacingAndGlyphs"><tspan font-style="italic">TP53</tspan>WT</text>
<text x="132.6" y="643.6" font-size="6.9" fill="#333" textLength="27.4" lengthAdjust="spacingAndGlyphs"><tspan font-style="italic">TP53</tspan>mut</text>
<text x="68.8" y="675.9" font-size="6.7" fill="#333" textLength="89.4" lengthAdjust="spacingAndGlyphs">HR, 1.60 (95% CI, 0.87-2.94)</text>
<text x="68.8" y="684.3" font-size="6.7" fill="#333" textLength="22" lengthAdjust="spacingAndGlyphs"><tspan font-style="italic">P</tspan> = .09</text>
<text x="111.1" y="754.2" font-size="9.2" text-anchor="middle" fill="#333" textLength="15.5" lengthAdjust="spacingAndGlyphs">Days</text>
<text x="288.2" y="599.6" font-size="8.9" text-anchor="middle" fill="#2a2a2a" textLength="46.4" lengthAdjust="spacingAndGlyphs">responders</text>
<line x1="227.2" y1="602.9" x2="227.2" y2="721.7" stroke="#222" stroke-width="1" />
<line x1="226.8" y1="721.3" x2="350.9" y2="721.3" stroke="#222" stroke-width="1" />
<line x1="224.2" y1="605.4" x2="227.2" y2="605.4" stroke="#222" stroke-width="0.9" />
<text x="221.1" y="607.9" font-size="7.1" text-anchor="end" fill="#333">1.0</text>
<line x1="224.2" y1="628.58" x2="227.2" y2="628.58" stroke="#222" stroke-width="0.9" />
<text x="221.1" y="631.08" font-size="7.1" text-anchor="end" fill="#333">0.8</text>
<line x1="224.2" y1="651.76" x2="227.2" y2="651.76" stroke="#222" stroke-width="0.9" />
<text x="221.1" y="654.26" font-size="7.1" text-anchor="end" fill="#333">0.6</text>
<line x1="224.2" y1="674.94" x2="227.2" y2="674.94" stroke="#222" stroke-width="0.9" />
<text x="221.1" y="677.44" font-size="7.1" text-anchor="end" fill="#333">0.4</text>
<line x1="224.2" y1="698.12" x2="227.2" y2="698.12" stroke="#222" stroke-width="0.9" />
<text x="221.1" y="700.62" font-size="7.1" text-anchor="end" fill="#333">0.2</text>
<line x1="224.2" y1="721.3" x2="227.2" y2="721.3" stroke="#222" stroke-width="0.9" />
<text x="221.1" y="723.8" font-size="7.1" text-anchor="end" fill="#333">0.0</text>
<line x1="227.4" y1="721.3" x2="227.4" y2="723.6" stroke="#222" stroke-width="0.9" />
<text x="0" y="0" font-size="7.4" text-anchor="end" fill="#333" transform="translate(230.5 731) rotate(-45)">0</text>
<line x1="242.45" y1="721.3" x2="242.45" y2="723.6" stroke="#222" stroke-width="0.9" />
<text x="0" y="0" font-size="7.4" text-anchor="end" fill="#333" transform="translate(245.55 731) rotate(-45)">365</text>
<line x1="257.5" y1="721.3" x2="257.5" y2="723.6" stroke="#222" stroke-width="0.9" />
<text x="0" y="0" font-size="7.4" text-anchor="end" fill="#333" transform="translate(260.6 731) rotate(-45)">730</text>
<line x1="272.55" y1="721.3" x2="272.55" y2="723.6" stroke="#222" stroke-width="0.9" />
<text x="0" y="0" font-size="7.4" text-anchor="end" fill="#333" transform="translate(275.65 731) rotate(-45)">1095</text>
<line x1="287.6" y1="721.3" x2="287.6" y2="723.6" stroke="#222" stroke-width="0.9" />
<text x="0" y="0" font-size="7.4" text-anchor="end" fill="#333" transform="translate(290.7 731) rotate(-45)">1460</text>
<line x1="302.65" y1="721.3" x2="302.65" y2="723.6" stroke="#222" stroke-width="0.9" />
<text x="0" y="0" font-size="7.4" text-anchor="end" fill="#333" transform="translate(305.75 731) rotate(-45)">1825</text>
<line x1="317.7" y1="721.3" x2="317.7" y2="723.6" stroke="#222" stroke-width="0.9" />
<text x="0" y="0" font-size="7.4" text-anchor="end" fill="#333" transform="translate(320.8 731) rotate(-45)">2190</text>
<line x1="332.75" y1="721.3" x2="332.75" y2="723.6" stroke="#222" stroke-width="0.9" />
<text x="0" y="0" font-size="7.4" text-anchor="end" fill="#333" transform="translate(335.85 731) rotate(-45)">2555</text>
<line x1="347.8" y1="721.3" x2="347.8" y2="723.6" stroke="#222" stroke-width="0.9" />
<text x="0" y="0" font-size="7.4" text-anchor="end" fill="#333" transform="translate(350.9 731) rotate(-45)">2920</text>
<text x="0" y="0" font-size="8.4" text-anchor="middle" fill="#333" textLength="56" lengthAdjust="spacingAndGlyphs" transform="translate(205.2 661.85) rotate(-90)">Probability of OS</text>
<path d="M227.2 605.4L230 605.4L230 618.28L231.81 618.28L231.81 631.16L232.13 631.16L232.13 644.03L233.71 644.03L233.71 656.91L235.4 656.91L235.4 669.79L238.6 669.79L238.6 682.8L238.9 682.8L238.9 695.8L238.9 695.8L238.9 708.4L248 708.4L248 721.3L248 721.3" fill="none" stroke="#c8202e" stroke-width="1.0"/>
<path d="M227.2 605.4L229.7 605.4L230.42 605.4L230.42 609.26L230.92 609.26L230.92 613.13L231.43 613.13L231.43 616.99L232.06 616.99L232.06 620.85L232.55 620.85L232.55 624.72L233.09 624.72L233.09 628.58L233.75 628.58L233.75 632.44L234.03 632.44L234.03 636.31L234.5 636.31L234.5 640.17L235.04 640.17L235.04 644.03L235.76 644.03L235.76 647.9L236.56 647.9L236.56 651.76L237.51 651.76L237.51 655.62L238.55 655.62L238.55 659.49L239.64 659.49L239.64 663.35L240.72 663.35L240.72 667.21L242.22 667.21L242.22 671.08L244.03 671.08L244.03 674.94L245.95 674.94L245.95 678.8L247.93 678.8L247.93 682.67L255.7 682.67L255.7 686.7L257.3 686.7L257.3 690.6L258.9 690.6L258.9 694.4L261 694.4L261 698.3L266.4 698.3L266.4 701.9L285.3 701.9L285.3 706.5L344.2 706.5" fill="none" stroke="#34598a" stroke-width="0.95"/>
<circle cx="230" cy="618.28" r="1.3" fill="#c8202e"/>
<circle cx="231.81" cy="631.16" r="1.3" fill="#c8202e"/>
<circle cx="232.13" cy="644.03" r="1.3" fill="#c8202e"/>
<circle cx="233.71" cy="656.91" r="1.3" fill="#c8202e"/>
<circle cx="235.4" cy="669.79" r="1.3" fill="#c8202e"/>
<circle cx="238.6" cy="682.8" r="1.3" fill="#c8202e"/>
<circle cx="238.9" cy="695.8" r="1.3" fill="#c8202e"/>
<circle cx="238.9" cy="708.4" r="1.3" fill="#c8202e"/>
<circle cx="248" cy="721.3" r="1.3" fill="#c8202e"/>
<circle cx="230.42" cy="609.26" r="1.2" fill="#1b3a66"/>
<circle cx="230.92" cy="613.13" r="1.2" fill="#1b3a66"/>
<circle cx="231.43" cy="616.99" r="1.2" fill="#1b3a66"/>
<circle cx="232.06" cy="620.85" r="1.2" fill="#1b3a66"/>
<circle cx="232.55" cy="624.72" r="1.2" fill="#1b3a66"/>
<circle cx="233.09" cy="628.58" r="1.2" fill="#1b3a66"/>
<circle cx="233.75" cy="632.44" r="1.2" fill="#1b3a66"/>
<circle cx="234.03" cy="636.31" r="1.2" fill="#1b3a66"/>
<circle cx="234.5" cy="640.17" r="1.2" fill="#1b3a66"/>
<circle cx="235.04" cy="644.03" r="1.2" fill="#1b3a66"/>
<circle cx="235.76" cy="647.9" r="1.2" fill="#1b3a66"/>
<circle cx="236.56" cy="651.76" r="1.2" fill="#1b3a66"/>
<circle cx="237.51" cy="655.62" r="1.2" fill="#1b3a66"/>
<circle cx="238.55" cy="659.49" r="1.2" fill="#1b3a66"/>
<circle cx="239.64" cy="663.35" r="1.2" fill="#1b3a66"/>
<circle cx="240.72" cy="667.21" r="1.2" fill="#1b3a66"/>
<circle cx="242.22" cy="671.08" r="1.2" fill="#1b3a66"/>
<circle cx="244.03" cy="674.94" r="1.2" fill="#1b3a66"/>
<circle cx="245.95" cy="678.8" r="1.2" fill="#1b3a66"/>
<circle cx="247.93" cy="682.67" r="1.2" fill="#1b3a66"/>
<circle cx="255.7" cy="686.7" r="1.2" fill="#1b3a66"/>
<circle cx="257.3" cy="690.6" r="1.2" fill="#1b3a66"/>
<circle cx="258.9" cy="694.4" r="1.2" fill="#1b3a66"/>
<circle cx="261" cy="698.3" r="1.2" fill="#1b3a66"/>
<circle cx="266.4" cy="701.9" r="1.2" fill="#1b3a66"/>
<circle cx="285.3" cy="706.5" r="1.2" fill="#1b3a66"/>
<circle cx="300.5" cy="706.5" r="1.2" fill="#1b3a66"/>
<circle cx="321.2" cy="706.5" r="1.2" fill="#1b3a66"/>
<circle cx="344.2" cy="706.5" r="1.2" fill="#1b3a66"/>
<circle cx="275.2" cy="701.9" r="1.2" fill="#1b3a66"/>
<line x1="313.2" y1="631.4" x2="320.2" y2="631.4" stroke="#1b3a66" stroke-width="0.9" />
<circle cx="316.7" cy="631.4" r="1.1" fill="#1b3a66"/>
<line x1="313.2" y1="639.5" x2="320.2" y2="639.5" stroke="#c8202e" stroke-width="0.9" />
<circle cx="316.7" cy="639.5" r="1.1" fill="#c8202e"/>
<text x="324" y="633.4" font-size="6.9" font-style="italic" fill="#333" textLength="25.2" lengthAdjust="spacingAndGlyphs">TP53WT</text>
<text x="324" y="641.5" font-size="6.9" fill="#333" textLength="27.4" lengthAdjust="spacingAndGlyphs"><tspan font-style="italic">TP53</tspan>mut</text>
<text x="252.1" y="664.5" font-size="6.7" fill="#333" textLength="88.1" lengthAdjust="spacingAndGlyphs">HR, 2.25 (95% CI, 0.85-5.96)</text>
<text x="252.1" y="672.9" font-size="6.7" fill="#333" textLength="22" lengthAdjust="spacingAndGlyphs"><tspan font-style="italic">P</tspan> = .03</text>
<text x="288.7" y="754.2" font-size="9.2" text-anchor="middle" fill="#333" textLength="15.5" lengthAdjust="spacingAndGlyphs">Days</text>
<text x="378.4" y="17.6" font-size="12.4" font-weight="bold" fill="#000">C</text>
<text x="450.8" y="17.6" font-size="6.8" text-anchor="middle" fill="#333" textLength="42.5" lengthAdjust="spacingAndGlyphs">SJALL058830</text>
<text x="458.9" y="27.5" font-size="6.9" text-anchor="middle" fill="#333" textLength="67.5" lengthAdjust="spacingAndGlyphs"><tspan font-style="italic">KMT2A-R</tspan>, Responder</text>
<text x="442.7" y="39.2" font-size="6.6" text-anchor="middle" fill="#333">100%</text>
<text x="471.5" y="39.2" font-size="6.6" text-anchor="middle" fill="#333">92%</text>
<text x="499.9" y="39.2" font-size="6.6" text-anchor="middle" fill="#333">Blasts</text>
<line x1="422.5" y1="41.8" x2="422.5" y2="129.45" stroke="#1a1a1a" stroke-width="0.95" />
<line x1="422" y1="129" x2="478.5" y2="129" stroke="#1a1a1a" stroke-width="0.95" />
<line x1="419.3" y1="45.3" x2="422.5" y2="45.3" stroke="#1a1a1a" stroke-width="0.9" />
<text x="416.6" y="47.5" font-size="6.3" text-anchor="end" fill="#333">100</text>
<line x1="419.3" y1="60.54" x2="422.5" y2="60.54" stroke="#1a1a1a" stroke-width="0.9" />
<text x="416.6" y="62.74" font-size="6.3" text-anchor="end" fill="#333">80</text>
<line x1="419.3" y1="75.78" x2="422.5" y2="75.78" stroke="#1a1a1a" stroke-width="0.9" />
<text x="416.6" y="77.98" font-size="6.3" text-anchor="end" fill="#333">60</text>
<line x1="419.3" y1="91.02" x2="422.5" y2="91.02" stroke="#1a1a1a" stroke-width="0.9" />
<text x="416.6" y="93.22" font-size="6.3" text-anchor="end" fill="#333">40</text>
<line x1="419.3" y1="106.26" x2="422.5" y2="106.26" stroke="#1a1a1a" stroke-width="0.9" />
<text x="416.6" y="108.46" font-size="6.3" text-anchor="end" fill="#333">20</text>
<line x1="419.3" y1="121.5" x2="422.5" y2="121.5" stroke="#1a1a1a" stroke-width="0.9" />
<text x="416.6" y="123.7" font-size="6.3" text-anchor="end" fill="#333">0</text>
<line x1="438.4" y1="129" x2="438.4" y2="132" stroke="#1a1a1a" stroke-width="0.9" />
<line x1="462.4" y1="129" x2="462.4" y2="132" stroke="#1a1a1a" stroke-width="0.9" />
<text x="0" y="0" font-size="7" text-anchor="end" fill="#333" transform="translate(441.2 137.4) rotate(-32)">Baseline</text>
<text x="0" y="0" font-size="7" text-anchor="end" fill="#333" transform="translate(465.2 137.4) rotate(-32)">Post-ino</text>
<text x="473.8" y="142.6" font-size="6.9" fill="#333">165d</text>
<text x="0" y="0" font-size="7.6" text-anchor="middle" fill="#333" textLength="24.2" lengthAdjust="spacingAndGlyphs" transform="translate(397.9 84.8) rotate(-90)">VAF (%)</text>
<line x1="438.4" y1="121.5" x2="462.4" y2="87.97" stroke="#c51a62" stroke-width="1.15" />
<circle cx="438.4" cy="121.5" r="1.45" fill="#b0164f"/>
<circle cx="462.4" cy="87.97" r="1.45" fill="#b0164f"/>
<text x="472.8" y="87.6" font-size="6.9" fill="#333">TP53 A347fs</text>
<line x1="438.4" y1="121.5" x2="462.4" y2="101.69" stroke="#c51a62" stroke-width="1.15" />
<circle cx="438.4" cy="121.5" r="1.45" fill="#b0164f"/>
<circle cx="462.4" cy="101.69" r="1.45" fill="#b0164f"/>
<text x="472.8" y="104.9" font-size="6.9" fill="#333">TP53 T304fs</text>
<text x="450.8" y="167.6" font-size="6.8" text-anchor="middle" fill="#333" textLength="42.5" lengthAdjust="spacingAndGlyphs">SJALL058838</text>
<text x="451.3" y="177.5" font-size="6.9" text-anchor="middle" fill="#333" textLength="44.7" lengthAdjust="spacingAndGlyphs"><tspan font-style="italic">ZNF384</tspan>-R, NR</text>
<text x="440.2" y="189.2" font-size="6.6" text-anchor="middle" fill="#333">88%</text>
<text x="467.1" y="189.2" font-size="6.6" text-anchor="middle" fill="#333">91%</text>
<text x="495.9" y="189.2" font-size="6.6" text-anchor="middle" fill="#333">Blasts</text>
<line x1="422.5" y1="191.8" x2="422.5" y2="279.45" stroke="#1a1a1a" stroke-width="0.95" />
<line x1="422" y1="279" x2="478.5" y2="279" stroke="#1a1a1a" stroke-width="0.95" />
<line x1="419.3" y1="195.3" x2="422.5" y2="195.3" stroke="#1a1a1a" stroke-width="0.9" />
<text x="416.6" y="197.5" font-size="6.3" text-anchor="end" fill="#333">100</text>
<line x1="419.3" y1="210.54" x2="422.5" y2="210.54" stroke="#1a1a1a" stroke-width="0.9" />
<text x="416.6" y="212.74" font-size="6.3" text-anchor="end" fill="#333">80</text>
<line x1="419.3" y1="225.78" x2="422.5" y2="225.78" stroke="#1a1a1a" stroke-width="0.9" />
<text x="416.6" y="227.98" font-size="6.3" text-anchor="end" fill="#333">60</text>
<line x1="419.3" y1="241.02" x2="422.5" y2="241.02" stroke="#1a1a1a" stroke-width="0.9" />
<text x="416.6" y="243.22" font-size="6.3" text-anchor="end" fill="#333">40</text>
<line x1="419.3" y1="256.26" x2="422.5" y2="256.26" stroke="#1a1a1a" stroke-width="0.9" />
<text x="416.6" y="258.46" font-size="6.3" text-anchor="end" fill="#333">20</text>
<line x1="419.3" y1="271.5" x2="422.5" y2="271.5" stroke="#1a1a1a" stroke-width="0.9" />
<text x="416.6" y="273.7" font-size="6.3" text-anchor="end" fill="#333">0</text>
<line x1="438.4" y1="279" x2="438.4" y2="282" stroke="#1a1a1a" stroke-width="0.9" />
<line x1="462.4" y1="279" x2="462.4" y2="282" stroke="#1a1a1a" stroke-width="0.9" />
<text x="0" y="0" font-size="7" text-anchor="end" fill="#333" transform="translate(441.2 287.4) rotate(-32)">Baseline</text>
<text x="0" y="0" font-size="7" text-anchor="end" fill="#333" transform="translate(465.2 287.4) rotate(-32)">Post-ino</text>
<text x="473.8" y="292.6" font-size="6.9" fill="#333">125d</text>
<text x="0" y="0" font-size="7.6" text-anchor="middle" fill="#333" textLength="24.2" lengthAdjust="spacingAndGlyphs" transform="translate(397.9 234.8) rotate(-90)">VAF (%)</text>
<line x1="438.4" y1="271.5" x2="462.4" y2="241.02" stroke="#c51a62" stroke-width="1.15" />
<circle cx="438.4" cy="271.5" r="1.45" fill="#b0164f"/>
<circle cx="462.4" cy="241.02" r="1.45" fill="#b0164f"/>
<text x="473.3" y="244.1" font-size="6.9" fill="#333">TP53 C176S</text>
<text x="450.8" y="318.2" font-size="6.8" text-anchor="middle" fill="#333" textLength="42.5" lengthAdjust="spacingAndGlyphs">SJALL055894</text>
<text x="450.6" y="328.1" font-size="6.9" text-anchor="middle" fill="#333" textLength="67.5" lengthAdjust="spacingAndGlyphs">MEF2D-R, Responder</text>
<text x="440.2" y="339.8" font-size="6.6" text-anchor="middle" fill="#d8365e">50%</text>
<text x="467.1" y="339.8" font-size="6.6" text-anchor="middle" fill="#333">79%</text>
<text x="495.9" y="339.8" font-size="6.6" text-anchor="middle" fill="#333">Blasts</text>
<line x1="422.5" y1="342.4" x2="422.5" y2="430.95" stroke="#1a1a1a" stroke-width="0.95" />
<line x1="422" y1="430.5" x2="478.5" y2="430.5" stroke="#1a1a1a" stroke-width="0.95" />
<line x1="419.3" y1="345.9" x2="422.5" y2="345.9" stroke="#1a1a1a" stroke-width="0.9" />
<text x="416.6" y="348.1" font-size="6.3" text-anchor="end" fill="#333">100</text>
<line x1="419.3" y1="361.32" x2="422.5" y2="361.32" stroke="#1a1a1a" stroke-width="0.9" />
<text x="416.6" y="363.52" font-size="6.3" text-anchor="end" fill="#333">80</text>
<line x1="419.3" y1="376.74" x2="422.5" y2="376.74" stroke="#1a1a1a" stroke-width="0.9" />
<text x="416.6" y="378.94" font-size="6.3" text-anchor="end" fill="#333">60</text>
<line x1="419.3" y1="392.16" x2="422.5" y2="392.16" stroke="#1a1a1a" stroke-width="0.9" />
<text x="416.6" y="394.36" font-size="6.3" text-anchor="end" fill="#333">40</text>
<line x1="419.3" y1="407.58" x2="422.5" y2="407.58" stroke="#1a1a1a" stroke-width="0.9" />
<text x="416.6" y="409.78" font-size="6.3" text-anchor="end" fill="#333">20</text>
<line x1="419.3" y1="423" x2="422.5" y2="423" stroke="#1a1a1a" stroke-width="0.9" />
<text x="416.6" y="425.2" font-size="6.3" text-anchor="end" fill="#333">0</text>
<line x1="438.4" y1="430.5" x2="438.4" y2="433.5" stroke="#1a1a1a" stroke-width="0.9" />
<line x1="462.4" y1="430.5" x2="462.4" y2="433.5" stroke="#1a1a1a" stroke-width="0.9" />
<text x="0" y="0" font-size="7" text-anchor="end" fill="#333" transform="translate(441.2 438.9) rotate(-32)">Baseline</text>
<text x="0" y="0" font-size="7" text-anchor="end" fill="#333" transform="translate(465.2 438.9) rotate(-32)">Post-ino</text>
<text x="475.3" y="444.1" font-size="6.9" fill="#333">50d</text>
<text x="0" y="0" font-size="7.6" text-anchor="middle" fill="#333" textLength="24.2" lengthAdjust="spacingAndGlyphs" transform="translate(397.9 385.85) rotate(-90)">VAF (%)</text>
<line x1="438.4" y1="408.35" x2="462.4" y2="372.88" stroke="#c51a62" stroke-width="1.15" />
<circle cx="438.4" cy="408.35" r="1.45" fill="#b0164f"/>
<circle cx="462.4" cy="372.88" r="1.45" fill="#b0164f"/>
<text x="473.3" y="376.2" font-size="6.9" fill="#333">TP53 Y163C</text>
<text x="450.8" y="470.2" font-size="6.8" text-anchor="middle" fill="#333" textLength="42.5" lengthAdjust="spacingAndGlyphs">SJALL050542</text>
<text x="451" y="480.1" font-size="6.9" text-anchor="middle" fill="#333" textLength="60.6" lengthAdjust="spacingAndGlyphs"><tspan font-style="italic">BCR::ABL1</tspan>-like, NR</text>
<text x="440.2" y="491.8" font-size="6.6" text-anchor="middle" fill="#d8365e">34%</text>
<text x="467.1" y="491.8" font-size="6.6" text-anchor="middle" fill="#333">75%</text>
<text x="495.9" y="491.8" font-size="6.6" text-anchor="middle" fill="#333">Blasts</text>
<line x1="422.5" y1="494.4" x2="422.5" y2="582.75" stroke="#1a1a1a" stroke-width="0.95" />
<line x1="422" y1="582.3" x2="478.5" y2="582.3" stroke="#1a1a1a" stroke-width="0.95" />
<line x1="419.3" y1="497.9" x2="422.5" y2="497.9" stroke="#1a1a1a" stroke-width="0.9" />
<text x="416.6" y="500.1" font-size="6.3" text-anchor="end" fill="#333">100</text>
<line x1="419.3" y1="513.28" x2="422.5" y2="513.28" stroke="#1a1a1a" stroke-width="0.9" />
<text x="416.6" y="515.48" font-size="6.3" text-anchor="end" fill="#333">80</text>
<line x1="419.3" y1="528.66" x2="422.5" y2="528.66" stroke="#1a1a1a" stroke-width="0.9" />
<text x="416.6" y="530.86" font-size="6.3" text-anchor="end" fill="#333">60</text>
<line x1="419.3" y1="544.04" x2="422.5" y2="544.04" stroke="#1a1a1a" stroke-width="0.9" />
<text x="416.6" y="546.24" font-size="6.3" text-anchor="end" fill="#333">40</text>
<line x1="419.3" y1="559.42" x2="422.5" y2="559.42" stroke="#1a1a1a" stroke-width="0.9" />
<text x="416.6" y="561.62" font-size="6.3" text-anchor="end" fill="#333">20</text>
<line x1="419.3" y1="574.8" x2="422.5" y2="574.8" stroke="#1a1a1a" stroke-width="0.9" />
<text x="416.6" y="577" font-size="6.3" text-anchor="end" fill="#333">0</text>
<line x1="438.4" y1="582.3" x2="438.4" y2="585.3" stroke="#1a1a1a" stroke-width="0.9" />
<line x1="462.4" y1="582.3" x2="462.4" y2="585.3" stroke="#1a1a1a" stroke-width="0.9" />
<text x="0" y="0" font-size="7" text-anchor="end" fill="#333" transform="translate(441.2 590.7) rotate(-32)">Baseline</text>
<text x="0" y="0" font-size="7" text-anchor="end" fill="#333" transform="translate(465.2 590.7) rotate(-32)">Post-ino</text>
<text x="471" y="595.9" font-size="6.9" fill="#333">105d</text>
<text x="0" y="0" font-size="7.6" text-anchor="middle" fill="#333" textLength="24.2" lengthAdjust="spacingAndGlyphs" transform="translate(397.9 537.75) rotate(-90)">VAF (%)</text>
<line x1="438.4" y1="559.42" x2="462.4" y2="504.05" stroke="#c51a62" stroke-width="1.15" />
<circle cx="438.4" cy="559.42" r="1.45" fill="#b0164f"/>
<circle cx="462.4" cy="504.05" r="1.45" fill="#b0164f"/>
<text x="466.6" y="511.6" font-size="6.9" fill="#333">TP53 R273H</text>
<text x="450.8" y="621.5" font-size="6.8" text-anchor="middle" fill="#333" textLength="42.5" lengthAdjust="spacingAndGlyphs">SJALL054755</text>
<text x="450.6" y="631.4" font-size="6.9" text-anchor="middle" fill="#333" textLength="54.2" lengthAdjust="spacingAndGlyphs">Hyperdiploid, NR</text>
<text x="440.2" y="643.1" font-size="6.6" text-anchor="middle" fill="#333">98%</text>
<text x="467.1" y="643.1" font-size="6.6" text-anchor="middle" fill="#333">93%</text>
<text x="495.9" y="643.1" font-size="6.6" text-anchor="middle" fill="#333">Blasts</text>
<line x1="422.5" y1="645.7" x2="422.5" y2="734.05" stroke="#1a1a1a" stroke-width="0.95" />
<line x1="422" y1="733.6" x2="478.5" y2="733.6" stroke="#1a1a1a" stroke-width="0.95" />
<line x1="419.3" y1="649.2" x2="422.5" y2="649.2" stroke="#1a1a1a" stroke-width="0.9" />
<text x="416.6" y="651.4" font-size="6.3" text-anchor="end" fill="#333">100</text>
<line x1="419.3" y1="664.58" x2="422.5" y2="664.58" stroke="#1a1a1a" stroke-width="0.9" />
<text x="416.6" y="666.78" font-size="6.3" text-anchor="end" fill="#333">80</text>
<line x1="419.3" y1="679.96" x2="422.5" y2="679.96" stroke="#1a1a1a" stroke-width="0.9" />
<text x="416.6" y="682.16" font-size="6.3" text-anchor="end" fill="#333">60</text>
<line x1="419.3" y1="695.34" x2="422.5" y2="695.34" stroke="#1a1a1a" stroke-width="0.9" />
<text x="416.6" y="697.54" font-size="6.3" text-anchor="end" fill="#333">40</text>
<line x1="419.3" y1="710.72" x2="422.5" y2="710.72" stroke="#1a1a1a" stroke-width="0.9" />
<text x="416.6" y="712.92" font-size="6.3" text-anchor="end" fill="#333">20</text>
<line x1="419.3" y1="726.1" x2="422.5" y2="726.1" stroke="#1a1a1a" stroke-width="0.9" />
<text x="416.6" y="728.3" font-size="6.3" text-anchor="end" fill="#333">0</text>
<line x1="438.4" y1="733.6" x2="438.4" y2="736.6" stroke="#1a1a1a" stroke-width="0.9" />
<line x1="462.4" y1="733.6" x2="462.4" y2="736.6" stroke="#1a1a1a" stroke-width="0.9" />
<text x="0" y="0" font-size="7" text-anchor="end" fill="#333" transform="translate(441.2 742) rotate(-32)">Baseline</text>
<text x="0" y="0" font-size="7" text-anchor="end" fill="#333" transform="translate(465.2 742) rotate(-32)">Post-ino</text>
<text x="475.3" y="747.2" font-size="6.9" fill="#333">43d</text>
<text x="0" y="0" font-size="7.6" text-anchor="middle" fill="#333" textLength="24.2" lengthAdjust="spacingAndGlyphs" transform="translate(397.9 689.05) rotate(-90)">VAF (%)</text>
<line x1="438.4" y1="684.57" x2="462.4" y2="660.74" stroke="#c51a62" stroke-width="1.15" />
<circle cx="438.4" cy="684.57" r="1.45" fill="#b0164f"/>
<circle cx="462.4" cy="660.74" r="1.45" fill="#b0164f"/>
<text x="473.3" y="660.9" font-size="6.9" fill="#333">TP53 P152fs</text>
<rect x="0.5" y="0.5" width="519" height="763" fill="none" stroke="#4d4d4d" stroke-width="1"/>
</svg>
</body></html>
